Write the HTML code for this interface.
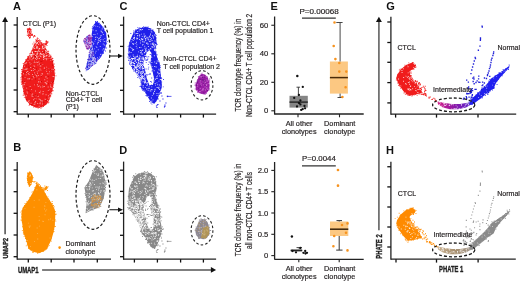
<!DOCTYPE html>
<html><head><meta charset="utf-8"><style>
html,body{margin:0;padding:0;background:#fff;width:520px;height:281px;overflow:hidden}
svg{display:block;will-change:transform}
text{font-family:"Liberation Sans",sans-serif}
</style></head><body>
<svg width="520" height="281" viewBox="0 0 520 281">
<rect width="520" height="281" fill="#fff"/>
<text x="13.0" y="9.8" font-size="11" font-weight="bold" text-anchor="start" fill="#111" >A</text>
<text x="22.8" y="25.6" font-size="7" font-weight="normal" text-anchor="start" fill="#231f20" stroke="#231f20" stroke-width="0.18" >CTCL (P1)</text>
<line x1="17.2" y1="17" x2="17.2" y2="114.75" stroke="#222" stroke-width="1.3" />
<line x1="17.2" y1="114.1" x2="111" y2="114.1" stroke="#222" stroke-width="1.3" />
<line x1="13.6" y1="25" x2="17.2" y2="25" stroke="#111" stroke-width="1.3" />
<line x1="13.6" y1="46.7" x2="17.2" y2="46.7" stroke="#111" stroke-width="1.3" />
<line x1="13.6" y1="68.3" x2="17.2" y2="68.3" stroke="#111" stroke-width="1.3" />
<line x1="13.6" y1="90" x2="17.2" y2="90" stroke="#111" stroke-width="1.3" />
<line x1="13.6" y1="111.7" x2="17.2" y2="111.7" stroke="#111" stroke-width="1.3" />
<line x1="28.3" y1="114.1" x2="28.3" y2="117.5" stroke="#111" stroke-width="1.3" />
<line x1="51.2" y1="114.1" x2="51.2" y2="117.5" stroke="#111" stroke-width="1.3" />
<line x1="74" y1="114.1" x2="74" y2="117.5" stroke="#111" stroke-width="1.3" />
<line x1="97.3" y1="114.1" x2="97.3" y2="117.5" stroke="#111" stroke-width="1.3" />
<polygon points="36.6,38.7 40.4,41.2 43.6,45.0 46.2,48.9 49.4,54.0 51.3,57.3 53.0,61.0 54.3,68.9 55.0,76.0 54.0,82.0 52.3,91.6 49.5,99.8 46.3,104.7 41.0,107.5 36.0,107.7 29.9,104.7 25.8,99.8 23.4,91.6 21.7,81.8 21.5,76.0 22.0,70.3 23.9,63.0 27.6,57.3 30.8,52.8 32.7,47.6 34.7,43.2" fill="#f01c1c" />
<path d="M31.9 48.7h0.9v0.9h-0.9zM39.0 63.5h0.9v0.9h-0.9zM23.0 73.3h0.9v0.9h-0.9zM22.3 68.2h0.9v0.9h-0.9zM35.3 95.3h0.9v0.9h-0.9zM42.1 103.6h0.9v0.9h-0.9zM40.4 65.6h0.9v0.9h-0.9zM49.8 58.2h0.9v0.9h-0.9zM31.4 94.6h0.9v0.9h-0.9zM27.1 78.4h0.9v0.9h-0.9zM42.5 63.9h0.9v0.9h-0.9zM39.4 42.6h0.9v0.9h-0.9zM43.8 67.8h0.9v0.9h-0.9zM31.6 78.7h0.9v0.9h-0.9zM36.2 58.9h0.9v0.9h-0.9zM47.7 86.5h0.9v0.9h-0.9zM29.2 77.9h0.9v0.9h-0.9zM38.6 98.6h0.9v0.9h-0.9zM45.5 58.1h0.9v0.9h-0.9zM35.1 90.5h0.9v0.9h-0.9zM26.1 72.0h0.9v0.9h-0.9zM22.4 84.4h0.9v0.9h-0.9zM46.7 77.8h0.9v0.9h-0.9zM50.4 59.9h0.9v0.9h-0.9zM44.3 79.3h0.9v0.9h-0.9zM40.5 69.7h0.9v0.9h-0.9zM36.9 84.1h0.9v0.9h-0.9zM23.1 86.7h0.9v0.9h-0.9zM48.6 57.9h0.9v0.9h-0.9zM34.0 84.4h0.9v0.9h-0.9zM21.8 70.1h0.9v0.9h-0.9zM23.0 91.3h0.9v0.9h-0.9zM34.1 98.4h0.9v0.9h-0.9zM23.7 69.2h0.9v0.9h-0.9zM39.5 99.2h0.9v0.9h-0.9zM48.5 97.9h0.9v0.9h-0.9zM30.4 66.9h0.9v0.9h-0.9zM33.1 99.3h0.9v0.9h-0.9zM28.9 71.7h0.9v0.9h-0.9zM40.8 56.4h0.9v0.9h-0.9zM33.4 77.3h0.9v0.9h-0.9zM38.3 80.9h0.9v0.9h-0.9zM51.2 92.1h0.9v0.9h-0.9zM50.3 93.3h0.9v0.9h-0.9zM34.2 65.8h0.9v0.9h-0.9zM24.5 82.0h0.9v0.9h-0.9zM24.4 63.3h0.9v0.9h-0.9zM41.6 48.5h0.9v0.9h-0.9zM29.5 62.2h0.9v0.9h-0.9zM33.2 46.7h0.9v0.9h-0.9zM36.7 71.6h0.9v0.9h-0.9zM32.5 56.5h0.9v0.9h-0.9zM38.7 48.4h0.9v0.9h-0.9zM38.7 105.8h0.9v0.9h-0.9zM50.0 86.3h0.9v0.9h-0.9zM29.8 63.6h0.9v0.9h-0.9zM26.6 91.5h0.9v0.9h-0.9zM38.9 92.0h0.9v0.9h-0.9zM32.1 53.6h0.9v0.9h-0.9zM49.6 93.9h0.9v0.9h-0.9zM48.5 89.3h0.9v0.9h-0.9zM28.6 74.0h0.9v0.9h-0.9zM29.7 86.0h0.9v0.9h-0.9zM53.1 69.1h0.9v0.9h-0.9zM42.0 100.4h0.9v0.9h-0.9zM49.2 71.3h0.9v0.9h-0.9zM42.9 93.4h0.9v0.9h-0.9zM23.9 83.8h0.9v0.9h-0.9zM46.2 71.2h0.9v0.9h-0.9zM27.0 92.7h0.9v0.9h-0.9zM32.2 93.5h0.9v0.9h-0.9zM34.5 103.6h0.9v0.9h-0.9zM45.3 50.0h0.9v0.9h-0.9zM25.9 95.3h0.9v0.9h-0.9zM32.8 76.1h0.9v0.9h-0.9zM38.7 102.7h0.9v0.9h-0.9zM35.6 98.4h0.9v0.9h-0.9zM29.5 58.5h0.9v0.9h-0.9zM29.1 78.7h0.9v0.9h-0.9zM29.7 67.2h0.9v0.9h-0.9zM32.9 69.9h0.9v0.9h-0.9zM40.6 100.6h0.9v0.9h-0.9zM35.1 101.6h0.9v0.9h-0.9zM37.9 74.9h0.9v0.9h-0.9zM35.8 50.9h0.9v0.9h-0.9zM26.8 70.9h0.9v0.9h-0.9zM45.3 76.6h0.9v0.9h-0.9zM32.0 74.0h0.9v0.9h-0.9zM39.7 92.4h0.9v0.9h-0.9zM24.6 76.9h0.9v0.9h-0.9zM29.4 57.4h0.9v0.9h-0.9zM46.9 73.3h0.9v0.9h-0.9zM39.9 90.7h0.9v0.9h-0.9zM51.6 68.8h0.9v0.9h-0.9zM41.6 73.1h0.9v0.9h-0.9zM38.2 86.0h0.9v0.9h-0.9zM36.2 75.0h0.9v0.9h-0.9zM37.1 103.2h0.9v0.9h-0.9zM44.5 98.7h0.9v0.9h-0.9zM39.8 103.3h0.9v0.9h-0.9zM25.1 68.8h0.9v0.9h-0.9zM23.5 84.4h0.9v0.9h-0.9zM47.3 100.1h0.9v0.9h-0.9zM26.2 87.7h0.9v0.9h-0.9zM43.2 48.1h0.9v0.9h-0.9zM34.4 71.9h0.9v0.9h-0.9zM26.5 68.0h0.9v0.9h-0.9zM38.3 61.6h0.9v0.9h-0.9zM27.6 60.2h0.9v0.9h-0.9zM39.6 68.6h0.9v0.9h-0.9zM42.0 73.6h0.9v0.9h-0.9zM35.2 101.1h0.9v0.9h-0.9zM48.5 56.1h0.9v0.9h-0.9zM40.2 86.6h0.9v0.9h-0.9zM44.1 67.6h0.9v0.9h-0.9zM42.3 93.6h0.9v0.9h-0.9zM36.3 61.7h0.9v0.9h-0.9zM39.6 102.2h0.9v0.9h-0.9zM38.7 54.7h0.9v0.9h-0.9zM31.5 59.3h0.9v0.9h-0.9zM46.5 58.3h0.9v0.9h-0.9zM37.8 50.5h0.9v0.9h-0.9zM45.6 76.3h0.9v0.9h-0.9zM27.4 71.0h0.9v0.9h-0.9zM48.5 68.1h0.9v0.9h-0.9zM37.6 95.8h0.9v0.9h-0.9zM34.2 73.2h0.9v0.9h-0.9zM32.5 95.7h0.9v0.9h-0.9zM44.7 82.1h0.9v0.9h-0.9zM34.6 62.2h0.9v0.9h-0.9zM23.4 89.4h0.9v0.9h-0.9zM50.2 84.5h0.9v0.9h-0.9zM30.5 55.0h0.9v0.9h-0.9zM30.9 70.0h0.9v0.9h-0.9zM26.3 69.0h0.9v0.9h-0.9zM53.6 76.0h0.9v0.9h-0.9zM31.4 62.9h0.9v0.9h-0.9zM37.0 72.9h0.9v0.9h-0.9zM27.8 73.1h0.9v0.9h-0.9zM24.1 65.8h0.9v0.9h-0.9zM31.2 54.3h0.9v0.9h-0.9zM40.7 74.8h0.9v0.9h-0.9zM46.2 83.6h0.9v0.9h-0.9zM45.0 98.9h0.9v0.9h-0.9zM34.1 60.8h0.9v0.9h-0.9zM45.3 82.6h0.9v0.9h-0.9zM50.9 81.5h0.9v0.9h-0.9zM45.6 94.3h0.9v0.9h-0.9zM25.7 74.4h0.9v0.9h-0.9zM37.9 95.9h0.9v0.9h-0.9zM48.0 95.3h0.9v0.9h-0.9zM40.6 99.9h0.9v0.9h-0.9zM43.9 86.1h0.9v0.9h-0.9zM25.5 63.1h0.9v0.9h-0.9zM24.6 95.9h0.9v0.9h-0.9zM39.8 81.6h0.9v0.9h-0.9zM42.0 85.2h0.9v0.9h-0.9zM47.8 89.9h0.9v0.9h-0.9zM37.9 75.2h0.9v0.9h-0.9zM45.7 55.7h0.9v0.9h-0.9zM45.5 52.4h0.9v0.9h-0.9zM37.6 64.6h0.9v0.9h-0.9zM37.1 85.4h0.9v0.9h-0.9zM46.7 80.8h0.9v0.9h-0.9zM45.9 59.3h0.9v0.9h-0.9zM43.6 86.0h0.9v0.9h-0.9zM43.7 58.3h0.9v0.9h-0.9zM38.4 70.3h0.9v0.9h-0.9zM36.7 46.4h0.9v0.9h-0.9zM21.6 69.9h0.9v0.9h-0.9zM36.1 56.8h0.9v0.9h-0.9zM28.1 78.4h0.9v0.9h-0.9zM25.8 74.4h0.9v0.9h-0.9zM48.5 73.4h0.9v0.9h-0.9zM50.8 86.8h0.9v0.9h-0.9zM28.8 100.2h0.9v0.9h-0.9zM37.3 40.0h0.9v0.9h-0.9zM36.2 59.1h0.9v0.9h-0.9zM25.8 62.0h0.9v0.9h-0.9zM31.6 96.2h0.9v0.9h-0.9zM52.1 87.4h0.9v0.9h-0.9zM51.3 58.2h0.9v0.9h-0.9zM33.5 65.4h0.9v0.9h-0.9zM33.1 67.8h0.9v0.9h-0.9zM24.5 95.8h0.9v0.9h-0.9zM30.6 102.8h0.9v0.9h-0.9zM29.4 56.6h0.9v0.9h-0.9zM38.2 51.3h0.9v0.9h-0.9zM33.6 104.2h0.9v0.9h-0.9zM50.7 94.3h0.9v0.9h-0.9zM42.2 101.3h0.9v0.9h-0.9zM52.6 76.1h0.9v0.9h-0.9zM45.6 69.4h0.9v0.9h-0.9zM46.3 82.7h0.9v0.9h-0.9zM36.9 62.0h0.9v0.9h-0.9zM31.0 89.2h0.9v0.9h-0.9zM43.0 59.0h0.9v0.9h-0.9zM39.7 65.5h0.9v0.9h-0.9zM28.0 100.8h0.9v0.9h-0.9zM37.7 53.4h0.9v0.9h-0.9zM36.1 47.9h0.9v0.9h-0.9zM29.1 56.1h0.9v0.9h-0.9zM40.1 99.5h0.9v0.9h-0.9zM46.2 66.7h0.9v0.9h-0.9zM34.9 74.4h0.9v0.9h-0.9zM33.7 61.6h0.9v0.9h-0.9zM37.9 81.7h0.9v0.9h-0.9zM30.1 55.4h0.9v0.9h-0.9zM34.4 69.0h0.9v0.9h-0.9zM51.1 70.9h0.9v0.9h-0.9zM34.2 102.2h0.9v0.9h-0.9zM48.7 97.3h0.9v0.9h-0.9zM38.5 85.3h0.9v0.9h-0.9zM42.7 91.0h0.9v0.9h-0.9zM36.4 76.3h0.9v0.9h-0.9zM28.8 101.7h0.9v0.9h-0.9zM42.7 59.2h0.9v0.9h-0.9zM42.4 86.5h0.9v0.9h-0.9zM38.6 78.5h0.9v0.9h-0.9zM34.1 53.7h0.9v0.9h-0.9zM31.2 70.0h0.9v0.9h-0.9zM53.2 82.7h0.9v0.9h-0.9z" fill="#ffffff" opacity="0.6"/>
<path d="M50.7 71.0h0.9v0.9h-0.9zM28.9 55.3h0.9v0.9h-0.9zM37.7 84.8h0.9v0.9h-0.9zM35.1 56.0h0.9v0.9h-0.9zM43.4 102.1h0.9v0.9h-0.9zM32.4 67.3h0.9v0.9h-0.9zM43.9 51.9h0.9v0.9h-0.9zM47.8 89.2h0.9v0.9h-0.9zM38.0 52.4h0.9v0.9h-0.9zM48.5 54.2h0.9v0.9h-0.9zM28.5 90.7h0.9v0.9h-0.9zM30.9 103.9h0.9v0.9h-0.9zM37.7 51.2h0.9v0.9h-0.9zM28.5 67.0h0.9v0.9h-0.9zM43.3 103.7h0.9v0.9h-0.9zM26.0 65.4h0.9v0.9h-0.9zM23.1 65.4h0.9v0.9h-0.9zM52.3 61.0h0.9v0.9h-0.9zM43.3 64.4h0.9v0.9h-0.9zM33.6 61.1h0.9v0.9h-0.9zM30.4 62.5h0.9v0.9h-0.9zM33.0 94.9h0.9v0.9h-0.9zM48.6 68.1h0.9v0.9h-0.9zM22.7 70.9h0.9v0.9h-0.9zM33.5 101.7h0.9v0.9h-0.9zM27.5 63.4h0.9v0.9h-0.9zM34.8 94.3h0.9v0.9h-0.9zM46.1 100.3h0.9v0.9h-0.9zM32.4 57.0h0.9v0.9h-0.9zM53.1 80.8h0.9v0.9h-0.9zM29.8 87.7h0.9v0.9h-0.9zM31.7 57.3h0.9v0.9h-0.9zM51.8 82.0h0.9v0.9h-0.9zM28.9 71.0h0.9v0.9h-0.9zM34.0 55.6h0.9v0.9h-0.9zM35.5 72.3h0.9v0.9h-0.9zM47.9 89.2h0.9v0.9h-0.9zM48.6 91.6h0.9v0.9h-0.9zM41.4 60.9h0.9v0.9h-0.9zM31.8 63.2h0.9v0.9h-0.9zM27.7 90.2h0.9v0.9h-0.9zM22.2 76.4h0.9v0.9h-0.9zM24.3 72.6h0.9v0.9h-0.9zM44.8 69.1h0.9v0.9h-0.9zM28.9 67.0h0.9v0.9h-0.9zM41.8 84.8h0.9v0.9h-0.9zM46.1 96.7h0.9v0.9h-0.9zM43.3 46.6h0.9v0.9h-0.9zM49.2 58.5h0.9v0.9h-0.9zM40.0 64.0h0.9v0.9h-0.9zM45.8 52.0h0.9v0.9h-0.9zM29.3 55.2h0.9v0.9h-0.9zM26.2 99.3h0.9v0.9h-0.9zM40.4 60.8h0.9v0.9h-0.9zM38.0 54.2h0.9v0.9h-0.9zM48.1 83.3h0.9v0.9h-0.9zM37.0 94.8h0.9v0.9h-0.9zM53.6 78.5h0.9v0.9h-0.9zM52.2 63.9h0.9v0.9h-0.9zM50.1 69.2h0.9v0.9h-0.9zM29.8 91.9h0.9v0.9h-0.9zM41.0 81.0h0.9v0.9h-0.9zM28.3 63.7h0.9v0.9h-0.9zM29.6 79.6h0.9v0.9h-0.9zM42.9 52.3h0.9v0.9h-0.9zM43.8 51.0h0.9v0.9h-0.9zM31.5 52.3h0.9v0.9h-0.9zM47.7 76.1h0.9v0.9h-0.9zM34.3 76.2h0.9v0.9h-0.9zM42.5 44.5h0.9v0.9h-0.9zM26.5 86.2h0.9v0.9h-0.9zM34.8 57.8h0.9v0.9h-0.9zM31.4 104.0h0.9v0.9h-0.9zM31.5 77.3h0.9v0.9h-0.9zM33.0 67.0h0.9v0.9h-0.9zM33.2 51.9h0.9v0.9h-0.9zM45.4 52.3h0.9v0.9h-0.9zM35.2 94.9h0.9v0.9h-0.9zM34.7 99.2h0.9v0.9h-0.9zM36.5 49.5h0.9v0.9h-0.9zM21.5 76.3h0.9v0.9h-0.9zM42.5 101.0h0.9v0.9h-0.9zM24.0 81.2h0.9v0.9h-0.9zM33.5 73.1h0.9v0.9h-0.9zM38.5 102.1h0.9v0.9h-0.9zM24.7 72.1h0.9v0.9h-0.9zM37.2 41.9h0.9v0.9h-0.9zM52.1 65.0h0.9v0.9h-0.9zM51.3 81.1h0.9v0.9h-0.9zM47.4 53.6h0.9v0.9h-0.9zM34.6 96.6h0.9v0.9h-0.9zM28.4 65.8h0.9v0.9h-0.9zM38.4 64.7h0.9v0.9h-0.9zM45.3 100.2h0.9v0.9h-0.9zM22.4 77.1h0.9v0.9h-0.9zM41.1 76.2h0.9v0.9h-0.9zM42.1 59.4h0.9v0.9h-0.9zM35.1 78.5h0.9v0.9h-0.9zM35.3 83.7h0.9v0.9h-0.9zM36.0 68.5h0.9v0.9h-0.9zM21.8 81.0h0.9v0.9h-0.9z" fill="#c00000" opacity="0.8"/>
<path d="M40.5 108.2h0.9v0.9h-0.9zM21.1 70.7h0.9v0.9h-0.9zM43.0 106.1h0.9v0.9h-0.9zM48.4 101.8h0.9v0.9h-0.9zM38.0 107.4h0.9v0.9h-0.9zM45.2 46.6h0.9v0.9h-0.9zM37.6 107.5h0.9v0.9h-0.9zM51.4 93.4h0.9v0.9h-0.9zM26.9 58.9h0.9v0.9h-0.9zM23.5 66.9h0.9v0.9h-0.9zM41.5 106.7h0.9v0.9h-0.9zM52.4 57.9h0.9v0.9h-0.9zM43.1 46.5h0.9v0.9h-0.9zM52.1 58.2h0.9v0.9h-0.9zM23.3 65.6h0.9v0.9h-0.9zM31.2 50.8h0.9v0.9h-0.9zM37.6 107.3h0.9v0.9h-0.9zM53.7 63.5h0.9v0.9h-0.9zM22.5 86.6h0.9v0.9h-0.9zM22.2 70.4h0.9v0.9h-0.9zM22.8 94.8h0.9v0.9h-0.9zM29.0 104.0h0.9v0.9h-0.9zM48.2 50.8h0.9v0.9h-0.9zM50.3 95.5h0.9v0.9h-0.9zM35.0 39.4h0.9v0.9h-0.9zM20.9 73.2h0.9v0.9h-0.9zM22.3 76.9h0.9v0.9h-0.9zM53.1 72.1h0.9v0.9h-0.9zM26.5 100.6h0.9v0.9h-0.9zM36.8 38.5h0.9v0.9h-0.9zM23.9 97.2h0.9v0.9h-0.9zM29.7 54.2h0.9v0.9h-0.9zM23.0 91.1h0.9v0.9h-0.9zM52.6 90.3h0.9v0.9h-0.9zM53.1 68.4h0.9v0.9h-0.9zM52.8 65.1h0.9v0.9h-0.9zM50.3 54.8h0.9v0.9h-0.9zM51.8 57.7h0.9v0.9h-0.9zM27.2 56.3h0.9v0.9h-0.9zM55.5 75.4h0.9v0.9h-0.9zM28.7 104.9h0.9v0.9h-0.9zM47.6 102.7h0.9v0.9h-0.9zM54.5 72.7h0.9v0.9h-0.9zM33.3 106.7h0.9v0.9h-0.9zM43.2 44.4h0.9v0.9h-0.9zM31.3 104.8h0.9v0.9h-0.9zM52.6 64.4h0.9v0.9h-0.9zM23.6 92.5h0.9v0.9h-0.9zM53.3 82.8h0.9v0.9h-0.9zM29.0 53.5h0.9v0.9h-0.9zM37.7 37.9h0.9v0.9h-0.9zM43.9 104.5h0.9v0.9h-0.9zM54.3 69.5h0.9v0.9h-0.9zM40.5 43.1h0.9v0.9h-0.9zM22.4 83.4h0.9v0.9h-0.9zM53.8 75.4h0.9v0.9h-0.9zM21.2 69.1h0.9v0.9h-0.9zM23.9 92.7h0.9v0.9h-0.9zM28.4 55.9h0.9v0.9h-0.9zM54.0 69.1h0.9v0.9h-0.9zM20.4 77.3h0.9v0.9h-0.9zM52.9 87.2h0.9v0.9h-0.9zM23.6 93.6h0.9v0.9h-0.9zM33.5 41.7h0.9v0.9h-0.9zM22.2 83.3h0.9v0.9h-0.9zM20.6 79.3h0.9v0.9h-0.9zM53.4 66.7h0.9v0.9h-0.9zM30.7 51.8h0.9v0.9h-0.9zM48.0 50.9h0.9v0.9h-0.9zM50.6 56.1h0.9v0.9h-0.9zM21.1 83.9h0.9v0.9h-0.9zM22.0 78.0h0.9v0.9h-0.9zM52.3 90.1h0.9v0.9h-0.9zM30.2 54.9h0.9v0.9h-0.9zM31.1 51.0h0.9v0.9h-0.9zM53.6 66.0h0.9v0.9h-0.9zM25.3 59.3h0.9v0.9h-0.9zM22.8 63.0h0.9v0.9h-0.9zM47.8 50.9h0.9v0.9h-0.9zM53.1 66.4h0.9v0.9h-0.9zM39.0 40.7h0.9v0.9h-0.9zM20.8 81.5h0.9v0.9h-0.9zM32.5 43.6h0.9v0.9h-0.9zM25.2 96.7h0.9v0.9h-0.9zM47.3 101.5h0.9v0.9h-0.9zM21.0 82.7h0.9v0.9h-0.9zM27.3 58.9h0.9v0.9h-0.9zM52.9 60.2h0.9v0.9h-0.9zM21.3 73.5h0.9v0.9h-0.9zM38.9 107.1h0.9v0.9h-0.9z" fill="#f01c1c" opacity="0.95"/>
<path d="M35.4 55.1h0.9v0.9h-0.9zM33.3 57.4h0.9v0.9h-0.9zM43.7 48.4h0.9v0.9h-0.9zM29.1 54.2h0.9v0.9h-0.9zM43.7 54.2h0.9v0.9h-0.9zM42.0 45.5h0.9v0.9h-0.9zM36.7 46.3h0.9v0.9h-0.9zM36.1 56.2h0.9v0.9h-0.9zM32.7 47.6h0.9v0.9h-0.9zM39.7 53.6h0.9v0.9h-0.9zM45.0 51.4h0.9v0.9h-0.9zM35.4 44.9h0.9v0.9h-0.9zM30.8 55.4h0.9v0.9h-0.9zM42.8 53.3h0.9v0.9h-0.9zM45.5 50.0h0.9v0.9h-0.9zM43.8 55.4h0.9v0.9h-0.9zM39.5 41.5h0.9v0.9h-0.9zM34.9 42.1h0.9v0.9h-0.9zM44.5 47.1h0.9v0.9h-0.9zM31.8 51.2h0.9v0.9h-0.9zM36.4 38.9h0.9v0.9h-0.9zM36.6 54.3h0.9v0.9h-0.9zM43.6 48.4h0.9v0.9h-0.9zM42.1 47.7h0.9v0.9h-0.9zM36.7 53.3h0.9v0.9h-0.9zM40.8 53.5h0.9v0.9h-0.9zM37.1 42.9h0.9v0.9h-0.9zM44.3 56.1h0.9v0.9h-0.9zM45.5 52.5h0.9v0.9h-0.9zM47.4 52.0h0.9v0.9h-0.9zM42.4 47.5h0.9v0.9h-0.9zM34.6 51.0h0.9v0.9h-0.9zM45.7 52.7h0.9v0.9h-0.9zM42.1 43.3h0.9v0.9h-0.9zM37.2 47.5h0.9v0.9h-0.9zM41.9 46.6h0.9v0.9h-0.9zM43.2 57.1h0.9v0.9h-0.9zM31.5 51.5h0.9v0.9h-0.9zM38.8 58.0h0.9v0.9h-0.9zM31.0 54.1h0.9v0.9h-0.9zM40.0 52.8h0.9v0.9h-0.9zM39.3 51.2h0.9v0.9h-0.9zM36.9 57.5h0.9v0.9h-0.9zM32.1 52.1h0.9v0.9h-0.9zM36.5 53.7h0.9v0.9h-0.9zM33.7 46.4h0.9v0.9h-0.9zM37.1 52.4h0.9v0.9h-0.9zM35.5 43.6h0.9v0.9h-0.9zM32.5 53.3h0.9v0.9h-0.9zM32.3 54.5h0.9v0.9h-0.9zM36.4 42.6h0.9v0.9h-0.9zM30.2 54.0h0.9v0.9h-0.9zM46.3 51.1h0.9v0.9h-0.9zM38.3 49.7h0.9v0.9h-0.9zM32.5 57.8h0.9v0.9h-0.9zM35.5 51.2h0.9v0.9h-0.9zM46.6 54.8h0.9v0.9h-0.9zM38.2 44.2h0.9v0.9h-0.9zM36.1 43.4h0.9v0.9h-0.9zM37.2 42.0h0.9v0.9h-0.9zM34.3 48.0h0.9v0.9h-0.9zM37.3 51.2h0.9v0.9h-0.9zM42.8 45.6h0.9v0.9h-0.9zM49.2 55.6h0.9v0.9h-0.9zM28.5 55.1h0.9v0.9h-0.9zM48.6 54.2h0.9v0.9h-0.9zM30.5 55.1h0.9v0.9h-0.9zM32.7 54.0h0.9v0.9h-0.9zM35.4 41.3h0.9v0.9h-0.9zM48.6 54.3h0.9v0.9h-0.9zM31.1 56.3h0.9v0.9h-0.9zM41.6 54.1h0.9v0.9h-0.9zM43.0 56.4h0.9v0.9h-0.9zM45.8 55.3h0.9v0.9h-0.9zM31.8 52.3h0.9v0.9h-0.9zM39.7 53.3h0.9v0.9h-0.9zM37.5 56.2h0.9v0.9h-0.9zM40.3 43.6h0.9v0.9h-0.9zM38.2 41.2h0.9v0.9h-0.9zM38.8 48.4h0.9v0.9h-0.9zM39.9 55.8h0.9v0.9h-0.9zM38.2 49.7h0.9v0.9h-0.9zM42.9 55.3h0.9v0.9h-0.9zM36.0 46.8h0.9v0.9h-0.9zM42.2 51.2h0.9v0.9h-0.9zM43.3 57.2h0.9v0.9h-0.9zM35.0 58.2h0.9v0.9h-0.9zM39.3 48.1h0.9v0.9h-0.9z" fill="#ffffff" opacity="0.85"/>
<polygon points="29.5,27.6 31.0,29.0 31.6,31.6 31.2,35.0 30.6,38.0 29.5,39.0 28.3,36.0 27.0,31.6 27.6,29.0" fill="#f01c1c" />
<path d="M29.9 34.3h0.9v0.9h-0.9zM28.2 32.6h0.9v0.9h-0.9zM29.0 35.9h0.9v0.9h-0.9zM27.5 32.1h0.9v0.9h-0.9zM28.5 33.5h0.9v0.9h-0.9zM30.4 30.5h0.9v0.9h-0.9zM30.4 31.8h0.9v0.9h-0.9zM28.9 30.2h0.9v0.9h-0.9zM29.6 36.2h0.9v0.9h-0.9zM28.1 30.8h0.9v0.9h-0.9z" fill="#ffffff" opacity="0.8"/>
<path d="M30.2 33.7h0.9v0.9h-0.9zM27.5 31.8h0.9v0.9h-0.9zM26.9 29.1h0.9v0.9h-0.9zM31.1 34.1h0.9v0.9h-0.9zM26.9 27.9h0.9v0.9h-0.9zM27.2 31.1h0.9v0.9h-0.9zM27.4 35.2h0.9v0.9h-0.9zM28.0 35.9h0.9v0.9h-0.9zM26.7 34.7h0.9v0.9h-0.9zM30.7 29.2h0.9v0.9h-0.9zM27.4 31.5h0.9v0.9h-0.9zM30.9 35.0h0.9v0.9h-0.9z" fill="#f01c1c" opacity="0.95"/>
<polygon points="46.3,40.8 47.6,42.3 46.5,45.0 44.4,45.5 44.5,43.5" fill="#f01c1c" />
<path d="M45.7 41.6h0.9v0.9h-0.9zM44.9 42.3h0.9v0.9h-0.9z" fill="#ffffff" opacity="0.8"/>
<path d="M45.8 43.9h0.9v0.9h-0.9zM46.0 41.2h0.9v0.9h-0.9zM46.8 41.3h0.9v0.9h-0.9zM44.4 44.8h0.9v0.9h-0.9zM45.5 40.9h0.9v0.9h-0.9zM46.0 40.9h0.9v0.9h-0.9zM46.5 45.0h0.9v0.9h-0.9zM47.0 42.5h0.9v0.9h-0.9zM45.8 40.2h0.9v0.9h-0.9zM46.5 41.2h0.9v0.9h-0.9zM47.7 41.6h0.9v0.9h-0.9zM46.7 42.5h0.9v0.9h-0.9z" fill="#f01c1c" opacity="0.95"/>
<path d="M43.3 43.3h0.9v0.9h-0.9zM41.7 44.6h0.9v0.9h-0.9zM41.6 44.3h0.9v0.9h-0.9zM42.1 43.6h0.9v0.9h-0.9zM33.5 35.6h0.9v0.9h-0.9zM43.4 43.0h0.9v0.9h-0.9zM33.7 35.5h0.9v0.9h-0.9zM32.1 33.8h0.9v0.9h-0.9zM43.6 45.9h0.9v0.9h-0.9zM42.8 44.8h0.9v0.9h-0.9zM41.3 42.3h0.9v0.9h-0.9zM31.8 35.0h0.9v0.9h-0.9zM34.1 35.0h0.9v0.9h-0.9zM42.3 44.6h0.9v0.9h-0.9zM36.9 37.5h0.9v0.9h-0.9zM40.3 40.3h0.9v0.9h-0.9zM33.1 36.6h0.9v0.9h-0.9zM34.4 35.8h0.9v0.9h-0.9zM32.1 34.3h0.9v0.9h-0.9zM39.0 39.5h0.9v0.9h-0.9zM34.6 35.8h0.9v0.9h-0.9zM42.0 44.3h0.9v0.9h-0.9zM41.7 44.3h0.9v0.9h-0.9zM37.7 40.0h0.9v0.9h-0.9z" fill="#f01c1c" opacity="1.0"/>
<polygon points="96.4,21.4 100.0,23.5 103.6,27.8 106.0,33.0 106.8,39.0 106.2,44.0 105.5,48.0 103.5,52.0 100.9,57.3 98.0,60.0 95.0,58.0 93.0,52.0 92.0,45.0 91.5,36.0 92.5,28.0 93.6,25.0" fill="#2222ee" />
<path d="M93.8 24.9h0.9v0.9h-0.9zM94.9 52.5h0.9v0.9h-0.9zM101.7 28.5h0.9v0.9h-0.9zM99.9 41.1h0.9v0.9h-0.9zM104.4 48.6h0.9v0.9h-0.9zM98.6 40.3h0.9v0.9h-0.9zM95.3 25.7h0.9v0.9h-0.9zM97.3 26.2h0.9v0.9h-0.9zM100.1 54.2h0.9v0.9h-0.9zM93.3 43.1h0.9v0.9h-0.9zM102.5 27.3h0.9v0.9h-0.9zM97.0 37.2h0.9v0.9h-0.9zM103.9 41.2h0.9v0.9h-0.9zM97.1 57.3h0.9v0.9h-0.9zM102.9 34.0h0.9v0.9h-0.9zM94.7 33.9h0.9v0.9h-0.9zM97.7 58.8h0.9v0.9h-0.9zM91.9 40.9h0.9v0.9h-0.9zM94.9 37.2h0.9v0.9h-0.9zM100.7 35.0h0.9v0.9h-0.9zM99.2 23.6h0.9v0.9h-0.9zM97.7 40.4h0.9v0.9h-0.9zM105.4 45.4h0.9v0.9h-0.9zM100.9 31.2h0.9v0.9h-0.9zM101.4 31.5h0.9v0.9h-0.9zM99.3 56.6h0.9v0.9h-0.9zM100.6 30.6h0.9v0.9h-0.9zM99.0 37.7h0.9v0.9h-0.9zM95.7 45.9h0.9v0.9h-0.9zM92.9 43.9h0.9v0.9h-0.9zM105.7 40.8h0.9v0.9h-0.9zM95.2 39.0h0.9v0.9h-0.9zM99.2 26.7h0.9v0.9h-0.9zM92.9 26.0h0.9v0.9h-0.9zM95.5 36.6h0.9v0.9h-0.9zM95.5 30.3h0.9v0.9h-0.9zM92.4 42.0h0.9v0.9h-0.9zM103.9 44.5h0.9v0.9h-0.9zM99.8 46.1h0.9v0.9h-0.9zM94.1 48.4h0.9v0.9h-0.9zM98.1 42.1h0.9v0.9h-0.9zM100.4 39.1h0.9v0.9h-0.9zM95.8 30.3h0.9v0.9h-0.9zM94.4 40.7h0.9v0.9h-0.9zM96.9 43.6h0.9v0.9h-0.9zM91.2 34.6h0.9v0.9h-0.9zM104.2 30.2h0.9v0.9h-0.9zM99.6 39.9h0.9v0.9h-0.9zM95.6 50.8h0.9v0.9h-0.9zM104.4 37.9h0.9v0.9h-0.9zM92.0 35.9h0.9v0.9h-0.9zM97.8 49.3h0.9v0.9h-0.9zM92.7 29.6h0.9v0.9h-0.9zM93.4 34.0h0.9v0.9h-0.9zM96.4 47.0h0.9v0.9h-0.9zM100.5 53.8h0.9v0.9h-0.9zM103.6 40.9h0.9v0.9h-0.9zM102.4 49.6h0.9v0.9h-0.9zM102.7 39.3h0.9v0.9h-0.9zM103.1 48.3h0.9v0.9h-0.9zM102.8 43.6h0.9v0.9h-0.9zM98.7 58.1h0.9v0.9h-0.9zM99.8 37.1h0.9v0.9h-0.9zM100.3 35.6h0.9v0.9h-0.9zM98.0 38.6h0.9v0.9h-0.9zM102.1 32.3h0.9v0.9h-0.9zM97.0 42.4h0.9v0.9h-0.9zM96.9 33.4h0.9v0.9h-0.9zM98.7 38.1h0.9v0.9h-0.9z" fill="#ffffff" opacity="0.7"/>
<path d="M105.5 33.4h0.9v0.9h-0.9zM93.9 56.1h0.9v0.9h-0.9zM91.8 27.8h0.9v0.9h-0.9zM91.7 33.7h0.9v0.9h-0.9zM102.3 53.2h0.9v0.9h-0.9zM98.9 22.7h0.9v0.9h-0.9zM92.4 26.0h0.9v0.9h-0.9zM95.1 21.0h0.9v0.9h-0.9zM91.5 47.4h0.9v0.9h-0.9zM92.7 55.8h0.9v0.9h-0.9zM91.7 47.7h0.9v0.9h-0.9zM103.6 49.7h0.9v0.9h-0.9zM95.3 55.3h0.9v0.9h-0.9zM98.8 58.0h0.9v0.9h-0.9zM95.3 21.8h0.9v0.9h-0.9zM91.3 36.2h0.9v0.9h-0.9zM95.1 21.8h0.9v0.9h-0.9zM103.8 26.6h0.9v0.9h-0.9zM92.3 35.2h0.9v0.9h-0.9zM102.7 53.2h0.9v0.9h-0.9zM97.6 59.1h0.9v0.9h-0.9zM105.0 32.3h0.9v0.9h-0.9zM105.9 47.5h0.9v0.9h-0.9zM98.2 23.4h0.9v0.9h-0.9zM105.7 43.5h0.9v0.9h-0.9zM106.2 42.7h0.9v0.9h-0.9zM92.3 49.2h0.9v0.9h-0.9zM94.9 58.7h0.9v0.9h-0.9zM97.4 58.9h0.9v0.9h-0.9zM103.1 52.3h0.9v0.9h-0.9zM91.5 40.8h0.9v0.9h-0.9zM104.2 31.8h0.9v0.9h-0.9zM93.2 53.0h0.9v0.9h-0.9zM97.0 21.0h0.9v0.9h-0.9zM91.3 44.7h0.9v0.9h-0.9zM107.2 40.9h0.9v0.9h-0.9zM93.5 56.2h0.9v0.9h-0.9zM105.0 50.5h0.9v0.9h-0.9zM94.5 55.5h0.9v0.9h-0.9zM92.9 52.7h0.9v0.9h-0.9z" fill="#2222ee" opacity="0.95"/>
<polygon points="92.0,44.0 95.0,58.0 98.0,60.0 96.0,63.7 91.2,66.9 88.0,70.0 85.8,71.8 85.5,68.0 87.2,62.1 88.8,54.0 90.5,48.0" fill="#b8b8f8" />
<path d="M88.9 67.9h0.9v0.9h-0.9zM91.1 65.6h0.9v0.9h-0.9zM92.1 46.7h0.9v0.9h-0.9zM91.7 54.3h0.9v0.9h-0.9zM86.6 66.5h0.9v0.9h-0.9zM89.4 50.4h0.9v0.9h-0.9zM93.4 53.0h0.9v0.9h-0.9zM87.0 63.2h0.9v0.9h-0.9zM89.5 63.6h0.9v0.9h-0.9zM91.4 49.9h0.9v0.9h-0.9zM90.7 47.2h0.9v0.9h-0.9zM96.3 59.9h0.9v0.9h-0.9zM89.6 50.4h0.9v0.9h-0.9zM92.7 49.5h0.9v0.9h-0.9zM91.5 58.6h0.9v0.9h-0.9zM88.4 65.0h0.9v0.9h-0.9zM89.9 61.8h0.9v0.9h-0.9zM92.1 52.2h0.9v0.9h-0.9zM87.3 67.2h0.9v0.9h-0.9zM89.1 62.0h0.9v0.9h-0.9zM89.6 57.5h0.9v0.9h-0.9zM86.6 63.5h0.9v0.9h-0.9zM88.6 54.8h0.9v0.9h-0.9zM93.3 53.3h0.9v0.9h-0.9zM90.2 61.9h0.9v0.9h-0.9zM86.5 68.9h0.9v0.9h-0.9zM94.2 63.4h0.9v0.9h-0.9zM88.8 54.1h0.9v0.9h-0.9zM95.5 59.4h0.9v0.9h-0.9zM90.5 62.6h0.9v0.9h-0.9zM95.7 60.4h0.9v0.9h-0.9zM86.4 65.6h0.9v0.9h-0.9zM87.7 69.0h0.9v0.9h-0.9zM93.7 54.5h0.9v0.9h-0.9zM92.9 56.1h0.9v0.9h-0.9zM90.4 57.8h0.9v0.9h-0.9zM88.3 58.7h0.9v0.9h-0.9zM91.8 50.5h0.9v0.9h-0.9zM90.2 49.1h0.9v0.9h-0.9zM93.9 62.2h0.9v0.9h-0.9zM91.5 55.9h0.9v0.9h-0.9zM88.8 68.1h0.9v0.9h-0.9zM89.2 66.2h0.9v0.9h-0.9zM91.9 64.7h0.9v0.9h-0.9zM87.2 62.1h0.9v0.9h-0.9zM92.5 56.4h0.9v0.9h-0.9zM87.5 63.1h0.9v0.9h-0.9zM90.7 46.7h0.9v0.9h-0.9zM89.1 56.6h0.9v0.9h-0.9zM90.5 48.8h0.9v0.9h-0.9zM87.4 61.3h0.9v0.9h-0.9zM87.2 65.4h0.9v0.9h-0.9zM89.7 58.9h0.9v0.9h-0.9zM89.7 66.7h0.9v0.9h-0.9zM92.1 61.0h0.9v0.9h-0.9zM95.3 63.2h0.9v0.9h-0.9zM91.2 57.4h0.9v0.9h-0.9zM90.5 48.9h0.9v0.9h-0.9zM88.6 61.9h0.9v0.9h-0.9zM91.5 55.3h0.9v0.9h-0.9zM89.3 55.7h0.9v0.9h-0.9zM88.7 55.9h0.9v0.9h-0.9zM92.1 53.2h0.9v0.9h-0.9zM89.1 56.4h0.9v0.9h-0.9zM93.5 60.5h0.9v0.9h-0.9zM88.8 59.4h0.9v0.9h-0.9zM93.1 51.9h0.9v0.9h-0.9zM93.5 56.0h0.9v0.9h-0.9zM89.7 59.7h0.9v0.9h-0.9zM90.3 58.3h0.9v0.9h-0.9zM92.1 54.6h0.9v0.9h-0.9zM96.2 58.8h0.9v0.9h-0.9zM86.5 67.5h0.9v0.9h-0.9zM91.7 50.5h0.9v0.9h-0.9zM91.2 59.0h0.9v0.9h-0.9zM87.9 59.5h0.9v0.9h-0.9zM91.9 63.4h0.9v0.9h-0.9zM86.3 66.6h0.9v0.9h-0.9zM89.9 48.3h0.9v0.9h-0.9zM93.9 55.4h0.9v0.9h-0.9zM96.2 60.8h0.9v0.9h-0.9zM96.0 59.2h0.9v0.9h-0.9zM87.2 64.3h0.9v0.9h-0.9zM89.3 64.8h0.9v0.9h-0.9zM86.5 69.3h0.9v0.9h-0.9zM95.5 59.7h0.9v0.9h-0.9zM86.4 65.8h0.9v0.9h-0.9zM87.4 59.0h0.9v0.9h-0.9zM88.7 62.7h0.9v0.9h-0.9zM96.0 58.5h0.9v0.9h-0.9zM87.3 66.3h0.9v0.9h-0.9zM93.5 54.5h0.9v0.9h-0.9zM91.0 48.0h0.9v0.9h-0.9zM96.0 60.5h0.9v0.9h-0.9zM87.8 68.4h0.9v0.9h-0.9zM90.9 59.6h0.9v0.9h-0.9zM89.9 53.4h0.9v0.9h-0.9z" fill="#2222dd" opacity="1.0"/>
<path d="M88.5 57.5h0.9v0.9h-0.9zM88.3 59.4h0.9v0.9h-0.9zM92.1 65.0h0.9v0.9h-0.9zM93.0 61.2h0.9v0.9h-0.9zM89.6 51.4h0.9v0.9h-0.9zM88.8 64.8h0.9v0.9h-0.9zM94.3 57.7h0.9v0.9h-0.9zM93.0 53.3h0.9v0.9h-0.9zM91.9 54.8h0.9v0.9h-0.9zM91.1 53.8h0.9v0.9h-0.9zM85.1 67.8h0.9v0.9h-0.9zM90.7 55.9h0.9v0.9h-0.9zM92.2 52.0h0.9v0.9h-0.9zM88.8 52.1h0.9v0.9h-0.9zM94.1 58.9h0.9v0.9h-0.9zM96.6 59.8h0.9v0.9h-0.9zM89.5 65.1h0.9v0.9h-0.9z" fill="#7a30c0" opacity="1.0"/>
<polygon points="83.2,39.6 86.0,37.0 90.0,34.5 92.0,35.5 91.8,43.0 90.0,48.0 88.0,50.0 86.0,48.0 84.3,44.0" fill="#c8a0e0" />
<path d="M86.5 47.5h0.9v0.9h-0.9zM90.7 38.3h0.9v0.9h-0.9zM84.2 38.2h0.9v0.9h-0.9zM88.9 37.4h0.9v0.9h-0.9zM86.3 37.2h0.9v0.9h-0.9zM88.1 47.4h0.9v0.9h-0.9zM88.5 37.1h0.9v0.9h-0.9zM88.0 35.3h0.9v0.9h-0.9zM84.4 42.4h0.9v0.9h-0.9zM90.5 44.0h0.9v0.9h-0.9zM90.9 37.3h0.9v0.9h-0.9zM85.6 45.7h0.9v0.9h-0.9zM88.5 40.3h0.9v0.9h-0.9zM88.7 39.3h0.9v0.9h-0.9zM83.3 40.5h0.9v0.9h-0.9zM85.7 41.7h0.9v0.9h-0.9zM88.0 38.0h0.9v0.9h-0.9zM90.9 42.8h0.9v0.9h-0.9zM88.2 45.3h0.9v0.9h-0.9zM89.5 35.4h0.9v0.9h-0.9zM89.9 40.6h0.9v0.9h-0.9zM87.5 43.2h0.9v0.9h-0.9zM87.6 44.2h0.9v0.9h-0.9zM88.0 39.2h0.9v0.9h-0.9zM89.3 38.0h0.9v0.9h-0.9zM89.0 45.9h0.9v0.9h-0.9zM89.6 38.8h0.9v0.9h-0.9zM86.7 38.4h0.9v0.9h-0.9zM87.4 48.6h0.9v0.9h-0.9zM86.9 44.2h0.9v0.9h-0.9zM89.6 39.7h0.9v0.9h-0.9zM91.5 37.6h0.9v0.9h-0.9zM89.4 35.4h0.9v0.9h-0.9zM87.6 36.9h0.9v0.9h-0.9zM91.0 39.7h0.9v0.9h-0.9zM89.6 37.8h0.9v0.9h-0.9zM88.3 39.4h0.9v0.9h-0.9zM89.8 41.2h0.9v0.9h-0.9zM86.3 47.4h0.9v0.9h-0.9zM86.4 48.3h0.9v0.9h-0.9zM84.7 38.0h0.9v0.9h-0.9zM85.1 40.8h0.9v0.9h-0.9zM89.4 44.0h0.9v0.9h-0.9zM84.7 42.9h0.9v0.9h-0.9zM90.4 38.2h0.9v0.9h-0.9zM89.4 46.8h0.9v0.9h-0.9zM85.2 39.2h0.9v0.9h-0.9zM87.0 47.9h0.9v0.9h-0.9zM88.0 41.1h0.9v0.9h-0.9zM87.8 47.7h0.9v0.9h-0.9zM85.9 46.1h0.9v0.9h-0.9zM90.3 36.9h0.9v0.9h-0.9zM88.8 35.4h0.9v0.9h-0.9zM89.1 47.7h0.9v0.9h-0.9zM88.8 34.6h0.9v0.9h-0.9z" fill="#8a1aa0" opacity="1.0"/>
<path d="M87.2 37.6h0.9v0.9h-0.9zM83.8 41.6h0.9v0.9h-0.9zM83.9 40.7h0.9v0.9h-0.9zM87.2 35.8h0.9v0.9h-0.9zM85.9 41.7h0.9v0.9h-0.9zM90.8 39.5h0.9v0.9h-0.9zM86.3 42.7h0.9v0.9h-0.9zM88.8 44.2h0.9v0.9h-0.9zM87.5 42.6h0.9v0.9h-0.9zM86.3 39.0h0.9v0.9h-0.9zM86.2 40.0h0.9v0.9h-0.9zM86.4 36.3h0.9v0.9h-0.9zM88.1 48.4h0.9v0.9h-0.9z" fill="#4040e0" opacity="1.0"/>
<ellipse cx="93" cy="50" rx="17" ry="34.3" fill="none" stroke="#1e1e1e" stroke-width="1.2" stroke-dasharray="2.9,2.1" transform="rotate(0 93 50)"/>
<line x1="109.4" y1="56" x2="119" y2="56" stroke="#333" stroke-width="1.2" />
<polygon points="118.0,53.7 118.0,58.3 123.0,56.0" fill="#111" />
<text x="65.7" y="95.6" font-size="7" font-weight="normal" text-anchor="start" fill="#231f20" stroke="#231f20" stroke-width="0.18" >Non-CTCL</text>
<text x="65.7" y="102.4" font-size="7" font-weight="normal" text-anchor="start" fill="#231f20" stroke="#231f20" stroke-width="0.18" >CD4+ T cell</text>
<text x="65.7" y="109.2" font-size="7" font-weight="normal" text-anchor="start" fill="#231f20" stroke="#231f20" stroke-width="0.18" >(P1)</text>
<text x="13.3" y="150.6" font-size="11" font-weight="bold" text-anchor="start" fill="#111" >B</text>
<line x1="17.2" y1="162" x2="17.2" y2="259.75" stroke="#222" stroke-width="1.3" />
<line x1="17.2" y1="259.1" x2="111" y2="259.1" stroke="#222" stroke-width="1.3" />
<line x1="13.6" y1="170" x2="17.2" y2="170" stroke="#111" stroke-width="1.3" />
<line x1="13.6" y1="191.7" x2="17.2" y2="191.7" stroke="#111" stroke-width="1.3" />
<line x1="13.6" y1="213.3" x2="17.2" y2="213.3" stroke="#111" stroke-width="1.3" />
<line x1="13.6" y1="235" x2="17.2" y2="235" stroke="#111" stroke-width="1.3" />
<line x1="13.6" y1="256.7" x2="17.2" y2="256.7" stroke="#111" stroke-width="1.3" />
<line x1="28.3" y1="259.1" x2="28.3" y2="262.5" stroke="#111" stroke-width="1.3" />
<line x1="51.2" y1="259.1" x2="51.2" y2="262.5" stroke="#111" stroke-width="1.3" />
<line x1="74" y1="259.1" x2="74" y2="262.5" stroke="#111" stroke-width="1.3" />
<line x1="97.3" y1="259.1" x2="97.3" y2="262.5" stroke="#111" stroke-width="1.3" />
<polygon points="36.7,183.6 40.0,187.0 43.0,189.3 48.0,197.9 52.4,204.3 54.5,209.0 55.4,213.3 55.0,221.0 54.7,226.5 53.3,233.0 51.4,239.8 47.0,248.7 43.0,251.8 38.0,253.0 33.0,251.8 28.5,248.7 26.0,239.8 23.5,233.0 22.6,226.5 21.5,219.0 21.5,213.3 22.5,208.0 25.3,204.3 28.9,199.3 33.1,192.0" fill="#fe9000" />
<path d="M29.7 225.5h0.9v0.9h-0.9zM33.8 199.9h0.9v0.9h-0.9zM49.6 237.6h0.9v0.9h-0.9zM44.6 205.7h0.9v0.9h-0.9zM43.0 221.2h0.9v0.9h-0.9zM31.7 250.6h0.9v0.9h-0.9zM50.0 218.6h0.9v0.9h-0.9zM29.0 226.8h0.9v0.9h-0.9zM46.2 209.4h0.9v0.9h-0.9zM45.2 210.5h0.9v0.9h-0.9zM38.9 225.7h0.9v0.9h-0.9zM44.0 205.5h0.9v0.9h-0.9zM42.4 220.8h0.9v0.9h-0.9zM28.6 225.7h0.9v0.9h-0.9zM30.0 246.2h0.9v0.9h-0.9zM37.1 233.2h0.9v0.9h-0.9zM38.7 216.2h0.9v0.9h-0.9zM52.5 219.8h0.9v0.9h-0.9zM38.8 219.8h0.9v0.9h-0.9zM48.6 199.7h0.9v0.9h-0.9zM26.9 240.2h0.9v0.9h-0.9zM36.7 227.6h0.9v0.9h-0.9zM34.0 240.9h0.9v0.9h-0.9zM24.5 207.9h0.9v0.9h-0.9zM48.3 219.3h0.9v0.9h-0.9zM36.4 189.3h0.9v0.9h-0.9zM44.6 214.3h0.9v0.9h-0.9zM37.3 238.6h0.9v0.9h-0.9zM44.1 208.6h0.9v0.9h-0.9zM38.7 199.6h0.9v0.9h-0.9zM33.6 206.8h0.9v0.9h-0.9zM27.9 222.7h0.9v0.9h-0.9zM45.4 202.2h0.9v0.9h-0.9z" fill="#ffd090" opacity="0.6"/>
<path d="M53.5 231.1h0.9v0.9h-0.9zM45.0 193.5h0.9v0.9h-0.9zM53.4 210.6h0.9v0.9h-0.9zM25.9 241.1h0.9v0.9h-0.9zM46.0 248.7h0.9v0.9h-0.9zM53.6 225.8h0.9v0.9h-0.9zM21.2 210.6h0.9v0.9h-0.9zM28.1 246.9h0.9v0.9h-0.9zM34.3 186.9h0.9v0.9h-0.9zM23.3 233.8h0.9v0.9h-0.9zM20.6 219.5h0.9v0.9h-0.9zM40.0 251.6h0.9v0.9h-0.9zM38.6 185.8h0.9v0.9h-0.9zM44.6 249.5h0.9v0.9h-0.9zM43.2 250.8h0.9v0.9h-0.9zM38.9 251.9h0.9v0.9h-0.9zM23.1 232.2h0.9v0.9h-0.9zM40.7 187.0h0.9v0.9h-0.9zM21.1 216.5h0.9v0.9h-0.9zM55.9 213.7h0.9v0.9h-0.9zM47.5 196.4h0.9v0.9h-0.9zM29.8 249.2h0.9v0.9h-0.9zM22.0 226.3h0.9v0.9h-0.9zM21.9 229.9h0.9v0.9h-0.9zM36.6 182.3h0.9v0.9h-0.9zM50.2 202.5h0.9v0.9h-0.9zM37.4 183.8h0.9v0.9h-0.9zM54.4 220.4h0.9v0.9h-0.9zM24.6 203.1h0.9v0.9h-0.9zM48.8 244.9h0.9v0.9h-0.9zM26.4 201.2h0.9v0.9h-0.9zM54.7 219.3h0.9v0.9h-0.9zM32.3 251.9h0.9v0.9h-0.9zM39.8 251.6h0.9v0.9h-0.9zM21.7 212.9h0.9v0.9h-0.9zM30.6 249.8h0.9v0.9h-0.9zM32.7 252.0h0.9v0.9h-0.9zM53.3 230.9h0.9v0.9h-0.9zM54.1 223.7h0.9v0.9h-0.9zM25.8 245.4h0.9v0.9h-0.9zM46.6 248.2h0.9v0.9h-0.9zM47.2 246.6h0.9v0.9h-0.9zM26.3 203.2h0.9v0.9h-0.9zM53.9 206.4h0.9v0.9h-0.9zM20.4 211.7h0.9v0.9h-0.9zM22.9 232.5h0.9v0.9h-0.9zM24.0 207.1h0.9v0.9h-0.9zM54.8 211.1h0.9v0.9h-0.9zM21.6 214.2h0.9v0.9h-0.9zM23.7 235.9h0.9v0.9h-0.9zM22.9 230.5h0.9v0.9h-0.9zM23.6 229.0h0.9v0.9h-0.9zM54.4 225.9h0.9v0.9h-0.9zM53.3 229.0h0.9v0.9h-0.9zM29.5 197.1h0.9v0.9h-0.9zM51.7 201.1h0.9v0.9h-0.9zM50.9 240.7h0.9v0.9h-0.9zM25.0 238.1h0.9v0.9h-0.9zM45.0 194.9h0.9v0.9h-0.9zM47.5 245.9h0.9v0.9h-0.9zM23.2 208.2h0.9v0.9h-0.9zM36.7 183.5h0.9v0.9h-0.9zM53.8 225.4h0.9v0.9h-0.9zM39.4 252.1h0.9v0.9h-0.9zM41.5 251.1h0.9v0.9h-0.9zM32.5 251.3h0.9v0.9h-0.9zM55.4 220.7h0.9v0.9h-0.9zM55.0 214.2h0.9v0.9h-0.9zM27.4 243.8h0.9v0.9h-0.9zM32.6 191.3h0.9v0.9h-0.9zM52.7 231.6h0.9v0.9h-0.9zM21.9 222.2h0.9v0.9h-0.9zM55.0 226.2h0.9v0.9h-0.9zM45.1 194.7h0.9v0.9h-0.9zM26.8 244.5h0.9v0.9h-0.9zM37.2 252.8h0.9v0.9h-0.9zM48.8 199.8h0.9v0.9h-0.9zM51.1 237.7h0.9v0.9h-0.9zM53.1 205.0h0.9v0.9h-0.9zM24.1 205.0h0.9v0.9h-0.9zM51.9 203.0h0.9v0.9h-0.9zM47.2 198.0h0.9v0.9h-0.9zM47.6 198.1h0.9v0.9h-0.9zM32.4 251.4h0.9v0.9h-0.9zM53.9 209.7h0.9v0.9h-0.9zM48.9 200.6h0.9v0.9h-0.9zM38.4 252.3h0.9v0.9h-0.9zM31.5 191.7h0.9v0.9h-0.9zM28.0 247.9h0.9v0.9h-0.9zM21.5 220.3h0.9v0.9h-0.9z" fill="#fe9000" opacity="0.95"/>
<polygon points="29.6,171.4 31.5,173.0 33.0,177.0 32.5,181.0 31.0,185.0 29.5,187.0 28.0,184.0 26.7,178.0 27.5,173.5" fill="#fe9000" />
<path d="M26.4 177.1h0.9v0.9h-0.9zM29.5 175.5h0.9v0.9h-0.9zM29.9 174.6h0.9v0.9h-0.9zM30.0 183.2h0.9v0.9h-0.9z" fill="#ffffff" opacity="0.8"/>
<path d="M27.1 180.1h0.9v0.9h-0.9zM27.8 183.7h0.9v0.9h-0.9zM27.1 182.2h0.9v0.9h-0.9zM31.9 181.0h0.9v0.9h-0.9zM28.4 173.0h0.9v0.9h-0.9zM30.7 183.9h0.9v0.9h-0.9zM32.3 177.5h0.9v0.9h-0.9zM31.9 175.4h0.9v0.9h-0.9zM32.6 177.1h0.9v0.9h-0.9zM29.4 171.5h0.9v0.9h-0.9zM28.8 185.8h0.9v0.9h-0.9zM27.0 172.5h0.9v0.9h-0.9z" fill="#fe9000" opacity="0.95"/>
<polygon points="46.3,185.8 47.6,187.3 46.5,190.0 44.4,190.5 44.5,188.5" fill="#fe9000" />
<path d="" fill="#ffffff" opacity="0.8"/>
<path d="M46.3 186.6h0.9v0.9h-0.9zM45.1 188.0h0.9v0.9h-0.9zM47.0 190.1h0.9v0.9h-0.9zM44.0 188.6h0.9v0.9h-0.9zM45.7 186.7h0.9v0.9h-0.9zM44.6 187.2h0.9v0.9h-0.9zM43.1 190.2h0.9v0.9h-0.9zM44.7 187.3h0.9v0.9h-0.9zM44.4 185.5h0.9v0.9h-0.9zM47.6 186.3h0.9v0.9h-0.9zM46.9 187.6h0.9v0.9h-0.9zM46.6 187.4h0.9v0.9h-0.9z" fill="#fe9000" opacity="0.95"/>
<path d="M40.0 187.3h0.9v0.9h-0.9zM41.4 187.0h0.9v0.9h-0.9zM43.3 188.8h0.9v0.9h-0.9zM41.9 188.4h0.9v0.9h-0.9zM38.9 184.1h0.9v0.9h-0.9zM33.4 181.7h0.9v0.9h-0.9zM39.9 185.3h0.9v0.9h-0.9zM42.6 187.6h0.9v0.9h-0.9zM43.4 189.6h0.9v0.9h-0.9zM38.1 183.6h0.9v0.9h-0.9zM41.5 186.9h0.9v0.9h-0.9zM40.3 187.1h0.9v0.9h-0.9zM43.6 190.6h0.9v0.9h-0.9zM36.2 183.1h0.9v0.9h-0.9zM34.5 181.3h0.9v0.9h-0.9zM40.8 186.9h0.9v0.9h-0.9zM43.3 187.7h0.9v0.9h-0.9zM35.5 183.2h0.9v0.9h-0.9zM38.0 184.9h0.9v0.9h-0.9zM39.7 185.6h0.9v0.9h-0.9zM41.3 189.0h0.9v0.9h-0.9zM42.7 189.7h0.9v0.9h-0.9zM40.2 186.0h0.9v0.9h-0.9zM34.6 180.9h0.9v0.9h-0.9zM32.5 181.0h0.9v0.9h-0.9zM36.3 181.8h0.9v0.9h-0.9zM37.8 183.8h0.9v0.9h-0.9zM33.6 181.6h0.9v0.9h-0.9zM43.4 190.0h0.9v0.9h-0.9zM40.4 187.4h0.9v0.9h-0.9z" fill="#fe9000" opacity="1.0"/>
<polygon points="96.3,165.3 100.0,168.0 103.7,172.8 105.9,183.5 105.0,191.0 103.7,198.4 101.5,203.0 99.5,206.9 95.0,209.0 90.0,211.0 85.6,213.3 86.7,200.5 84.5,187.7 88.8,181.3 93.0,170.7" fill="#8a8a8a" />
<path d="M99.5 195.1h0.9v0.9h-0.9zM89.7 181.9h0.9v0.9h-0.9zM87.6 195.2h0.9v0.9h-0.9zM91.7 208.0h0.9v0.9h-0.9zM101.3 186.7h0.9v0.9h-0.9zM87.3 202.2h0.9v0.9h-0.9zM94.2 204.3h0.9v0.9h-0.9zM96.1 189.2h0.9v0.9h-0.9zM105.0 185.8h0.9v0.9h-0.9zM99.7 183.3h0.9v0.9h-0.9zM88.6 192.9h0.9v0.9h-0.9zM103.1 190.5h0.9v0.9h-0.9zM94.4 195.5h0.9v0.9h-0.9zM103.4 183.2h0.9v0.9h-0.9zM86.3 193.2h0.9v0.9h-0.9zM93.8 193.0h0.9v0.9h-0.9zM97.7 198.8h0.9v0.9h-0.9zM94.1 184.1h0.9v0.9h-0.9zM98.4 199.1h0.9v0.9h-0.9zM89.2 196.0h0.9v0.9h-0.9zM98.9 187.5h0.9v0.9h-0.9zM87.1 208.5h0.9v0.9h-0.9zM96.9 167.9h0.9v0.9h-0.9zM88.9 183.7h0.9v0.9h-0.9zM97.6 200.4h0.9v0.9h-0.9zM89.2 209.5h0.9v0.9h-0.9zM88.7 197.1h0.9v0.9h-0.9zM103.7 177.5h0.9v0.9h-0.9zM100.3 169.8h0.9v0.9h-0.9zM88.1 203.6h0.9v0.9h-0.9zM87.5 189.4h0.9v0.9h-0.9zM86.3 202.6h0.9v0.9h-0.9zM95.9 204.3h0.9v0.9h-0.9zM94.8 194.6h0.9v0.9h-0.9zM96.8 203.2h0.9v0.9h-0.9zM95.7 178.8h0.9v0.9h-0.9zM93.9 170.7h0.9v0.9h-0.9zM98.0 174.8h0.9v0.9h-0.9zM93.2 170.1h0.9v0.9h-0.9zM91.9 179.4h0.9v0.9h-0.9zM100.4 171.9h0.9v0.9h-0.9zM98.9 193.6h0.9v0.9h-0.9zM95.2 186.7h0.9v0.9h-0.9zM92.8 194.2h0.9v0.9h-0.9zM99.7 203.1h0.9v0.9h-0.9zM98.6 205.6h0.9v0.9h-0.9zM93.3 207.0h0.9v0.9h-0.9zM87.9 210.1h0.9v0.9h-0.9zM93.5 198.8h0.9v0.9h-0.9zM89.5 179.3h0.9v0.9h-0.9zM91.5 180.4h0.9v0.9h-0.9zM86.1 186.1h0.9v0.9h-0.9zM100.2 178.0h0.9v0.9h-0.9zM89.4 184.6h0.9v0.9h-0.9zM91.1 201.8h0.9v0.9h-0.9zM101.1 190.4h0.9v0.9h-0.9zM86.3 204.5h0.9v0.9h-0.9zM90.8 194.9h0.9v0.9h-0.9zM91.9 190.6h0.9v0.9h-0.9zM95.4 196.0h0.9v0.9h-0.9zM92.8 208.7h0.9v0.9h-0.9zM90.2 208.4h0.9v0.9h-0.9zM87.8 185.9h0.9v0.9h-0.9zM98.7 198.0h0.9v0.9h-0.9zM100.0 201.0h0.9v0.9h-0.9zM96.7 196.3h0.9v0.9h-0.9zM96.8 198.2h0.9v0.9h-0.9zM86.5 188.5h0.9v0.9h-0.9zM89.9 201.8h0.9v0.9h-0.9zM90.5 184.5h0.9v0.9h-0.9zM98.8 186.2h0.9v0.9h-0.9zM99.6 169.4h0.9v0.9h-0.9zM104.0 181.3h0.9v0.9h-0.9zM101.8 175.7h0.9v0.9h-0.9zM98.4 178.2h0.9v0.9h-0.9zM98.2 193.0h0.9v0.9h-0.9zM98.2 173.5h0.9v0.9h-0.9zM105.1 183.2h0.9v0.9h-0.9zM98.0 192.2h0.9v0.9h-0.9zM86.8 211.1h0.9v0.9h-0.9zM91.8 199.5h0.9v0.9h-0.9zM87.0 202.7h0.9v0.9h-0.9zM89.4 182.4h0.9v0.9h-0.9zM95.2 170.2h0.9v0.9h-0.9zM89.4 203.1h0.9v0.9h-0.9zM90.2 183.1h0.9v0.9h-0.9zM100.4 175.6h0.9v0.9h-0.9zM92.3 182.4h0.9v0.9h-0.9zM97.8 187.5h0.9v0.9h-0.9zM98.3 205.0h0.9v0.9h-0.9zM93.4 170.4h0.9v0.9h-0.9zM93.9 199.0h0.9v0.9h-0.9zM94.3 173.2h0.9v0.9h-0.9zM89.0 186.0h0.9v0.9h-0.9zM91.8 187.4h0.9v0.9h-0.9zM104.1 191.5h0.9v0.9h-0.9zM100.0 191.9h0.9v0.9h-0.9zM104.2 190.0h0.9v0.9h-0.9zM102.6 175.0h0.9v0.9h-0.9zM103.8 187.0h0.9v0.9h-0.9zM99.7 168.4h0.9v0.9h-0.9zM93.7 180.1h0.9v0.9h-0.9zM88.4 196.7h0.9v0.9h-0.9zM98.0 189.6h0.9v0.9h-0.9zM84.6 187.4h0.9v0.9h-0.9zM99.9 190.6h0.9v0.9h-0.9zM89.1 188.8h0.9v0.9h-0.9zM97.0 196.1h0.9v0.9h-0.9zM87.2 203.4h0.9v0.9h-0.9zM102.4 182.5h0.9v0.9h-0.9zM103.4 173.6h0.9v0.9h-0.9zM88.9 193.6h0.9v0.9h-0.9zM93.4 171.6h0.9v0.9h-0.9zM88.1 200.8h0.9v0.9h-0.9zM92.7 197.4h0.9v0.9h-0.9zM89.0 187.7h0.9v0.9h-0.9zM97.3 175.2h0.9v0.9h-0.9zM101.9 174.5h0.9v0.9h-0.9zM90.9 184.4h0.9v0.9h-0.9zM91.4 196.9h0.9v0.9h-0.9zM87.5 204.6h0.9v0.9h-0.9zM89.6 186.6h0.9v0.9h-0.9zM96.1 199.0h0.9v0.9h-0.9zM86.6 210.9h0.9v0.9h-0.9zM95.2 192.8h0.9v0.9h-0.9zM96.6 186.6h0.9v0.9h-0.9zM92.8 207.5h0.9v0.9h-0.9zM98.2 206.1h0.9v0.9h-0.9zM104.2 184.4h0.9v0.9h-0.9zM90.2 178.7h0.9v0.9h-0.9zM93.0 190.3h0.9v0.9h-0.9zM98.0 189.5h0.9v0.9h-0.9zM98.1 193.0h0.9v0.9h-0.9zM85.7 207.9h0.9v0.9h-0.9zM96.3 173.6h0.9v0.9h-0.9z" fill="#ffffff" opacity="0.8"/>
<path d="M85.6 196.8h0.9v0.9h-0.9zM100.4 202.0h0.9v0.9h-0.9zM101.8 169.6h0.9v0.9h-0.9zM92.1 208.4h0.9v0.9h-0.9zM95.8 165.6h0.9v0.9h-0.9zM85.1 194.2h0.9v0.9h-0.9zM93.5 168.4h0.9v0.9h-0.9zM97.3 207.4h0.9v0.9h-0.9zM100.3 206.1h0.9v0.9h-0.9zM104.8 187.1h0.9v0.9h-0.9zM86.2 199.3h0.9v0.9h-0.9zM105.1 187.0h0.9v0.9h-0.9zM99.5 167.7h0.9v0.9h-0.9zM98.6 207.4h0.9v0.9h-0.9zM92.0 170.1h0.9v0.9h-0.9zM85.0 195.2h0.9v0.9h-0.9zM92.5 209.8h0.9v0.9h-0.9zM103.7 180.8h0.9v0.9h-0.9zM84.6 187.3h0.9v0.9h-0.9zM85.6 201.3h0.9v0.9h-0.9zM105.4 183.1h0.9v0.9h-0.9zM104.9 189.5h0.9v0.9h-0.9zM89.2 179.6h0.9v0.9h-0.9zM106.1 183.9h0.9v0.9h-0.9zM84.9 192.9h0.9v0.9h-0.9zM96.7 166.0h0.9v0.9h-0.9zM96.3 165.6h0.9v0.9h-0.9zM85.4 194.3h0.9v0.9h-0.9zM105.2 173.9h0.9v0.9h-0.9zM104.1 179.0h0.9v0.9h-0.9zM102.8 197.7h0.9v0.9h-0.9zM104.8 190.7h0.9v0.9h-0.9zM105.5 180.3h0.9v0.9h-0.9zM85.4 196.9h0.9v0.9h-0.9zM84.5 192.9h0.9v0.9h-0.9zM106.1 182.4h0.9v0.9h-0.9zM100.8 169.3h0.9v0.9h-0.9zM100.2 203.6h0.9v0.9h-0.9zM85.6 184.9h0.9v0.9h-0.9zM85.9 209.1h0.9v0.9h-0.9z" fill="#8a8a8a" opacity="0.95"/>
<path d="M93.2 195.4h0.9v0.9h-0.9zM98.2 202.0h0.9v0.9h-0.9zM92.1 196.7h0.9v0.9h-0.9zM97.2 195.6h0.9v0.9h-0.9zM97.8 197.4h0.9v0.9h-0.9zM93.5 200.0h0.9v0.9h-0.9zM96.7 204.2h0.9v0.9h-0.9zM90.9 204.2h0.9v0.9h-0.9zM93.1 198.1h0.9v0.9h-0.9zM97.9 203.7h0.9v0.9h-0.9zM97.6 206.7h0.9v0.9h-0.9zM92.9 198.4h0.9v0.9h-0.9zM98.2 197.7h0.9v0.9h-0.9zM92.4 197.2h0.9v0.9h-0.9zM99.4 205.6h0.9v0.9h-0.9zM99.7 198.4h0.9v0.9h-0.9zM94.2 204.1h0.9v0.9h-0.9zM91.2 202.6h0.9v0.9h-0.9zM96.5 196.2h0.9v0.9h-0.9zM95.9 196.8h0.9v0.9h-0.9zM91.9 201.1h0.9v0.9h-0.9zM96.5 199.1h0.9v0.9h-0.9zM98.8 201.5h0.9v0.9h-0.9zM99.5 195.5h0.9v0.9h-0.9zM91.4 199.5h0.9v0.9h-0.9zM96.1 197.6h0.9v0.9h-0.9zM98.2 197.2h0.9v0.9h-0.9zM94.2 200.7h0.9v0.9h-0.9zM98.7 204.8h0.9v0.9h-0.9zM94.8 200.3h0.9v0.9h-0.9zM97.7 195.5h0.9v0.9h-0.9zM95.8 203.0h0.9v0.9h-0.9zM93.8 194.6h0.9v0.9h-0.9zM92.0 200.6h0.9v0.9h-0.9zM97.7 198.2h0.9v0.9h-0.9zM91.3 204.6h0.9v0.9h-0.9zM99.4 200.2h0.9v0.9h-0.9zM91.5 199.6h0.9v0.9h-0.9zM91.1 198.1h0.9v0.9h-0.9zM99.4 195.9h0.9v0.9h-0.9zM92.4 201.5h0.9v0.9h-0.9zM100.1 196.4h0.9v0.9h-0.9zM92.5 204.8h0.9v0.9h-0.9zM95.4 198.8h0.9v0.9h-0.9zM92.0 197.4h0.9v0.9h-0.9zM93.5 204.4h0.9v0.9h-0.9zM96.0 207.4h0.9v0.9h-0.9zM97.5 198.1h0.9v0.9h-0.9zM95.9 204.1h0.9v0.9h-0.9zM99.0 195.9h0.9v0.9h-0.9zM91.8 205.4h0.9v0.9h-0.9zM94.4 197.5h0.9v0.9h-0.9zM93.5 200.6h0.9v0.9h-0.9zM100.4 198.5h0.9v0.9h-0.9zM92.5 204.5h0.9v0.9h-0.9zM94.5 196.7h0.9v0.9h-0.9zM95.4 205.6h0.9v0.9h-0.9zM100.5 202.1h0.9v0.9h-0.9zM90.7 204.7h0.9v0.9h-0.9zM97.5 206.6h0.9v0.9h-0.9zM101.5 198.6h0.9v0.9h-0.9zM93.6 199.2h0.9v0.9h-0.9zM94.9 199.0h0.9v0.9h-0.9zM94.9 195.6h0.9v0.9h-0.9zM93.2 206.8h0.9v0.9h-0.9zM95.3 203.0h0.9v0.9h-0.9zM93.4 206.9h0.9v0.9h-0.9zM98.9 204.6h0.9v0.9h-0.9zM99.9 197.6h0.9v0.9h-0.9zM98.1 199.4h0.9v0.9h-0.9zM100.2 195.9h0.9v0.9h-0.9z" fill="#e09030" opacity="1.0"/>
<path d="M96.7 198.8h0.9v0.9h-0.9zM100.0 198.9h0.9v0.9h-0.9zM100.7 196.0h0.9v0.9h-0.9zM98.3 203.2h0.9v0.9h-0.9zM96.8 200.4h0.9v0.9h-0.9zM94.5 205.0h0.9v0.9h-0.9zM93.0 198.8h0.9v0.9h-0.9zM93.4 195.5h0.9v0.9h-0.9zM94.3 194.4h0.9v0.9h-0.9zM99.7 197.2h0.9v0.9h-0.9zM99.1 196.8h0.9v0.9h-0.9zM95.9 199.7h0.9v0.9h-0.9zM94.1 202.9h0.9v0.9h-0.9zM100.8 200.6h0.9v0.9h-0.9zM94.1 206.3h0.9v0.9h-0.9zM97.1 195.5h0.9v0.9h-0.9zM97.3 205.7h0.9v0.9h-0.9zM96.5 200.8h0.9v0.9h-0.9zM95.3 206.4h0.9v0.9h-0.9zM98.2 197.0h0.9v0.9h-0.9zM94.7 199.1h0.9v0.9h-0.9zM91.0 202.3h0.9v0.9h-0.9zM95.5 204.1h0.9v0.9h-0.9zM95.5 195.3h0.9v0.9h-0.9zM96.6 205.5h0.9v0.9h-0.9zM99.6 199.0h0.9v0.9h-0.9zM93.1 204.5h0.9v0.9h-0.9zM99.8 197.1h0.9v0.9h-0.9zM95.5 199.4h0.9v0.9h-0.9zM92.9 198.3h0.9v0.9h-0.9zM94.3 204.3h0.9v0.9h-0.9z" fill="#c0a070" opacity="1.0"/>
<ellipse cx="93" cy="195" rx="17" ry="34.3" fill="none" stroke="#1e1e1e" stroke-width="1.2" stroke-dasharray="2.9,2.1" transform="rotate(0 93 195)"/>
<line x1="109.4" y1="209.7" x2="119" y2="209.7" stroke="#333" stroke-width="1.2" />
<polygon points="118.0,207.4 118.0,212.0 123.0,209.7" fill="#111" />
<path d="M58.30 247.60a1.3 1.3 0 1 0 2.6 0a1.3 1.3 0 1 0 -2.6 0z" fill="#fe9000" opacity="1.0"/>
<text x="65.5" y="245.6" font-size="7" font-weight="normal" text-anchor="start" fill="#231f20" stroke="#231f20" stroke-width="0.18" >Dominant</text>
<text x="65.5" y="253.5" font-size="7" font-weight="normal" text-anchor="start" fill="#231f20" stroke="#231f20" stroke-width="0.18" >clonotype</text>
<line x1="5.1" y1="20.8" x2="5.1" y2="234.2" stroke="#555" stroke-width="1.6" />
<polygon points="2.1,21.9 8.1,21.9 5.1,16.8" fill="#111" />
<text x="0" y="0" font-size="7.6" font-weight="bold" text-anchor="start" fill="#222" stroke="#222" stroke-width="0.35" transform="translate(7.9,258.5) rotate(-90)" textLength="20.6" lengthAdjust="spacingAndGlyphs">UMAP2</text>
<text x="17.9" y="272.9" font-size="8.6" font-weight="bold" text-anchor="start" fill="#222" stroke="#222" stroke-width="0.35" textLength="20.7" lengthAdjust="spacingAndGlyphs">UMAP1</text>
<line x1="42.1" y1="269.9" x2="212.1" y2="269.9" stroke="#555" stroke-width="1.5" />
<polygon points="210.9,267.1 210.9,272.7 216.1,269.9" fill="#111" />
<text x="119.5" y="9.8" font-size="11" font-weight="bold" text-anchor="start" fill="#111" >C</text>
<line x1="123.6" y1="16.6" x2="123.6" y2="114.80000000000001" stroke="#222" stroke-width="1.3" />
<line x1="123.6" y1="114.15" x2="216.1" y2="114.15" stroke="#222" stroke-width="1.3" />
<line x1="120.0" y1="25.2" x2="123.6" y2="25.2" stroke="#111" stroke-width="1.3" />
<line x1="120.0" y1="46.4" x2="123.6" y2="46.4" stroke="#111" stroke-width="1.3" />
<line x1="120.0" y1="68.3" x2="123.6" y2="68.3" stroke="#111" stroke-width="1.3" />
<line x1="120.0" y1="90.3" x2="123.6" y2="90.3" stroke="#111" stroke-width="1.3" />
<line x1="120.0" y1="111.7" x2="123.6" y2="111.7" stroke="#111" stroke-width="1.3" />
<line x1="134.4" y1="114.15" x2="134.4" y2="117.55000000000001" stroke="#111" stroke-width="1.3" />
<line x1="157.4" y1="114.15" x2="157.4" y2="117.55000000000001" stroke="#111" stroke-width="1.3" />
<line x1="180.6" y1="114.15" x2="180.6" y2="117.55000000000001" stroke="#111" stroke-width="1.3" />
<line x1="203.4" y1="114.15" x2="203.4" y2="117.55000000000001" stroke="#111" stroke-width="1.3" />
<polygon points="145.4,27.0 151.1,28.4 154.7,32.0 156.1,37.7 156.6,43.4 155.4,50.6 156.9,56.3 158.3,61.3 159.7,64.3 160.4,71.4 161.0,78.6 161.8,84.0 162.0,86.4 161.0,90.0 159.5,92.8 157.6,99.2 154.4,103.7 151.0,102.0 149.2,99.2 145.4,92.8 140.3,86.4 141.0,84.0 139.7,78.6 134.7,71.4 129.7,64.3 128.6,59.0 128.3,50.6 129.0,43.4 131.9,36.3 134.0,32.0 138.3,28.4" fill="#2020ea" />
<path d="M134.1 68.5h0.9v0.9h-0.9zM144.7 77.8h0.9v0.9h-0.9zM154.6 40.6h0.9v0.9h-0.9zM158.5 68.8h0.9v0.9h-0.9zM153.4 93.2h0.9v0.9h-0.9zM146.7 37.6h0.9v0.9h-0.9zM149.1 88.2h0.9v0.9h-0.9zM142.1 72.7h0.9v0.9h-0.9zM136.6 47.7h0.9v0.9h-0.9zM142.0 65.9h0.9v0.9h-0.9zM143.6 33.6h0.9v0.9h-0.9zM128.0 52.6h0.9v0.9h-0.9zM152.0 83.9h0.9v0.9h-0.9zM135.8 46.2h0.9v0.9h-0.9zM145.3 40.0h0.9v0.9h-0.9zM148.2 95.9h0.9v0.9h-0.9zM134.7 71.5h0.9v0.9h-0.9zM152.1 84.0h0.9v0.9h-0.9zM151.8 81.1h0.9v0.9h-0.9zM154.7 78.5h0.9v0.9h-0.9zM132.6 61.8h0.9v0.9h-0.9zM136.1 41.8h0.9v0.9h-0.9zM133.3 58.0h0.9v0.9h-0.9zM148.7 49.8h0.9v0.9h-0.9zM133.3 43.3h0.9v0.9h-0.9zM130.7 41.4h0.9v0.9h-0.9zM138.5 65.2h0.9v0.9h-0.9zM134.0 63.3h0.9v0.9h-0.9zM143.7 41.7h0.9v0.9h-0.9zM147.8 37.6h0.9v0.9h-0.9zM133.6 32.2h0.9v0.9h-0.9zM151.5 100.7h0.9v0.9h-0.9zM141.4 53.7h0.9v0.9h-0.9zM142.2 53.5h0.9v0.9h-0.9zM151.1 56.6h0.9v0.9h-0.9zM156.5 82.4h0.9v0.9h-0.9zM139.8 74.9h0.9v0.9h-0.9zM142.4 49.4h0.9v0.9h-0.9zM146.5 77.4h0.9v0.9h-0.9zM152.6 99.4h0.9v0.9h-0.9zM132.7 54.6h0.9v0.9h-0.9zM156.5 87.2h0.9v0.9h-0.9zM147.7 78.5h0.9v0.9h-0.9zM146.4 57.4h0.9v0.9h-0.9zM134.0 35.4h0.9v0.9h-0.9zM158.1 87.9h0.9v0.9h-0.9zM128.8 51.3h0.9v0.9h-0.9zM144.0 64.6h0.9v0.9h-0.9zM139.6 67.4h0.9v0.9h-0.9zM159.2 75.6h0.9v0.9h-0.9zM143.9 52.1h0.9v0.9h-0.9zM140.9 73.3h0.9v0.9h-0.9zM154.3 46.5h0.9v0.9h-0.9zM140.3 56.3h0.9v0.9h-0.9zM146.0 47.7h0.9v0.9h-0.9zM132.8 44.0h0.9v0.9h-0.9zM129.8 46.8h0.9v0.9h-0.9zM152.6 81.8h0.9v0.9h-0.9zM142.5 41.3h0.9v0.9h-0.9zM153.1 92.4h0.9v0.9h-0.9zM140.9 33.7h0.9v0.9h-0.9zM157.3 84.3h0.9v0.9h-0.9zM151.7 74.9h0.9v0.9h-0.9zM131.6 39.0h0.9v0.9h-0.9zM150.5 100.9h0.9v0.9h-0.9zM142.5 56.5h0.9v0.9h-0.9zM136.4 44.4h0.9v0.9h-0.9zM151.6 40.0h0.9v0.9h-0.9zM133.9 38.2h0.9v0.9h-0.9zM150.8 29.1h0.9v0.9h-0.9zM142.7 87.2h0.9v0.9h-0.9zM147.3 61.2h0.9v0.9h-0.9zM157.6 72.6h0.9v0.9h-0.9zM139.2 56.9h0.9v0.9h-0.9zM158.7 69.6h0.9v0.9h-0.9zM132.7 40.0h0.9v0.9h-0.9zM140.8 79.5h0.9v0.9h-0.9zM154.3 66.0h0.9v0.9h-0.9zM141.8 77.9h0.9v0.9h-0.9zM147.1 82.4h0.9v0.9h-0.9zM148.6 50.8h0.9v0.9h-0.9zM140.5 47.2h0.9v0.9h-0.9zM158.3 87.3h0.9v0.9h-0.9zM154.4 89.5h0.9v0.9h-0.9zM136.7 73.4h0.9v0.9h-0.9zM144.3 47.7h0.9v0.9h-0.9zM159.2 84.6h0.9v0.9h-0.9zM147.6 59.3h0.9v0.9h-0.9zM154.0 34.4h0.9v0.9h-0.9zM137.2 35.3h0.9v0.9h-0.9zM157.2 60.4h0.9v0.9h-0.9zM152.3 46.2h0.9v0.9h-0.9zM152.5 76.3h0.9v0.9h-0.9zM131.1 64.4h0.9v0.9h-0.9zM152.2 43.0h0.9v0.9h-0.9zM149.9 47.9h0.9v0.9h-0.9zM142.2 70.4h0.9v0.9h-0.9zM155.1 84.7h0.9v0.9h-0.9zM143.8 35.6h0.9v0.9h-0.9zM153.1 37.7h0.9v0.9h-0.9zM150.8 30.7h0.9v0.9h-0.9zM152.8 36.6h0.9v0.9h-0.9zM149.3 55.4h0.9v0.9h-0.9zM143.5 62.5h0.9v0.9h-0.9zM152.1 82.5h0.9v0.9h-0.9zM134.1 37.0h0.9v0.9h-0.9zM134.1 64.9h0.9v0.9h-0.9zM139.2 39.1h0.9v0.9h-0.9zM154.3 45.7h0.9v0.9h-0.9zM158.4 73.6h0.9v0.9h-0.9zM160.6 85.7h0.9v0.9h-0.9zM149.1 67.4h0.9v0.9h-0.9zM156.7 60.6h0.9v0.9h-0.9zM155.0 78.9h0.9v0.9h-0.9zM152.9 44.3h0.9v0.9h-0.9zM143.5 89.7h0.9v0.9h-0.9zM146.5 57.6h0.9v0.9h-0.9zM133.5 37.1h0.9v0.9h-0.9zM143.7 64.4h0.9v0.9h-0.9zM136.9 54.7h0.9v0.9h-0.9zM146.5 85.0h0.9v0.9h-0.9zM147.7 39.0h0.9v0.9h-0.9zM146.3 50.6h0.9v0.9h-0.9zM132.0 48.4h0.9v0.9h-0.9zM149.1 69.7h0.9v0.9h-0.9zM159.8 79.1h0.9v0.9h-0.9zM149.2 68.2h0.9v0.9h-0.9zM156.9 77.9h0.9v0.9h-0.9zM140.0 72.9h0.9v0.9h-0.9zM146.5 42.3h0.9v0.9h-0.9zM145.0 35.6h0.9v0.9h-0.9zM156.1 77.9h0.9v0.9h-0.9zM150.9 97.6h0.9v0.9h-0.9zM129.5 59.3h0.9v0.9h-0.9zM147.0 27.2h0.9v0.9h-0.9zM147.7 89.8h0.9v0.9h-0.9zM145.2 51.4h0.9v0.9h-0.9zM151.4 31.7h0.9v0.9h-0.9zM137.0 37.9h0.9v0.9h-0.9zM140.1 77.3h0.9v0.9h-0.9zM149.9 38.9h0.9v0.9h-0.9zM152.3 68.8h0.9v0.9h-0.9zM136.4 37.4h0.9v0.9h-0.9zM133.2 38.0h0.9v0.9h-0.9zM147.7 88.0h0.9v0.9h-0.9zM133.2 65.1h0.9v0.9h-0.9zM147.2 69.5h0.9v0.9h-0.9zM141.8 68.2h0.9v0.9h-0.9zM142.1 44.7h0.9v0.9h-0.9zM153.4 45.1h0.9v0.9h-0.9zM155.6 45.1h0.9v0.9h-0.9zM131.0 63.2h0.9v0.9h-0.9zM140.9 52.3h0.9v0.9h-0.9zM153.6 43.6h0.9v0.9h-0.9zM150.4 90.6h0.9v0.9h-0.9zM143.1 65.1h0.9v0.9h-0.9zM159.0 72.9h0.9v0.9h-0.9zM133.9 31.9h0.9v0.9h-0.9zM130.6 52.0h0.9v0.9h-0.9zM142.1 50.2h0.9v0.9h-0.9zM136.1 38.4h0.9v0.9h-0.9zM138.1 51.4h0.9v0.9h-0.9zM158.5 80.7h0.9v0.9h-0.9zM142.3 39.3h0.9v0.9h-0.9zM156.4 76.3h0.9v0.9h-0.9zM139.2 34.4h0.9v0.9h-0.9zM152.9 81.5h0.9v0.9h-0.9zM145.1 39.4h0.9v0.9h-0.9zM150.4 59.8h0.9v0.9h-0.9zM150.1 33.6h0.9v0.9h-0.9zM135.4 57.1h0.9v0.9h-0.9zM134.5 33.3h0.9v0.9h-0.9zM139.1 47.0h0.9v0.9h-0.9zM150.5 43.6h0.9v0.9h-0.9zM141.4 79.4h0.9v0.9h-0.9zM142.4 38.5h0.9v0.9h-0.9zM131.2 65.1h0.9v0.9h-0.9zM144.3 41.4h0.9v0.9h-0.9zM150.4 64.6h0.9v0.9h-0.9zM155.1 48.9h0.9v0.9h-0.9zM159.3 89.0h0.9v0.9h-0.9zM143.8 37.4h0.9v0.9h-0.9zM144.1 36.3h0.9v0.9h-0.9zM151.0 80.0h0.9v0.9h-0.9zM154.8 35.2h0.9v0.9h-0.9zM138.7 30.7h0.9v0.9h-0.9zM147.5 82.0h0.9v0.9h-0.9zM140.2 81.2h0.9v0.9h-0.9zM157.0 75.4h0.9v0.9h-0.9zM152.0 35.4h0.9v0.9h-0.9zM140.7 78.1h0.9v0.9h-0.9zM158.5 86.8h0.9v0.9h-0.9zM157.0 71.7h0.9v0.9h-0.9zM159.8 70.0h0.9v0.9h-0.9zM134.5 66.3h0.9v0.9h-0.9zM144.1 52.4h0.9v0.9h-0.9zM140.4 65.7h0.9v0.9h-0.9zM147.7 43.6h0.9v0.9h-0.9zM137.2 65.1h0.9v0.9h-0.9zM144.8 58.7h0.9v0.9h-0.9zM150.2 40.8h0.9v0.9h-0.9zM145.8 47.7h0.9v0.9h-0.9zM153.8 80.5h0.9v0.9h-0.9zM154.2 66.2h0.9v0.9h-0.9zM145.1 55.3h0.9v0.9h-0.9zM137.6 57.4h0.9v0.9h-0.9zM151.7 89.3h0.9v0.9h-0.9zM144.1 82.6h0.9v0.9h-0.9zM135.0 61.2h0.9v0.9h-0.9zM139.9 50.1h0.9v0.9h-0.9zM152.6 42.5h0.9v0.9h-0.9zM149.9 78.4h0.9v0.9h-0.9zM149.3 79.7h0.9v0.9h-0.9zM137.0 31.2h0.9v0.9h-0.9zM140.0 29.0h0.9v0.9h-0.9zM150.4 100.7h0.9v0.9h-0.9zM155.0 44.1h0.9v0.9h-0.9zM139.2 34.9h0.9v0.9h-0.9zM154.7 83.1h0.9v0.9h-0.9zM144.3 54.9h0.9v0.9h-0.9zM136.9 63.9h0.9v0.9h-0.9zM151.8 95.2h0.9v0.9h-0.9zM156.5 93.1h0.9v0.9h-0.9zM142.7 58.9h0.9v0.9h-0.9zM134.0 38.7h0.9v0.9h-0.9zM156.6 94.9h0.9v0.9h-0.9zM142.2 41.3h0.9v0.9h-0.9zM153.9 55.3h0.9v0.9h-0.9zM142.7 57.0h0.9v0.9h-0.9zM147.9 46.1h0.9v0.9h-0.9zM128.5 56.5h0.9v0.9h-0.9zM140.4 84.9h0.9v0.9h-0.9zM148.9 41.0h0.9v0.9h-0.9zM148.4 49.1h0.9v0.9h-0.9zM147.6 70.6h0.9v0.9h-0.9zM138.7 29.3h0.9v0.9h-0.9zM138.8 76.0h0.9v0.9h-0.9zM148.1 65.7h0.9v0.9h-0.9zM132.0 42.9h0.9v0.9h-0.9zM138.3 58.5h0.9v0.9h-0.9zM136.1 71.6h0.9v0.9h-0.9zM140.6 29.5h0.9v0.9h-0.9zM154.7 88.7h0.9v0.9h-0.9zM129.7 55.7h0.9v0.9h-0.9zM154.1 91.1h0.9v0.9h-0.9zM146.3 56.3h0.9v0.9h-0.9zM154.8 34.6h0.9v0.9h-0.9zM130.9 62.0h0.9v0.9h-0.9zM140.3 59.7h0.9v0.9h-0.9zM145.0 48.7h0.9v0.9h-0.9zM151.5 66.1h0.9v0.9h-0.9zM145.1 64.4h0.9v0.9h-0.9zM139.9 52.3h0.9v0.9h-0.9zM148.6 69.8h0.9v0.9h-0.9zM137.4 33.0h0.9v0.9h-0.9zM145.8 51.7h0.9v0.9h-0.9zM139.3 58.6h0.9v0.9h-0.9zM141.4 39.0h0.9v0.9h-0.9zM150.2 77.5h0.9v0.9h-0.9zM142.9 57.7h0.9v0.9h-0.9zM140.5 82.8h0.9v0.9h-0.9zM128.8 43.4h0.9v0.9h-0.9zM160.2 78.9h0.9v0.9h-0.9zM150.6 64.7h0.9v0.9h-0.9zM143.8 41.7h0.9v0.9h-0.9zM151.2 46.4h0.9v0.9h-0.9zM149.6 37.0h0.9v0.9h-0.9zM148.5 39.7h0.9v0.9h-0.9zM145.0 50.6h0.9v0.9h-0.9zM146.4 36.8h0.9v0.9h-0.9zM144.1 73.8h0.9v0.9h-0.9zM132.4 50.2h0.9v0.9h-0.9zM150.7 68.4h0.9v0.9h-0.9zM148.6 86.4h0.9v0.9h-0.9zM147.1 43.6h0.9v0.9h-0.9zM146.9 84.3h0.9v0.9h-0.9zM140.1 60.9h0.9v0.9h-0.9zM149.9 34.7h0.9v0.9h-0.9zM148.5 29.1h0.9v0.9h-0.9zM152.4 47.1h0.9v0.9h-0.9zM155.7 66.5h0.9v0.9h-0.9zM151.1 67.4h0.9v0.9h-0.9zM128.7 52.4h0.9v0.9h-0.9zM148.9 35.8h0.9v0.9h-0.9zM133.2 49.0h0.9v0.9h-0.9zM158.4 93.3h0.9v0.9h-0.9zM154.7 48.1h0.9v0.9h-0.9zM159.1 88.7h0.9v0.9h-0.9zM152.5 44.0h0.9v0.9h-0.9zM146.5 73.5h0.9v0.9h-0.9zM151.4 62.1h0.9v0.9h-0.9zM154.3 61.5h0.9v0.9h-0.9zM151.3 56.9h0.9v0.9h-0.9zM135.4 43.2h0.9v0.9h-0.9zM145.0 65.0h0.9v0.9h-0.9zM153.0 93.7h0.9v0.9h-0.9zM139.9 42.6h0.9v0.9h-0.9zM150.0 57.7h0.9v0.9h-0.9zM145.5 38.4h0.9v0.9h-0.9zM144.9 86.9h0.9v0.9h-0.9zM131.0 47.7h0.9v0.9h-0.9zM149.3 63.6h0.9v0.9h-0.9zM140.6 70.9h0.9v0.9h-0.9zM135.2 60.1h0.9v0.9h-0.9zM146.5 72.7h0.9v0.9h-0.9zM148.9 36.2h0.9v0.9h-0.9zM154.0 49.0h0.9v0.9h-0.9zM156.9 86.9h0.9v0.9h-0.9zM150.7 89.1h0.9v0.9h-0.9zM142.6 78.2h0.9v0.9h-0.9zM131.2 58.1h0.9v0.9h-0.9zM145.0 38.0h0.9v0.9h-0.9zM140.9 38.0h0.9v0.9h-0.9zM134.3 63.0h0.9v0.9h-0.9zM146.0 60.3h0.9v0.9h-0.9zM144.8 90.7h0.9v0.9h-0.9zM153.7 70.3h0.9v0.9h-0.9zM146.0 43.2h0.9v0.9h-0.9zM154.2 50.1h0.9v0.9h-0.9zM152.3 44.1h0.9v0.9h-0.9zM147.2 76.3h0.9v0.9h-0.9zM140.4 63.4h0.9v0.9h-0.9zM151.1 38.3h0.9v0.9h-0.9zM146.4 82.8h0.9v0.9h-0.9zM136.2 33.0h0.9v0.9h-0.9zM136.4 33.2h0.9v0.9h-0.9zM144.3 45.8h0.9v0.9h-0.9zM138.0 61.9h0.9v0.9h-0.9zM152.2 35.3h0.9v0.9h-0.9zM138.9 34.8h0.9v0.9h-0.9zM151.3 86.4h0.9v0.9h-0.9zM141.1 50.5h0.9v0.9h-0.9zM145.1 60.4h0.9v0.9h-0.9zM142.6 85.5h0.9v0.9h-0.9zM155.8 63.1h0.9v0.9h-0.9zM133.9 57.7h0.9v0.9h-0.9zM150.1 69.5h0.9v0.9h-0.9zM143.4 70.6h0.9v0.9h-0.9zM136.1 69.3h0.9v0.9h-0.9zM149.0 75.0h0.9v0.9h-0.9zM156.3 62.6h0.9v0.9h-0.9zM132.3 49.6h0.9v0.9h-0.9zM151.9 82.4h0.9v0.9h-0.9zM150.0 77.0h0.9v0.9h-0.9zM128.6 60.4h0.9v0.9h-0.9zM138.8 72.4h0.9v0.9h-0.9zM139.2 36.4h0.9v0.9h-0.9zM150.4 48.6h0.9v0.9h-0.9zM154.5 50.0h0.9v0.9h-0.9zM146.2 88.5h0.9v0.9h-0.9zM140.3 40.3h0.9v0.9h-0.9zM141.2 65.0h0.9v0.9h-0.9zM141.8 35.9h0.9v0.9h-0.9zM145.5 49.6h0.9v0.9h-0.9zM142.5 44.0h0.9v0.9h-0.9zM149.6 90.4h0.9v0.9h-0.9zM141.1 84.5h0.9v0.9h-0.9zM137.2 35.0h0.9v0.9h-0.9zM129.3 61.0h0.9v0.9h-0.9zM142.7 85.1h0.9v0.9h-0.9zM137.2 38.3h0.9v0.9h-0.9zM145.3 59.2h0.9v0.9h-0.9zM135.9 69.6h0.9v0.9h-0.9zM141.9 29.1h0.9v0.9h-0.9z" fill="#ffffff" opacity="0.85"/>
<path d="M157.7 98.5h0.9v0.9h-0.9zM141.5 87.8h0.9v0.9h-0.9zM133.6 32.7h0.9v0.9h-0.9zM132.7 67.9h0.9v0.9h-0.9zM156.0 43.2h0.9v0.9h-0.9zM155.4 47.8h0.9v0.9h-0.9zM155.8 37.5h0.9v0.9h-0.9zM156.1 44.4h0.9v0.9h-0.9zM159.4 66.3h0.9v0.9h-0.9zM152.5 29.5h0.9v0.9h-0.9zM134.9 30.2h0.9v0.9h-0.9zM129.0 42.5h0.9v0.9h-0.9zM133.4 70.5h0.9v0.9h-0.9zM159.4 69.6h0.9v0.9h-0.9zM157.3 98.4h0.9v0.9h-0.9zM160.0 74.4h0.9v0.9h-0.9zM155.6 35.1h0.9v0.9h-0.9zM158.6 61.7h0.9v0.9h-0.9zM149.7 99.7h0.9v0.9h-0.9zM159.2 92.9h0.9v0.9h-0.9zM143.3 25.9h0.9v0.9h-0.9zM135.5 31.1h0.9v0.9h-0.9zM141.1 86.4h0.9v0.9h-0.9zM139.4 77.1h0.9v0.9h-0.9zM155.3 34.5h0.9v0.9h-0.9zM159.1 66.0h0.9v0.9h-0.9zM155.2 101.1h0.9v0.9h-0.9zM138.4 76.5h0.9v0.9h-0.9zM138.8 77.4h0.9v0.9h-0.9zM156.8 54.4h0.9v0.9h-0.9zM157.4 96.2h0.9v0.9h-0.9zM129.1 63.6h0.9v0.9h-0.9zM143.0 90.4h0.9v0.9h-0.9zM137.6 28.9h0.9v0.9h-0.9zM142.3 27.1h0.9v0.9h-0.9zM158.8 61.9h0.9v0.9h-0.9zM135.6 29.2h0.9v0.9h-0.9zM159.8 67.0h0.9v0.9h-0.9zM159.5 76.8h0.9v0.9h-0.9zM128.8 45.1h0.9v0.9h-0.9zM155.7 51.7h0.9v0.9h-0.9zM156.9 58.5h0.9v0.9h-0.9zM155.2 47.7h0.9v0.9h-0.9zM127.7 46.2h0.9v0.9h-0.9zM160.1 74.8h0.9v0.9h-0.9zM146.4 27.3h0.9v0.9h-0.9zM147.6 26.6h0.9v0.9h-0.9zM145.5 26.4h0.9v0.9h-0.9zM159.7 65.2h0.9v0.9h-0.9zM132.0 68.3h0.9v0.9h-0.9zM158.8 65.8h0.9v0.9h-0.9zM162.8 86.4h0.9v0.9h-0.9zM156.2 42.7h0.9v0.9h-0.9zM132.9 67.5h0.9v0.9h-0.9zM145.7 92.9h0.9v0.9h-0.9zM146.4 95.5h0.9v0.9h-0.9zM155.9 53.7h0.9v0.9h-0.9zM127.5 56.7h0.9v0.9h-0.9zM133.4 31.8h0.9v0.9h-0.9zM161.2 78.0h0.9v0.9h-0.9zM155.2 39.8h0.9v0.9h-0.9zM133.3 30.4h0.9v0.9h-0.9zM134.9 29.8h0.9v0.9h-0.9zM155.4 100.7h0.9v0.9h-0.9zM155.0 39.3h0.9v0.9h-0.9zM158.7 63.0h0.9v0.9h-0.9zM156.6 44.0h0.9v0.9h-0.9zM163.0 79.0h0.9v0.9h-0.9zM157.3 98.0h0.9v0.9h-0.9zM155.7 51.4h0.9v0.9h-0.9zM154.8 34.2h0.9v0.9h-0.9zM151.5 103.7h0.9v0.9h-0.9zM159.4 92.5h0.9v0.9h-0.9zM141.6 88.7h0.9v0.9h-0.9zM150.5 102.5h0.9v0.9h-0.9zM149.2 101.0h0.9v0.9h-0.9zM144.5 27.3h0.9v0.9h-0.9zM147.3 27.2h0.9v0.9h-0.9zM158.8 94.1h0.9v0.9h-0.9zM139.4 26.9h0.9v0.9h-0.9zM142.9 88.9h0.9v0.9h-0.9zM159.3 66.6h0.9v0.9h-0.9zM145.6 95.0h0.9v0.9h-0.9zM160.2 92.6h0.9v0.9h-0.9zM127.7 53.4h0.9v0.9h-0.9zM141.5 84.8h0.9v0.9h-0.9zM130.1 61.5h0.9v0.9h-0.9zM137.0 76.9h0.9v0.9h-0.9zM128.4 48.6h0.9v0.9h-0.9zM142.2 89.8h0.9v0.9h-0.9zM128.1 60.2h0.9v0.9h-0.9zM146.9 93.9h0.9v0.9h-0.9zM130.4 33.1h0.9v0.9h-0.9zM149.2 28.0h0.9v0.9h-0.9zM131.9 66.0h0.9v0.9h-0.9zM152.9 102.4h0.9v0.9h-0.9zM133.3 69.4h0.9v0.9h-0.9zM160.7 77.1h0.9v0.9h-0.9zM129.0 55.6h0.9v0.9h-0.9zM128.0 54.3h0.9v0.9h-0.9zM157.6 59.9h0.9v0.9h-0.9zM139.6 86.0h0.9v0.9h-0.9zM137.4 26.9h0.9v0.9h-0.9zM158.6 64.1h0.9v0.9h-0.9zM161.2 81.5h0.9v0.9h-0.9zM144.9 90.3h0.9v0.9h-0.9zM148.1 28.2h0.9v0.9h-0.9zM135.3 31.8h0.9v0.9h-0.9zM158.4 90.3h0.9v0.9h-0.9zM154.2 32.5h0.9v0.9h-0.9z" fill="#2020ea" opacity="0.95"/>
<path d="M130.5 63.7h0.9v0.9h-0.9zM140.9 71.6h0.9v0.9h-0.9zM137.4 59.1h0.9v0.9h-0.9zM143.1 78.4h0.9v0.9h-0.9zM143.0 61.6h0.9v0.9h-0.9zM143.2 57.8h0.9v0.9h-0.9zM142.2 77.1h0.9v0.9h-0.9zM139.7 78.8h0.9v0.9h-0.9zM143.4 81.3h0.9v0.9h-0.9zM140.6 79.2h0.9v0.9h-0.9zM138.5 62.9h0.9v0.9h-0.9zM140.9 74.2h0.9v0.9h-0.9zM142.2 63.8h0.9v0.9h-0.9zM129.9 63.1h0.9v0.9h-0.9zM142.2 68.4h0.9v0.9h-0.9zM143.1 59.6h0.9v0.9h-0.9zM129.6 62.1h0.9v0.9h-0.9zM140.3 79.9h0.9v0.9h-0.9zM135.6 67.9h0.9v0.9h-0.9zM141.2 77.4h0.9v0.9h-0.9zM137.8 75.0h0.9v0.9h-0.9zM133.4 63.1h0.9v0.9h-0.9zM141.7 61.2h0.9v0.9h-0.9zM134.0 63.1h0.9v0.9h-0.9zM143.9 73.2h0.9v0.9h-0.9zM136.9 65.9h0.9v0.9h-0.9zM145.0 81.8h0.9v0.9h-0.9zM136.3 71.2h0.9v0.9h-0.9zM132.8 58.0h0.9v0.9h-0.9zM141.7 81.4h0.9v0.9h-0.9zM140.2 63.8h0.9v0.9h-0.9zM137.5 63.3h0.9v0.9h-0.9zM136.3 68.4h0.9v0.9h-0.9zM144.8 80.9h0.9v0.9h-0.9zM145.0 73.3h0.9v0.9h-0.9zM143.7 78.4h0.9v0.9h-0.9zM136.7 66.8h0.9v0.9h-0.9zM141.5 57.6h0.9v0.9h-0.9zM135.0 66.9h0.9v0.9h-0.9zM134.8 58.1h0.9v0.9h-0.9zM138.8 67.8h0.9v0.9h-0.9zM134.5 67.0h0.9v0.9h-0.9zM138.9 70.5h0.9v0.9h-0.9zM135.9 62.2h0.9v0.9h-0.9zM133.9 69.1h0.9v0.9h-0.9zM138.4 60.9h0.9v0.9h-0.9zM129.0 59.6h0.9v0.9h-0.9zM142.4 67.6h0.9v0.9h-0.9zM137.9 70.2h0.9v0.9h-0.9zM128.8 56.9h0.9v0.9h-0.9zM140.3 74.7h0.9v0.9h-0.9zM140.1 61.4h0.9v0.9h-0.9zM139.6 63.0h0.9v0.9h-0.9zM136.3 61.7h0.9v0.9h-0.9zM131.5 60.2h0.9v0.9h-0.9zM143.1 68.0h0.9v0.9h-0.9zM141.2 65.0h0.9v0.9h-0.9zM142.9 72.0h0.9v0.9h-0.9zM140.1 66.2h0.9v0.9h-0.9zM138.4 60.5h0.9v0.9h-0.9zM137.8 73.3h0.9v0.9h-0.9zM129.9 64.6h0.9v0.9h-0.9zM144.0 77.4h0.9v0.9h-0.9zM141.3 63.6h0.9v0.9h-0.9zM138.1 66.1h0.9v0.9h-0.9zM142.2 64.0h0.9v0.9h-0.9zM138.2 76.6h0.9v0.9h-0.9zM137.1 56.1h0.9v0.9h-0.9zM142.2 61.3h0.9v0.9h-0.9zM142.1 73.2h0.9v0.9h-0.9zM140.4 60.9h0.9v0.9h-0.9zM137.9 72.1h0.9v0.9h-0.9zM141.5 60.7h0.9v0.9h-0.9zM133.8 64.8h0.9v0.9h-0.9zM141.5 71.5h0.9v0.9h-0.9zM130.8 57.8h0.9v0.9h-0.9zM141.8 74.9h0.9v0.9h-0.9zM138.4 62.3h0.9v0.9h-0.9zM145.5 82.3h0.9v0.9h-0.9zM134.0 60.7h0.9v0.9h-0.9zM132.0 58.4h0.9v0.9h-0.9zM134.8 58.5h0.9v0.9h-0.9zM131.4 62.2h0.9v0.9h-0.9zM138.7 67.8h0.9v0.9h-0.9zM133.7 70.0h0.9v0.9h-0.9zM142.3 75.7h0.9v0.9h-0.9zM142.6 71.1h0.9v0.9h-0.9zM136.8 64.4h0.9v0.9h-0.9zM139.2 57.9h0.9v0.9h-0.9zM145.1 80.3h0.9v0.9h-0.9zM137.2 74.0h0.9v0.9h-0.9zM130.2 59.3h0.9v0.9h-0.9zM137.8 60.0h0.9v0.9h-0.9zM142.7 57.8h0.9v0.9h-0.9zM130.4 61.2h0.9v0.9h-0.9zM142.1 68.5h0.9v0.9h-0.9zM142.3 76.4h0.9v0.9h-0.9zM139.1 57.9h0.9v0.9h-0.9zM142.5 75.7h0.9v0.9h-0.9zM140.5 67.2h0.9v0.9h-0.9zM141.0 75.8h0.9v0.9h-0.9zM139.2 55.5h0.9v0.9h-0.9zM133.1 55.9h0.9v0.9h-0.9zM128.8 58.9h0.9v0.9h-0.9zM131.9 59.2h0.9v0.9h-0.9zM144.6 74.0h0.9v0.9h-0.9zM138.8 58.8h0.9v0.9h-0.9zM143.5 75.9h0.9v0.9h-0.9zM137.1 69.1h0.9v0.9h-0.9zM142.8 58.8h0.9v0.9h-0.9zM132.9 61.9h0.9v0.9h-0.9zM136.5 73.5h0.9v0.9h-0.9zM137.5 69.7h0.9v0.9h-0.9zM133.8 58.6h0.9v0.9h-0.9zM135.7 56.0h0.9v0.9h-0.9zM144.2 74.9h0.9v0.9h-0.9zM141.5 76.7h0.9v0.9h-0.9zM139.0 77.2h0.9v0.9h-0.9zM131.1 64.9h0.9v0.9h-0.9zM143.2 78.0h0.9v0.9h-0.9zM131.9 58.1h0.9v0.9h-0.9zM141.4 76.3h0.9v0.9h-0.9zM140.0 77.3h0.9v0.9h-0.9zM137.5 71.1h0.9v0.9h-0.9zM145.0 73.5h0.9v0.9h-0.9zM140.1 71.8h0.9v0.9h-0.9zM138.6 58.7h0.9v0.9h-0.9zM135.9 67.1h0.9v0.9h-0.9zM136.0 71.0h0.9v0.9h-0.9zM134.7 66.2h0.9v0.9h-0.9zM135.9 65.6h0.9v0.9h-0.9zM135.3 67.8h0.9v0.9h-0.9zM138.9 65.5h0.9v0.9h-0.9zM144.1 81.8h0.9v0.9h-0.9zM133.3 68.3h0.9v0.9h-0.9zM134.0 56.7h0.9v0.9h-0.9zM144.5 78.9h0.9v0.9h-0.9zM132.5 62.3h0.9v0.9h-0.9zM140.9 77.8h0.9v0.9h-0.9zM136.7 66.1h0.9v0.9h-0.9zM143.9 79.5h0.9v0.9h-0.9zM136.5 59.2h0.9v0.9h-0.9zM140.3 68.5h0.9v0.9h-0.9zM144.5 81.6h0.9v0.9h-0.9zM139.4 57.9h0.9v0.9h-0.9zM138.9 67.0h0.9v0.9h-0.9zM141.5 58.5h0.9v0.9h-0.9zM132.3 64.8h0.9v0.9h-0.9zM138.6 64.3h0.9v0.9h-0.9zM139.2 58.2h0.9v0.9h-0.9zM135.6 72.8h0.9v0.9h-0.9zM139.8 64.8h0.9v0.9h-0.9zM128.7 58.6h0.9v0.9h-0.9zM138.4 59.9h0.9v0.9h-0.9zM130.9 62.5h0.9v0.9h-0.9zM131.1 60.5h0.9v0.9h-0.9zM130.5 61.1h0.9v0.9h-0.9zM134.2 66.3h0.9v0.9h-0.9zM142.0 66.6h0.9v0.9h-0.9z" fill="#ffffff" opacity="0.9"/>
<polygon points="147.0,52.0 149.5,50.5 151.5,53.0 151.0,57.0 150.4,64.3 152.6,71.4 154.0,78.6 153.2,84.0 149.5,85.5 146.9,78.6 145.4,71.4 143.3,64.3 145.0,57.0" fill="#ffffff" />
<path d="M147.9 63.9h0.9v0.9h-0.9zM151.1 81.7h0.9v0.9h-0.9zM148.5 73.9h0.9v0.9h-0.9zM146.9 59.6h0.9v0.9h-0.9zM146.7 74.5h0.9v0.9h-0.9zM147.8 68.5h0.9v0.9h-0.9zM145.1 56.2h0.9v0.9h-0.9zM146.4 73.9h0.9v0.9h-0.9zM148.7 61.5h0.9v0.9h-0.9zM145.5 60.2h0.9v0.9h-0.9zM145.8 62.2h0.9v0.9h-0.9zM151.3 77.6h0.9v0.9h-0.9zM150.3 81.0h0.9v0.9h-0.9zM149.8 54.0h0.9v0.9h-0.9zM145.6 68.5h0.9v0.9h-0.9zM151.6 70.6h0.9v0.9h-0.9zM147.4 58.5h0.9v0.9h-0.9zM149.8 62.5h0.9v0.9h-0.9zM149.7 73.9h0.9v0.9h-0.9zM145.9 59.6h0.9v0.9h-0.9zM146.6 56.6h0.9v0.9h-0.9zM145.5 55.8h0.9v0.9h-0.9zM149.6 73.0h0.9v0.9h-0.9zM148.3 56.3h0.9v0.9h-0.9zM144.7 58.5h0.9v0.9h-0.9zM148.3 66.7h0.9v0.9h-0.9z" fill="#2020ea" opacity="1.0"/>
<path d="M156.4 107.0h1.1v1.1h-1.1zM155.9 105.5h1.1v1.1h-1.1zM156.8 104.5h1.1v1.1h-1.1zM164.3 105.8h1.1v1.1h-1.1zM164.4 104.5h1.1v1.1h-1.1zM163.9 106.5h1.1v1.1h-1.1zM161.4 95.5h1.1v1.1h-1.1zM162.4 98.5h1.1v1.1h-1.1zM159.4 100.5h1.1v1.1h-1.1zM165.4 102.5h1.1v1.1h-1.1zM157.4 104.0h1.1v1.1h-1.1zM160.9 92.5h1.1v1.1h-1.1z" fill="#2020ea" opacity="1.0"/>
<line x1="167.2" y1="96.4" x2="171.5" y2="96.4" stroke="#2020ea" stroke-width="0.7" />
<path d="M166.8 95.7h1.4v1.4h-1.4z" fill="#2020ea" opacity="1.0"/>
<polygon points="201.9,73.9 205.0,74.5 207.5,77.0 208.5,80.0 209.7,85.0 209.0,90.0 206.0,93.5 203.0,94.2 199.0,93.0 196.0,90.0 195.4,85.0 197.0,81.0 199.0,76.0" fill="#9a1ea6" />
<path d="M202.9 88.2h0.9v0.9h-0.9zM207.7 83.0h0.9v0.9h-0.9zM197.0 85.7h0.9v0.9h-0.9zM206.1 76.1h0.9v0.9h-0.9zM199.2 90.7h0.9v0.9h-0.9zM204.8 75.7h0.9v0.9h-0.9zM204.8 89.6h0.9v0.9h-0.9zM200.8 76.6h0.9v0.9h-0.9zM204.4 79.9h0.9v0.9h-0.9zM200.7 76.0h0.9v0.9h-0.9zM200.5 84.6h0.9v0.9h-0.9zM202.8 81.6h0.9v0.9h-0.9zM199.7 92.4h0.9v0.9h-0.9zM205.9 84.3h0.9v0.9h-0.9zM206.2 85.1h0.9v0.9h-0.9zM199.6 81.7h0.9v0.9h-0.9zM202.6 75.5h0.9v0.9h-0.9zM205.0 89.6h0.9v0.9h-0.9zM206.3 91.3h0.9v0.9h-0.9zM199.5 76.4h0.9v0.9h-0.9zM205.8 87.5h0.9v0.9h-0.9zM200.3 80.4h0.9v0.9h-0.9zM197.1 90.3h0.9v0.9h-0.9zM201.5 89.9h0.9v0.9h-0.9zM199.8 80.0h0.9v0.9h-0.9zM202.3 88.6h0.9v0.9h-0.9zM207.6 80.6h0.9v0.9h-0.9zM204.9 81.6h0.9v0.9h-0.9zM207.3 88.9h0.9v0.9h-0.9zM202.9 80.8h0.9v0.9h-0.9zM198.9 91.4h0.9v0.9h-0.9zM206.4 79.6h0.9v0.9h-0.9zM206.5 84.2h0.9v0.9h-0.9zM202.9 84.4h0.9v0.9h-0.9zM200.8 84.8h0.9v0.9h-0.9zM204.6 86.5h0.9v0.9h-0.9zM206.5 87.5h0.9v0.9h-0.9zM206.1 76.5h0.9v0.9h-0.9zM202.5 89.1h0.9v0.9h-0.9zM197.2 84.2h0.9v0.9h-0.9zM207.8 88.6h0.9v0.9h-0.9zM200.6 83.2h0.9v0.9h-0.9zM206.1 87.3h0.9v0.9h-0.9zM199.3 88.3h0.9v0.9h-0.9zM201.9 89.7h0.9v0.9h-0.9zM200.2 91.3h0.9v0.9h-0.9zM204.7 82.6h0.9v0.9h-0.9zM203.0 89.8h0.9v0.9h-0.9zM202.5 92.9h0.9v0.9h-0.9zM205.2 83.4h0.9v0.9h-0.9zM199.8 87.9h0.9v0.9h-0.9zM206.7 81.0h0.9v0.9h-0.9z" fill="#e090e0" opacity="0.8"/>
<path d="M196.0 85.0h0.9v0.9h-0.9zM199.6 78.8h0.9v0.9h-0.9zM201.4 75.0h0.9v0.9h-0.9zM202.9 82.5h0.9v0.9h-0.9zM199.4 85.7h0.9v0.9h-0.9zM208.6 88.2h0.9v0.9h-0.9zM196.7 80.5h0.9v0.9h-0.9zM196.8 82.0h0.9v0.9h-0.9zM202.5 79.6h0.9v0.9h-0.9zM204.6 84.8h0.9v0.9h-0.9zM203.5 79.5h0.9v0.9h-0.9zM205.5 87.4h0.9v0.9h-0.9zM205.2 83.0h0.9v0.9h-0.9zM201.6 79.3h0.9v0.9h-0.9zM203.8 77.2h0.9v0.9h-0.9zM207.2 90.0h0.9v0.9h-0.9zM201.9 77.0h0.9v0.9h-0.9zM198.8 88.4h0.9v0.9h-0.9zM199.9 85.6h0.9v0.9h-0.9zM199.8 91.9h0.9v0.9h-0.9zM199.7 79.6h0.9v0.9h-0.9zM203.4 90.2h0.9v0.9h-0.9zM195.9 84.5h0.9v0.9h-0.9zM202.6 92.9h0.9v0.9h-0.9zM203.0 80.8h0.9v0.9h-0.9zM203.2 92.4h0.9v0.9h-0.9zM198.6 90.1h0.9v0.9h-0.9zM200.2 85.3h0.9v0.9h-0.9zM198.3 87.8h0.9v0.9h-0.9zM204.3 75.4h0.9v0.9h-0.9zM204.9 80.5h0.9v0.9h-0.9z" fill="#60107a" opacity="0.8"/>
<path d="M209.3 78.6h0.9v0.9h-0.9zM194.8 82.6h0.9v0.9h-0.9zM200.8 74.1h0.9v0.9h-0.9zM207.6 84.3h0.9v0.9h-0.9zM194.6 84.9h0.9v0.9h-0.9zM206.0 90.8h0.9v0.9h-0.9zM208.4 80.4h0.9v0.9h-0.9zM200.8 93.2h0.9v0.9h-0.9zM197.9 76.3h0.9v0.9h-0.9zM206.5 91.0h0.9v0.9h-0.9zM202.4 74.0h0.9v0.9h-0.9zM207.2 78.1h0.9v0.9h-0.9zM197.4 79.0h0.9v0.9h-0.9zM201.7 72.7h0.9v0.9h-0.9zM209.2 89.4h0.9v0.9h-0.9zM207.3 81.6h0.9v0.9h-0.9zM209.2 81.5h0.9v0.9h-0.9zM206.6 76.6h0.9v0.9h-0.9zM200.6 74.4h0.9v0.9h-0.9zM204.7 93.8h0.9v0.9h-0.9zM194.8 88.5h0.9v0.9h-0.9zM208.8 80.2h0.9v0.9h-0.9zM205.8 92.9h0.9v0.9h-0.9zM194.7 84.6h0.9v0.9h-0.9zM206.4 76.2h0.9v0.9h-0.9zM203.6 93.5h0.9v0.9h-0.9zM197.3 91.8h0.9v0.9h-0.9zM203.8 92.8h0.9v0.9h-0.9zM200.7 73.4h0.9v0.9h-0.9zM207.9 81.0h0.9v0.9h-0.9z" fill="#9a1ea6" opacity="0.95"/>
<ellipse cx="202" cy="85.3" rx="10.9" ry="14.6" fill="none" stroke="#1e1e1e" stroke-width="1.05" stroke-dasharray="2.6,2.1" transform="rotate(0 202 85.3)"/>
<text x="156.7" y="25.5" font-size="7" font-weight="normal" text-anchor="start" fill="#231f20" stroke="#231f20" stroke-width="0.18" >Non-CTCL CD4+</text>
<text x="156.7" y="32.9" font-size="7" font-weight="normal" text-anchor="start" fill="#231f20" stroke="#231f20" stroke-width="0.18" >T cell population 1</text>
<text x="163.3" y="61" font-size="7" font-weight="normal" text-anchor="start" fill="#231f20" stroke="#231f20" stroke-width="0.18" >Non-CTCL CD4+</text>
<text x="163.3" y="68.5" font-size="7" font-weight="normal" text-anchor="start" fill="#231f20" stroke="#231f20" stroke-width="0.18" >T cell population 2</text>
<text x="119.2" y="154.2" font-size="11" font-weight="bold" text-anchor="start" fill="#111" >D</text>
<line x1="123.6" y1="161.6" x2="123.6" y2="259.79999999999995" stroke="#222" stroke-width="1.3" />
<line x1="123.6" y1="259.15" x2="216.1" y2="259.15" stroke="#222" stroke-width="1.3" />
<line x1="120.0" y1="170.2" x2="123.6" y2="170.2" stroke="#111" stroke-width="1.3" />
<line x1="120.0" y1="191.4" x2="123.6" y2="191.4" stroke="#111" stroke-width="1.3" />
<line x1="120.0" y1="213.3" x2="123.6" y2="213.3" stroke="#111" stroke-width="1.3" />
<line x1="120.0" y1="235.3" x2="123.6" y2="235.3" stroke="#111" stroke-width="1.3" />
<line x1="120.0" y1="256.7" x2="123.6" y2="256.7" stroke="#111" stroke-width="1.3" />
<line x1="134.4" y1="259.15" x2="134.4" y2="262.54999999999995" stroke="#111" stroke-width="1.3" />
<line x1="157.4" y1="259.15" x2="157.4" y2="262.54999999999995" stroke="#111" stroke-width="1.3" />
<line x1="180.6" y1="259.15" x2="180.6" y2="262.54999999999995" stroke="#111" stroke-width="1.3" />
<line x1="203.4" y1="259.15" x2="203.4" y2="262.54999999999995" stroke="#111" stroke-width="1.3" />
<polygon points="145.4,172.0 151.1,173.4 154.7,177.0 156.1,182.7 156.6,188.4 155.4,195.6 156.9,201.3 158.3,206.3 159.7,209.3 160.4,216.4 161.0,223.6 161.8,229.0 162.0,231.4 161.0,235.0 159.5,237.8 157.6,244.2 154.4,248.7 151.0,247.0 149.2,244.2 145.4,237.8 140.3,231.4 141.0,229.0 139.7,223.6 134.7,216.4 129.7,209.3 128.6,204.0 128.3,195.6 129.0,188.4 131.9,181.3 134.0,177.0 138.3,173.4" fill="#888888" />
<path d="M149.8 238.0h0.9v0.9h-0.9zM134.7 198.1h0.9v0.9h-0.9zM138.2 208.1h0.9v0.9h-0.9zM153.0 219.9h0.9v0.9h-0.9zM159.2 222.9h0.9v0.9h-0.9zM129.1 204.7h0.9v0.9h-0.9zM149.2 187.1h0.9v0.9h-0.9zM156.7 203.3h0.9v0.9h-0.9zM148.7 213.1h0.9v0.9h-0.9zM144.7 174.4h0.9v0.9h-0.9zM137.9 218.3h0.9v0.9h-0.9zM154.1 201.5h0.9v0.9h-0.9zM145.5 203.9h0.9v0.9h-0.9zM152.6 225.3h0.9v0.9h-0.9zM155.9 223.2h0.9v0.9h-0.9zM149.1 195.5h0.9v0.9h-0.9zM145.8 173.1h0.9v0.9h-0.9zM139.3 198.3h0.9v0.9h-0.9zM158.3 234.0h0.9v0.9h-0.9zM155.1 232.1h0.9v0.9h-0.9zM154.5 180.8h0.9v0.9h-0.9zM156.2 235.2h0.9v0.9h-0.9zM145.2 189.5h0.9v0.9h-0.9zM153.8 233.0h0.9v0.9h-0.9zM154.0 242.7h0.9v0.9h-0.9zM153.1 188.9h0.9v0.9h-0.9zM138.8 197.7h0.9v0.9h-0.9zM142.5 181.4h0.9v0.9h-0.9zM151.5 211.4h0.9v0.9h-0.9zM153.7 197.4h0.9v0.9h-0.9zM141.8 228.6h0.9v0.9h-0.9zM151.5 239.6h0.9v0.9h-0.9zM152.7 215.5h0.9v0.9h-0.9zM141.6 215.0h0.9v0.9h-0.9zM138.3 181.0h0.9v0.9h-0.9zM152.5 218.8h0.9v0.9h-0.9zM155.7 219.0h0.9v0.9h-0.9zM135.5 214.9h0.9v0.9h-0.9zM141.2 192.2h0.9v0.9h-0.9zM149.2 243.1h0.9v0.9h-0.9zM133.6 191.8h0.9v0.9h-0.9zM145.0 176.1h0.9v0.9h-0.9zM138.0 213.0h0.9v0.9h-0.9zM147.3 220.4h0.9v0.9h-0.9zM147.6 231.8h0.9v0.9h-0.9zM160.9 232.3h0.9v0.9h-0.9zM132.1 180.1h0.9v0.9h-0.9zM144.5 172.0h0.9v0.9h-0.9zM136.6 200.9h0.9v0.9h-0.9zM136.6 190.2h0.9v0.9h-0.9zM138.8 203.3h0.9v0.9h-0.9zM140.0 196.4h0.9v0.9h-0.9zM152.7 209.4h0.9v0.9h-0.9zM158.2 206.6h0.9v0.9h-0.9zM144.7 214.6h0.9v0.9h-0.9zM131.8 196.0h0.9v0.9h-0.9zM148.7 223.2h0.9v0.9h-0.9zM149.0 219.1h0.9v0.9h-0.9zM140.6 176.8h0.9v0.9h-0.9zM157.0 241.0h0.9v0.9h-0.9zM133.6 198.1h0.9v0.9h-0.9zM155.5 235.4h0.9v0.9h-0.9zM136.6 215.6h0.9v0.9h-0.9zM150.5 189.5h0.9v0.9h-0.9zM140.7 179.2h0.9v0.9h-0.9zM154.7 185.7h0.9v0.9h-0.9zM132.4 192.9h0.9v0.9h-0.9zM149.4 220.4h0.9v0.9h-0.9zM145.5 237.0h0.9v0.9h-0.9zM153.2 187.6h0.9v0.9h-0.9zM145.9 184.5h0.9v0.9h-0.9zM136.0 182.8h0.9v0.9h-0.9zM130.4 198.4h0.9v0.9h-0.9zM157.7 221.9h0.9v0.9h-0.9zM130.8 188.4h0.9v0.9h-0.9zM147.8 212.2h0.9v0.9h-0.9zM146.9 217.7h0.9v0.9h-0.9zM135.9 216.7h0.9v0.9h-0.9zM145.7 197.6h0.9v0.9h-0.9zM142.1 213.0h0.9v0.9h-0.9zM153.8 212.9h0.9v0.9h-0.9zM152.0 220.5h0.9v0.9h-0.9zM153.5 188.2h0.9v0.9h-0.9zM147.0 205.3h0.9v0.9h-0.9zM144.3 204.3h0.9v0.9h-0.9zM151.7 227.1h0.9v0.9h-0.9zM154.8 191.8h0.9v0.9h-0.9zM150.4 209.6h0.9v0.9h-0.9zM139.9 173.5h0.9v0.9h-0.9zM143.7 212.4h0.9v0.9h-0.9zM138.2 179.6h0.9v0.9h-0.9zM144.2 177.0h0.9v0.9h-0.9zM133.6 205.6h0.9v0.9h-0.9zM139.6 209.9h0.9v0.9h-0.9zM145.7 201.3h0.9v0.9h-0.9zM137.3 198.5h0.9v0.9h-0.9zM144.5 232.6h0.9v0.9h-0.9zM134.8 199.8h0.9v0.9h-0.9zM141.3 201.1h0.9v0.9h-0.9zM149.5 217.2h0.9v0.9h-0.9zM145.9 216.2h0.9v0.9h-0.9zM140.4 220.9h0.9v0.9h-0.9zM140.3 192.7h0.9v0.9h-0.9zM137.0 208.9h0.9v0.9h-0.9zM130.4 203.3h0.9v0.9h-0.9zM154.2 226.2h0.9v0.9h-0.9zM154.6 180.5h0.9v0.9h-0.9zM155.3 207.7h0.9v0.9h-0.9zM157.9 208.2h0.9v0.9h-0.9zM136.5 183.1h0.9v0.9h-0.9zM144.6 175.4h0.9v0.9h-0.9zM147.2 237.8h0.9v0.9h-0.9zM132.9 208.4h0.9v0.9h-0.9zM143.6 179.8h0.9v0.9h-0.9zM152.2 210.6h0.9v0.9h-0.9zM148.4 237.6h0.9v0.9h-0.9zM160.0 217.2h0.9v0.9h-0.9zM133.4 190.0h0.9v0.9h-0.9zM132.5 210.8h0.9v0.9h-0.9zM147.5 206.8h0.9v0.9h-0.9zM143.7 182.4h0.9v0.9h-0.9zM152.0 212.8h0.9v0.9h-0.9zM140.9 206.1h0.9v0.9h-0.9zM157.8 206.1h0.9v0.9h-0.9zM131.4 206.5h0.9v0.9h-0.9zM145.3 231.8h0.9v0.9h-0.9zM134.1 193.0h0.9v0.9h-0.9zM148.4 178.8h0.9v0.9h-0.9zM153.1 204.0h0.9v0.9h-0.9zM130.4 201.4h0.9v0.9h-0.9zM145.2 212.9h0.9v0.9h-0.9zM142.9 196.7h0.9v0.9h-0.9zM155.8 224.6h0.9v0.9h-0.9zM129.6 191.8h0.9v0.9h-0.9zM153.5 207.8h0.9v0.9h-0.9zM131.8 188.1h0.9v0.9h-0.9zM148.9 237.3h0.9v0.9h-0.9zM158.1 214.7h0.9v0.9h-0.9zM148.3 218.6h0.9v0.9h-0.9zM153.8 211.2h0.9v0.9h-0.9zM131.7 188.6h0.9v0.9h-0.9zM149.9 177.6h0.9v0.9h-0.9zM131.5 190.8h0.9v0.9h-0.9zM154.7 213.5h0.9v0.9h-0.9zM147.4 189.9h0.9v0.9h-0.9zM146.9 237.2h0.9v0.9h-0.9zM140.3 204.9h0.9v0.9h-0.9zM149.4 185.4h0.9v0.9h-0.9zM147.5 196.2h0.9v0.9h-0.9zM143.8 226.2h0.9v0.9h-0.9zM138.4 217.5h0.9v0.9h-0.9zM155.5 207.4h0.9v0.9h-0.9zM149.1 193.7h0.9v0.9h-0.9zM136.5 210.7h0.9v0.9h-0.9zM145.8 188.7h0.9v0.9h-0.9zM153.6 209.9h0.9v0.9h-0.9zM139.8 191.0h0.9v0.9h-0.9zM156.1 240.7h0.9v0.9h-0.9zM150.7 197.4h0.9v0.9h-0.9zM142.7 223.9h0.9v0.9h-0.9zM133.2 199.5h0.9v0.9h-0.9zM154.4 223.8h0.9v0.9h-0.9zM147.6 179.5h0.9v0.9h-0.9zM135.2 191.2h0.9v0.9h-0.9zM143.7 211.2h0.9v0.9h-0.9zM137.3 207.2h0.9v0.9h-0.9zM145.0 208.0h0.9v0.9h-0.9zM159.1 230.0h0.9v0.9h-0.9zM151.5 217.3h0.9v0.9h-0.9zM149.8 209.9h0.9v0.9h-0.9zM129.1 206.2h0.9v0.9h-0.9zM156.0 217.7h0.9v0.9h-0.9zM158.3 213.3h0.9v0.9h-0.9zM149.6 233.5h0.9v0.9h-0.9zM130.8 207.1h0.9v0.9h-0.9zM155.2 197.7h0.9v0.9h-0.9zM160.0 218.9h0.9v0.9h-0.9zM147.3 185.5h0.9v0.9h-0.9zM139.0 183.0h0.9v0.9h-0.9zM143.5 175.1h0.9v0.9h-0.9zM150.0 221.1h0.9v0.9h-0.9zM158.3 230.5h0.9v0.9h-0.9zM144.4 177.8h0.9v0.9h-0.9zM151.6 184.8h0.9v0.9h-0.9zM158.3 209.3h0.9v0.9h-0.9zM138.9 222.3h0.9v0.9h-0.9zM151.8 206.8h0.9v0.9h-0.9zM137.1 203.8h0.9v0.9h-0.9zM151.9 189.1h0.9v0.9h-0.9zM133.2 208.7h0.9v0.9h-0.9zM150.0 176.7h0.9v0.9h-0.9zM138.2 178.1h0.9v0.9h-0.9zM151.6 219.2h0.9v0.9h-0.9zM144.1 222.5h0.9v0.9h-0.9zM145.4 185.6h0.9v0.9h-0.9zM151.3 181.4h0.9v0.9h-0.9zM147.0 210.8h0.9v0.9h-0.9zM151.8 209.3h0.9v0.9h-0.9zM140.8 213.9h0.9v0.9h-0.9zM128.6 198.5h0.9v0.9h-0.9zM158.4 221.7h0.9v0.9h-0.9zM149.8 217.9h0.9v0.9h-0.9zM152.8 192.1h0.9v0.9h-0.9zM156.0 213.2h0.9v0.9h-0.9zM153.4 236.0h0.9v0.9h-0.9zM136.4 203.0h0.9v0.9h-0.9zM140.0 177.5h0.9v0.9h-0.9zM157.4 224.1h0.9v0.9h-0.9zM144.4 213.4h0.9v0.9h-0.9zM139.9 224.2h0.9v0.9h-0.9zM145.9 209.7h0.9v0.9h-0.9zM136.6 188.7h0.9v0.9h-0.9zM150.4 197.7h0.9v0.9h-0.9zM145.2 179.6h0.9v0.9h-0.9zM140.0 177.3h0.9v0.9h-0.9zM153.5 199.5h0.9v0.9h-0.9zM159.9 221.1h0.9v0.9h-0.9zM141.0 204.2h0.9v0.9h-0.9zM148.4 212.0h0.9v0.9h-0.9zM157.1 240.2h0.9v0.9h-0.9zM154.1 221.2h0.9v0.9h-0.9zM149.9 177.2h0.9v0.9h-0.9zM140.1 207.8h0.9v0.9h-0.9zM149.3 176.3h0.9v0.9h-0.9zM146.8 228.2h0.9v0.9h-0.9zM154.5 244.2h0.9v0.9h-0.9zM152.0 213.5h0.9v0.9h-0.9zM155.6 233.4h0.9v0.9h-0.9zM149.0 222.9h0.9v0.9h-0.9zM133.9 197.5h0.9v0.9h-0.9zM154.2 193.8h0.9v0.9h-0.9zM129.9 196.7h0.9v0.9h-0.9zM139.9 201.3h0.9v0.9h-0.9zM156.7 212.4h0.9v0.9h-0.9zM149.1 205.3h0.9v0.9h-0.9zM137.2 211.8h0.9v0.9h-0.9zM144.0 182.4h0.9v0.9h-0.9zM132.8 210.4h0.9v0.9h-0.9zM154.8 204.7h0.9v0.9h-0.9zM132.8 191.5h0.9v0.9h-0.9zM142.1 229.5h0.9v0.9h-0.9zM142.5 203.6h0.9v0.9h-0.9zM141.4 211.5h0.9v0.9h-0.9zM134.3 181.7h0.9v0.9h-0.9zM146.3 198.5h0.9v0.9h-0.9zM152.2 174.6h0.9v0.9h-0.9zM150.7 199.5h0.9v0.9h-0.9zM142.4 195.9h0.9v0.9h-0.9zM145.8 193.1h0.9v0.9h-0.9zM150.4 203.1h0.9v0.9h-0.9zM151.7 193.9h0.9v0.9h-0.9zM143.2 214.3h0.9v0.9h-0.9zM152.1 221.6h0.9v0.9h-0.9zM142.3 178.1h0.9v0.9h-0.9zM131.6 182.8h0.9v0.9h-0.9zM134.0 185.6h0.9v0.9h-0.9zM150.2 197.7h0.9v0.9h-0.9zM136.1 185.6h0.9v0.9h-0.9zM147.3 190.8h0.9v0.9h-0.9zM155.2 223.4h0.9v0.9h-0.9zM142.3 218.2h0.9v0.9h-0.9zM150.0 205.4h0.9v0.9h-0.9zM130.9 199.5h0.9v0.9h-0.9zM149.4 178.3h0.9v0.9h-0.9zM153.9 237.8h0.9v0.9h-0.9zM140.4 200.1h0.9v0.9h-0.9zM145.1 190.9h0.9v0.9h-0.9zM134.9 181.4h0.9v0.9h-0.9zM151.0 210.6h0.9v0.9h-0.9zM157.3 218.8h0.9v0.9h-0.9zM148.7 205.0h0.9v0.9h-0.9zM142.2 182.7h0.9v0.9h-0.9zM146.3 192.6h0.9v0.9h-0.9zM147.2 238.8h0.9v0.9h-0.9zM137.8 215.8h0.9v0.9h-0.9zM146.6 196.5h0.9v0.9h-0.9zM130.5 208.9h0.9v0.9h-0.9zM145.5 234.3h0.9v0.9h-0.9zM134.7 185.8h0.9v0.9h-0.9zM151.7 209.7h0.9v0.9h-0.9zM131.6 207.8h0.9v0.9h-0.9zM146.6 203.8h0.9v0.9h-0.9zM144.9 174.9h0.9v0.9h-0.9zM157.6 216.0h0.9v0.9h-0.9zM139.5 193.4h0.9v0.9h-0.9zM156.2 200.6h0.9v0.9h-0.9zM148.2 213.9h0.9v0.9h-0.9zM152.6 184.0h0.9v0.9h-0.9zM146.9 172.9h0.9v0.9h-0.9zM149.9 218.5h0.9v0.9h-0.9zM145.4 172.6h0.9v0.9h-0.9zM156.0 208.1h0.9v0.9h-0.9zM135.2 202.7h0.9v0.9h-0.9zM148.7 226.1h0.9v0.9h-0.9zM150.9 202.0h0.9v0.9h-0.9zM158.0 234.8h0.9v0.9h-0.9zM153.6 217.6h0.9v0.9h-0.9zM150.7 236.0h0.9v0.9h-0.9zM154.9 206.4h0.9v0.9h-0.9zM141.2 232.6h0.9v0.9h-0.9zM149.9 212.9h0.9v0.9h-0.9zM135.4 181.8h0.9v0.9h-0.9zM153.3 223.5h0.9v0.9h-0.9zM141.7 217.3h0.9v0.9h-0.9zM145.0 212.9h0.9v0.9h-0.9zM143.4 203.1h0.9v0.9h-0.9zM151.1 180.1h0.9v0.9h-0.9zM151.2 242.8h0.9v0.9h-0.9zM153.5 213.2h0.9v0.9h-0.9zM139.8 179.0h0.9v0.9h-0.9zM157.5 238.0h0.9v0.9h-0.9zM155.1 208.4h0.9v0.9h-0.9zM139.2 211.0h0.9v0.9h-0.9zM152.3 206.0h0.9v0.9h-0.9zM141.1 203.7h0.9v0.9h-0.9zM135.4 208.6h0.9v0.9h-0.9zM151.6 199.3h0.9v0.9h-0.9zM150.2 209.4h0.9v0.9h-0.9zM137.6 213.4h0.9v0.9h-0.9zM130.0 187.3h0.9v0.9h-0.9zM145.3 174.8h0.9v0.9h-0.9zM137.0 210.8h0.9v0.9h-0.9zM133.7 195.0h0.9v0.9h-0.9zM135.7 217.4h0.9v0.9h-0.9zM131.7 211.4h0.9v0.9h-0.9zM149.7 178.4h0.9v0.9h-0.9zM146.3 195.3h0.9v0.9h-0.9zM152.9 218.8h0.9v0.9h-0.9zM158.5 218.1h0.9v0.9h-0.9zM134.0 185.8h0.9v0.9h-0.9zM151.6 233.7h0.9v0.9h-0.9zM130.0 203.5h0.9v0.9h-0.9zM137.4 207.4h0.9v0.9h-0.9zM157.3 214.5h0.9v0.9h-0.9zM152.9 230.2h0.9v0.9h-0.9zM137.2 219.0h0.9v0.9h-0.9zM140.5 207.9h0.9v0.9h-0.9zM145.7 222.7h0.9v0.9h-0.9zM133.3 195.6h0.9v0.9h-0.9zM153.5 183.9h0.9v0.9h-0.9zM132.0 199.0h0.9v0.9h-0.9zM130.7 207.7h0.9v0.9h-0.9zM146.9 212.0h0.9v0.9h-0.9zM133.6 196.2h0.9v0.9h-0.9zM135.3 186.6h0.9v0.9h-0.9zM148.5 196.4h0.9v0.9h-0.9zM153.7 215.5h0.9v0.9h-0.9zM156.4 210.5h0.9v0.9h-0.9zM149.2 189.8h0.9v0.9h-0.9zM151.3 202.7h0.9v0.9h-0.9zM152.2 216.4h0.9v0.9h-0.9zM132.6 194.6h0.9v0.9h-0.9zM149.1 213.4h0.9v0.9h-0.9zM151.9 196.8h0.9v0.9h-0.9zM143.9 208.1h0.9v0.9h-0.9zM153.1 177.1h0.9v0.9h-0.9zM145.0 191.5h0.9v0.9h-0.9zM147.7 191.4h0.9v0.9h-0.9zM134.8 189.3h0.9v0.9h-0.9zM157.5 228.0h0.9v0.9h-0.9zM136.9 214.0h0.9v0.9h-0.9zM149.1 180.2h0.9v0.9h-0.9zM145.3 209.5h0.9v0.9h-0.9zM150.5 193.7h0.9v0.9h-0.9zM158.5 219.3h0.9v0.9h-0.9zM151.8 237.5h0.9v0.9h-0.9zM154.9 224.2h0.9v0.9h-0.9zM152.6 223.0h0.9v0.9h-0.9zM141.3 209.8h0.9v0.9h-0.9zM145.0 188.1h0.9v0.9h-0.9zM156.4 225.0h0.9v0.9h-0.9zM151.1 210.7h0.9v0.9h-0.9zM147.2 222.7h0.9v0.9h-0.9zM143.6 177.5h0.9v0.9h-0.9zM154.7 238.1h0.9v0.9h-0.9zM140.4 206.1h0.9v0.9h-0.9zM150.8 180.0h0.9v0.9h-0.9zM150.7 186.3h0.9v0.9h-0.9zM151.8 195.9h0.9v0.9h-0.9zM145.6 177.4h0.9v0.9h-0.9zM155.9 231.9h0.9v0.9h-0.9zM147.4 224.5h0.9v0.9h-0.9zM139.3 181.3h0.9v0.9h-0.9zM146.8 181.9h0.9v0.9h-0.9zM136.0 208.0h0.9v0.9h-0.9zM143.0 181.8h0.9v0.9h-0.9zM153.1 232.5h0.9v0.9h-0.9zM138.5 213.1h0.9v0.9h-0.9zM138.3 203.9h0.9v0.9h-0.9zM138.5 221.6h0.9v0.9h-0.9zM157.6 224.4h0.9v0.9h-0.9zM152.2 210.4h0.9v0.9h-0.9zM148.0 231.8h0.9v0.9h-0.9zM154.0 223.2h0.9v0.9h-0.9zM130.0 208.2h0.9v0.9h-0.9zM136.9 218.2h0.9v0.9h-0.9zM141.2 206.5h0.9v0.9h-0.9zM146.0 216.7h0.9v0.9h-0.9zM137.1 185.7h0.9v0.9h-0.9zM130.1 190.7h0.9v0.9h-0.9zM144.8 172.7h0.9v0.9h-0.9zM136.4 207.8h0.9v0.9h-0.9zM150.8 183.4h0.9v0.9h-0.9zM132.0 196.9h0.9v0.9h-0.9zM155.0 236.3h0.9v0.9h-0.9zM149.8 194.5h0.9v0.9h-0.9zM150.5 189.3h0.9v0.9h-0.9zM143.9 187.8h0.9v0.9h-0.9zM157.2 219.9h0.9v0.9h-0.9zM151.1 219.2h0.9v0.9h-0.9zM154.1 211.0h0.9v0.9h-0.9zM147.8 209.3h0.9v0.9h-0.9zM153.3 212.4h0.9v0.9h-0.9zM137.2 211.1h0.9v0.9h-0.9zM152.1 187.6h0.9v0.9h-0.9zM145.0 216.3h0.9v0.9h-0.9zM147.4 206.8h0.9v0.9h-0.9zM145.0 224.3h0.9v0.9h-0.9zM157.5 211.1h0.9v0.9h-0.9zM154.3 223.7h0.9v0.9h-0.9zM131.9 191.4h0.9v0.9h-0.9zM138.4 198.7h0.9v0.9h-0.9zM144.4 194.1h0.9v0.9h-0.9zM140.4 225.2h0.9v0.9h-0.9zM154.9 196.1h0.9v0.9h-0.9zM141.9 198.4h0.9v0.9h-0.9zM143.5 227.4h0.9v0.9h-0.9zM153.7 185.0h0.9v0.9h-0.9zM134.6 197.6h0.9v0.9h-0.9zM133.8 208.1h0.9v0.9h-0.9zM141.7 190.5h0.9v0.9h-0.9zM151.0 196.7h0.9v0.9h-0.9zM153.3 238.9h0.9v0.9h-0.9zM137.8 191.8h0.9v0.9h-0.9zM151.3 182.8h0.9v0.9h-0.9zM160.4 221.7h0.9v0.9h-0.9zM146.3 175.5h0.9v0.9h-0.9zM137.4 204.0h0.9v0.9h-0.9zM147.8 177.5h0.9v0.9h-0.9zM160.6 228.9h0.9v0.9h-0.9zM155.2 229.0h0.9v0.9h-0.9zM133.9 190.1h0.9v0.9h-0.9zM130.6 186.0h0.9v0.9h-0.9zM154.5 193.5h0.9v0.9h-0.9zM132.6 200.8h0.9v0.9h-0.9zM154.4 213.3h0.9v0.9h-0.9zM154.8 197.4h0.9v0.9h-0.9zM152.2 210.4h0.9v0.9h-0.9zM153.6 186.8h0.9v0.9h-0.9zM137.3 187.8h0.9v0.9h-0.9zM156.5 225.5h0.9v0.9h-0.9zM129.2 207.3h0.9v0.9h-0.9zM152.1 224.0h0.9v0.9h-0.9zM149.4 224.8h0.9v0.9h-0.9zM145.3 221.5h0.9v0.9h-0.9z" fill="#ffffff" opacity="0.85"/>
<path d="M132.8 176.3h0.9v0.9h-0.9zM128.1 204.3h0.9v0.9h-0.9zM145.2 239.0h0.9v0.9h-0.9zM160.3 235.9h0.9v0.9h-0.9zM129.7 207.6h0.9v0.9h-0.9zM128.9 191.1h0.9v0.9h-0.9zM129.3 207.9h0.9v0.9h-0.9zM156.0 195.3h0.9v0.9h-0.9zM138.3 222.4h0.9v0.9h-0.9zM142.1 236.1h0.9v0.9h-0.9zM137.5 219.7h0.9v0.9h-0.9zM130.4 208.8h0.9v0.9h-0.9zM141.8 233.6h0.9v0.9h-0.9zM155.2 180.8h0.9v0.9h-0.9zM137.1 220.9h0.9v0.9h-0.9zM127.3 203.2h0.9v0.9h-0.9zM155.5 181.4h0.9v0.9h-0.9zM139.9 226.7h0.9v0.9h-0.9zM157.8 238.1h0.9v0.9h-0.9zM153.7 179.3h0.9v0.9h-0.9zM157.3 185.4h0.9v0.9h-0.9zM161.1 226.6h0.9v0.9h-0.9zM156.5 205.1h0.9v0.9h-0.9zM133.1 175.0h0.9v0.9h-0.9zM158.0 240.7h0.9v0.9h-0.9zM158.8 239.4h0.9v0.9h-0.9zM128.4 197.5h0.9v0.9h-0.9zM147.5 241.9h0.9v0.9h-0.9zM155.6 184.7h0.9v0.9h-0.9zM154.9 182.1h0.9v0.9h-0.9zM145.3 171.7h0.9v0.9h-0.9zM153.2 178.4h0.9v0.9h-0.9zM128.8 203.2h0.9v0.9h-0.9zM162.5 228.8h0.9v0.9h-0.9zM140.0 231.2h0.9v0.9h-0.9zM147.0 242.5h0.9v0.9h-0.9zM153.7 182.7h0.9v0.9h-0.9zM158.6 236.0h0.9v0.9h-0.9zM127.8 195.8h0.9v0.9h-0.9zM132.8 214.3h0.9v0.9h-0.9zM147.9 172.6h0.9v0.9h-0.9zM161.2 227.8h0.9v0.9h-0.9zM131.1 186.1h0.9v0.9h-0.9zM135.3 173.3h0.9v0.9h-0.9zM133.9 175.6h0.9v0.9h-0.9zM151.1 172.2h0.9v0.9h-0.9zM128.3 203.1h0.9v0.9h-0.9zM147.1 241.8h0.9v0.9h-0.9zM153.9 196.7h0.9v0.9h-0.9zM160.1 208.6h0.9v0.9h-0.9zM135.8 219.4h0.9v0.9h-0.9zM154.9 247.4h0.9v0.9h-0.9zM160.5 216.3h0.9v0.9h-0.9zM162.1 229.1h0.9v0.9h-0.9zM132.0 180.9h0.9v0.9h-0.9zM156.8 245.3h0.9v0.9h-0.9zM160.4 220.5h0.9v0.9h-0.9zM139.3 225.4h0.9v0.9h-0.9zM148.4 239.2h0.9v0.9h-0.9zM163.1 228.4h0.9v0.9h-0.9zM147.3 241.8h0.9v0.9h-0.9zM126.9 200.7h0.9v0.9h-0.9zM132.2 176.9h0.9v0.9h-0.9zM146.1 239.0h0.9v0.9h-0.9zM155.1 178.6h0.9v0.9h-0.9zM161.5 233.5h0.9v0.9h-0.9zM153.8 176.1h0.9v0.9h-0.9zM156.3 203.0h0.9v0.9h-0.9zM147.1 171.2h0.9v0.9h-0.9zM151.9 247.3h0.9v0.9h-0.9zM160.6 227.8h0.9v0.9h-0.9zM143.2 172.9h0.9v0.9h-0.9zM128.1 196.0h0.9v0.9h-0.9zM150.4 245.7h0.9v0.9h-0.9zM158.5 205.5h0.9v0.9h-0.9zM157.8 244.6h0.9v0.9h-0.9zM158.8 237.1h0.9v0.9h-0.9zM128.5 207.0h0.9v0.9h-0.9zM130.2 185.2h0.9v0.9h-0.9zM154.0 248.1h0.9v0.9h-0.9zM159.8 212.0h0.9v0.9h-0.9zM134.1 176.6h0.9v0.9h-0.9zM160.5 220.1h0.9v0.9h-0.9zM137.8 217.8h0.9v0.9h-0.9zM128.7 197.8h0.9v0.9h-0.9zM157.8 204.7h0.9v0.9h-0.9zM129.7 209.8h0.9v0.9h-0.9zM161.4 216.7h0.9v0.9h-0.9zM127.1 207.2h0.9v0.9h-0.9zM141.2 172.8h0.9v0.9h-0.9zM155.5 198.9h0.9v0.9h-0.9zM148.5 242.3h0.9v0.9h-0.9zM159.6 219.8h0.9v0.9h-0.9zM152.5 175.2h0.9v0.9h-0.9zM127.9 208.6h0.9v0.9h-0.9zM137.7 219.4h0.9v0.9h-0.9zM141.7 231.5h0.9v0.9h-0.9zM162.1 226.4h0.9v0.9h-0.9zM155.8 176.3h0.9v0.9h-0.9zM138.6 220.5h0.9v0.9h-0.9zM128.7 208.0h0.9v0.9h-0.9zM155.0 178.9h0.9v0.9h-0.9zM155.6 187.7h0.9v0.9h-0.9zM160.2 211.2h0.9v0.9h-0.9zM129.4 207.2h0.9v0.9h-0.9zM155.8 245.0h0.9v0.9h-0.9zM128.6 202.1h0.9v0.9h-0.9zM132.5 213.6h0.9v0.9h-0.9zM135.3 216.7h0.9v0.9h-0.9zM143.9 171.1h0.9v0.9h-0.9z" fill="#888888" opacity="0.95"/>
<path d="M142.0 224.1h0.9v0.9h-0.9zM136.0 207.9h0.9v0.9h-0.9zM135.0 215.1h0.9v0.9h-0.9zM137.8 208.4h0.9v0.9h-0.9zM141.3 219.9h0.9v0.9h-0.9zM137.7 206.5h0.9v0.9h-0.9zM144.3 202.0h0.9v0.9h-0.9zM140.1 214.5h0.9v0.9h-0.9zM140.6 226.1h0.9v0.9h-0.9zM142.6 227.6h0.9v0.9h-0.9zM141.9 211.2h0.9v0.9h-0.9zM138.5 220.5h0.9v0.9h-0.9zM141.6 210.9h0.9v0.9h-0.9zM140.6 225.8h0.9v0.9h-0.9zM134.8 215.0h0.9v0.9h-0.9zM133.0 208.2h0.9v0.9h-0.9zM135.6 200.8h0.9v0.9h-0.9zM135.1 216.3h0.9v0.9h-0.9zM138.9 213.1h0.9v0.9h-0.9zM140.7 214.8h0.9v0.9h-0.9zM141.9 217.8h0.9v0.9h-0.9zM140.0 200.2h0.9v0.9h-0.9zM143.2 212.8h0.9v0.9h-0.9zM136.4 214.2h0.9v0.9h-0.9zM134.9 206.6h0.9v0.9h-0.9zM140.8 217.9h0.9v0.9h-0.9zM132.2 204.9h0.9v0.9h-0.9zM136.2 208.1h0.9v0.9h-0.9zM140.5 225.3h0.9v0.9h-0.9zM130.1 208.9h0.9v0.9h-0.9zM144.3 225.3h0.9v0.9h-0.9zM130.6 204.8h0.9v0.9h-0.9zM144.6 219.9h0.9v0.9h-0.9zM142.1 202.0h0.9v0.9h-0.9zM139.4 200.7h0.9v0.9h-0.9zM141.6 222.7h0.9v0.9h-0.9zM141.5 228.5h0.9v0.9h-0.9zM139.5 210.5h0.9v0.9h-0.9zM135.9 212.7h0.9v0.9h-0.9zM145.9 221.6h0.9v0.9h-0.9zM141.0 223.6h0.9v0.9h-0.9zM145.0 227.2h0.9v0.9h-0.9zM137.8 211.1h0.9v0.9h-0.9zM140.4 219.2h0.9v0.9h-0.9zM137.0 202.7h0.9v0.9h-0.9zM143.3 221.7h0.9v0.9h-0.9zM136.8 216.1h0.9v0.9h-0.9zM142.8 214.1h0.9v0.9h-0.9zM136.8 213.9h0.9v0.9h-0.9zM141.6 221.0h0.9v0.9h-0.9zM145.3 222.2h0.9v0.9h-0.9zM135.1 210.1h0.9v0.9h-0.9zM136.0 217.3h0.9v0.9h-0.9zM144.4 216.4h0.9v0.9h-0.9zM141.3 221.5h0.9v0.9h-0.9zM135.8 203.4h0.9v0.9h-0.9zM143.8 225.1h0.9v0.9h-0.9zM141.3 206.3h0.9v0.9h-0.9zM137.2 214.7h0.9v0.9h-0.9zM134.7 214.0h0.9v0.9h-0.9zM142.2 210.9h0.9v0.9h-0.9zM139.0 216.1h0.9v0.9h-0.9zM141.7 208.6h0.9v0.9h-0.9zM140.5 210.6h0.9v0.9h-0.9zM142.4 214.1h0.9v0.9h-0.9zM144.5 215.0h0.9v0.9h-0.9zM139.9 223.7h0.9v0.9h-0.9zM141.4 223.8h0.9v0.9h-0.9zM134.7 212.0h0.9v0.9h-0.9zM134.8 209.8h0.9v0.9h-0.9zM142.6 216.0h0.9v0.9h-0.9zM139.9 208.6h0.9v0.9h-0.9zM142.1 225.0h0.9v0.9h-0.9zM135.1 214.3h0.9v0.9h-0.9zM132.1 207.2h0.9v0.9h-0.9zM143.7 218.4h0.9v0.9h-0.9zM136.3 218.3h0.9v0.9h-0.9zM134.6 216.4h0.9v0.9h-0.9zM134.0 207.5h0.9v0.9h-0.9zM141.7 210.3h0.9v0.9h-0.9zM141.7 221.4h0.9v0.9h-0.9zM135.0 201.0h0.9v0.9h-0.9zM143.6 215.8h0.9v0.9h-0.9zM138.7 219.6h0.9v0.9h-0.9zM139.4 211.7h0.9v0.9h-0.9zM144.7 225.6h0.9v0.9h-0.9zM139.0 200.3h0.9v0.9h-0.9zM139.5 211.8h0.9v0.9h-0.9zM133.8 207.2h0.9v0.9h-0.9zM128.7 203.1h0.9v0.9h-0.9zM133.4 210.7h0.9v0.9h-0.9zM139.8 210.1h0.9v0.9h-0.9zM140.4 204.3h0.9v0.9h-0.9zM141.4 203.9h0.9v0.9h-0.9zM140.8 204.6h0.9v0.9h-0.9zM135.6 201.6h0.9v0.9h-0.9zM144.2 226.0h0.9v0.9h-0.9zM141.9 218.2h0.9v0.9h-0.9zM138.8 214.6h0.9v0.9h-0.9zM140.1 214.2h0.9v0.9h-0.9zM133.6 211.6h0.9v0.9h-0.9zM140.5 227.5h0.9v0.9h-0.9zM134.4 212.4h0.9v0.9h-0.9zM135.4 206.0h0.9v0.9h-0.9zM142.3 203.3h0.9v0.9h-0.9zM137.0 205.4h0.9v0.9h-0.9zM139.9 219.4h0.9v0.9h-0.9zM132.1 206.6h0.9v0.9h-0.9zM133.6 209.4h0.9v0.9h-0.9zM144.5 225.0h0.9v0.9h-0.9zM142.6 211.3h0.9v0.9h-0.9zM136.5 205.8h0.9v0.9h-0.9zM133.6 213.9h0.9v0.9h-0.9zM141.3 221.3h0.9v0.9h-0.9zM132.9 207.2h0.9v0.9h-0.9zM139.0 201.5h0.9v0.9h-0.9zM145.3 220.6h0.9v0.9h-0.9zM137.1 210.3h0.9v0.9h-0.9zM142.3 203.4h0.9v0.9h-0.9zM137.9 216.8h0.9v0.9h-0.9zM141.0 223.4h0.9v0.9h-0.9zM138.1 216.7h0.9v0.9h-0.9zM136.3 204.6h0.9v0.9h-0.9zM143.8 215.9h0.9v0.9h-0.9zM141.7 221.1h0.9v0.9h-0.9zM132.1 200.9h0.9v0.9h-0.9zM130.6 205.0h0.9v0.9h-0.9zM138.0 213.0h0.9v0.9h-0.9zM136.6 200.4h0.9v0.9h-0.9zM137.8 207.3h0.9v0.9h-0.9zM129.7 201.7h0.9v0.9h-0.9zM142.0 213.8h0.9v0.9h-0.9zM141.3 225.9h0.9v0.9h-0.9zM144.6 224.2h0.9v0.9h-0.9zM136.1 214.6h0.9v0.9h-0.9zM132.7 200.9h0.9v0.9h-0.9zM131.8 204.1h0.9v0.9h-0.9zM140.8 212.4h0.9v0.9h-0.9zM133.0 201.4h0.9v0.9h-0.9zM142.6 217.0h0.9v0.9h-0.9zM140.8 220.8h0.9v0.9h-0.9zM140.1 200.7h0.9v0.9h-0.9zM140.7 221.8h0.9v0.9h-0.9zM131.6 202.8h0.9v0.9h-0.9zM141.6 212.3h0.9v0.9h-0.9zM140.7 218.5h0.9v0.9h-0.9zM142.8 223.2h0.9v0.9h-0.9zM139.6 223.5h0.9v0.9h-0.9zM140.3 202.7h0.9v0.9h-0.9zM133.2 213.9h0.9v0.9h-0.9zM141.4 216.3h0.9v0.9h-0.9zM145.5 225.2h0.9v0.9h-0.9zM141.8 215.6h0.9v0.9h-0.9zM128.9 206.3h0.9v0.9h-0.9zM140.0 203.4h0.9v0.9h-0.9zM139.9 209.9h0.9v0.9h-0.9zM143.5 221.4h0.9v0.9h-0.9zM136.3 215.3h0.9v0.9h-0.9zM139.2 202.3h0.9v0.9h-0.9zM140.7 204.8h0.9v0.9h-0.9zM144.8 228.5h0.9v0.9h-0.9zM142.8 213.5h0.9v0.9h-0.9zM143.2 226.8h0.9v0.9h-0.9zM140.9 202.4h0.9v0.9h-0.9zM134.8 204.8h0.9v0.9h-0.9zM136.4 204.1h0.9v0.9h-0.9zM136.8 202.9h0.9v0.9h-0.9zM141.4 206.1h0.9v0.9h-0.9zM139.7 218.4h0.9v0.9h-0.9zM138.2 217.6h0.9v0.9h-0.9z" fill="#ffffff" opacity="0.9"/>
<path d="M156.0 221.3h0.9v0.9h-0.9zM135.8 209.9h0.9v0.9h-0.9zM143.8 217.1h0.9v0.9h-0.9zM143.0 208.2h0.9v0.9h-0.9zM153.4 204.4h0.9v0.9h-0.9zM138.3 199.6h0.9v0.9h-0.9zM138.4 217.4h0.9v0.9h-0.9zM153.1 216.8h0.9v0.9h-0.9zM146.8 198.3h0.9v0.9h-0.9zM146.4 220.4h0.9v0.9h-0.9zM131.6 210.0h0.9v0.9h-0.9zM140.1 226.1h0.9v0.9h-0.9zM154.1 224.3h0.9v0.9h-0.9zM133.7 215.0h0.9v0.9h-0.9zM139.4 221.2h0.9v0.9h-0.9zM151.0 215.0h0.9v0.9h-0.9zM145.5 230.2h0.9v0.9h-0.9zM138.3 226.8h0.9v0.9h-0.9zM151.8 213.2h0.9v0.9h-0.9zM151.4 219.1h0.9v0.9h-0.9zM152.9 234.5h0.9v0.9h-0.9zM155.0 207.2h0.9v0.9h-0.9zM158.3 209.1h0.9v0.9h-0.9zM160.1 219.8h0.9v0.9h-0.9zM160.6 231.9h0.9v0.9h-0.9zM154.1 211.4h0.9v0.9h-0.9zM143.1 220.0h0.9v0.9h-0.9zM154.9 213.2h0.9v0.9h-0.9zM145.3 202.4h0.9v0.9h-0.9zM133.4 208.2h0.9v0.9h-0.9zM148.6 212.4h0.9v0.9h-0.9zM154.7 218.4h0.9v0.9h-0.9zM150.8 200.0h0.9v0.9h-0.9zM140.4 223.5h0.9v0.9h-0.9zM157.2 229.7h0.9v0.9h-0.9zM153.5 207.7h0.9v0.9h-0.9zM138.7 217.5h0.9v0.9h-0.9zM157.8 223.4h0.9v0.9h-0.9zM147.7 212.8h0.9v0.9h-0.9zM140.5 212.8h0.9v0.9h-0.9zM151.9 214.3h0.9v0.9h-0.9zM151.8 231.6h0.9v0.9h-0.9zM155.2 212.7h0.9v0.9h-0.9zM142.1 220.5h0.9v0.9h-0.9zM153.1 206.8h0.9v0.9h-0.9zM141.3 213.2h0.9v0.9h-0.9zM151.6 207.9h0.9v0.9h-0.9zM139.6 216.7h0.9v0.9h-0.9zM135.6 213.7h0.9v0.9h-0.9zM153.0 216.7h0.9v0.9h-0.9zM146.9 205.8h0.9v0.9h-0.9zM140.7 218.9h0.9v0.9h-0.9zM139.9 203.9h0.9v0.9h-0.9zM146.4 218.4h0.9v0.9h-0.9zM141.5 221.6h0.9v0.9h-0.9zM157.6 209.3h0.9v0.9h-0.9zM129.6 204.5h0.9v0.9h-0.9zM157.4 220.5h0.9v0.9h-0.9zM153.2 212.1h0.9v0.9h-0.9zM138.6 224.2h0.9v0.9h-0.9zM146.9 233.1h0.9v0.9h-0.9zM133.0 210.3h0.9v0.9h-0.9zM151.1 232.8h0.9v0.9h-0.9zM143.4 228.1h0.9v0.9h-0.9zM138.7 224.3h0.9v0.9h-0.9zM137.7 204.0h0.9v0.9h-0.9zM151.8 233.1h0.9v0.9h-0.9zM155.0 206.8h0.9v0.9h-0.9zM152.0 216.1h0.9v0.9h-0.9zM143.2 231.8h0.9v0.9h-0.9zM155.0 217.9h0.9v0.9h-0.9zM141.2 217.9h0.9v0.9h-0.9zM136.8 211.8h0.9v0.9h-0.9zM143.4 208.1h0.9v0.9h-0.9zM148.8 199.8h0.9v0.9h-0.9zM135.1 207.8h0.9v0.9h-0.9zM139.9 216.2h0.9v0.9h-0.9zM147.1 221.5h0.9v0.9h-0.9zM136.3 210.8h0.9v0.9h-0.9zM142.7 232.0h0.9v0.9h-0.9zM154.0 215.7h0.9v0.9h-0.9zM155.3 213.9h0.9v0.9h-0.9zM140.8 222.1h0.9v0.9h-0.9zM150.9 201.1h0.9v0.9h-0.9zM141.7 230.8h0.9v0.9h-0.9zM136.5 217.8h0.9v0.9h-0.9zM139.3 218.7h0.9v0.9h-0.9zM140.8 210.3h0.9v0.9h-0.9zM159.0 224.3h0.9v0.9h-0.9zM143.4 211.2h0.9v0.9h-0.9zM157.0 211.2h0.9v0.9h-0.9zM150.7 203.6h0.9v0.9h-0.9zM146.0 207.3h0.9v0.9h-0.9zM158.6 211.2h0.9v0.9h-0.9zM159.9 219.2h0.9v0.9h-0.9zM139.1 218.6h0.9v0.9h-0.9zM159.2 224.3h0.9v0.9h-0.9zM155.6 219.2h0.9v0.9h-0.9zM148.6 202.1h0.9v0.9h-0.9zM155.8 222.2h0.9v0.9h-0.9zM149.6 208.7h0.9v0.9h-0.9zM153.5 217.6h0.9v0.9h-0.9zM153.8 223.7h0.9v0.9h-0.9zM156.1 224.4h0.9v0.9h-0.9zM158.3 223.4h0.9v0.9h-0.9zM142.3 216.6h0.9v0.9h-0.9zM155.8 220.3h0.9v0.9h-0.9zM143.4 228.7h0.9v0.9h-0.9zM139.6 220.8h0.9v0.9h-0.9zM158.1 213.0h0.9v0.9h-0.9zM156.0 215.3h0.9v0.9h-0.9zM138.5 215.5h0.9v0.9h-0.9zM147.0 205.4h0.9v0.9h-0.9zM149.5 222.1h0.9v0.9h-0.9zM137.6 200.7h0.9v0.9h-0.9zM137.4 205.1h0.9v0.9h-0.9zM155.2 228.4h0.9v0.9h-0.9zM156.5 221.8h0.9v0.9h-0.9zM148.1 213.6h0.9v0.9h-0.9zM155.5 217.9h0.9v0.9h-0.9zM139.5 216.4h0.9v0.9h-0.9zM143.6 204.0h0.9v0.9h-0.9zM150.4 229.9h0.9v0.9h-0.9zM141.3 227.2h0.9v0.9h-0.9zM150.8 217.9h0.9v0.9h-0.9zM151.5 203.2h0.9v0.9h-0.9zM148.0 217.5h0.9v0.9h-0.9zM152.1 201.0h0.9v0.9h-0.9zM160.7 226.5h0.9v0.9h-0.9zM152.0 211.7h0.9v0.9h-0.9zM151.4 224.5h0.9v0.9h-0.9zM142.4 215.2h0.9v0.9h-0.9zM151.9 202.6h0.9v0.9h-0.9zM158.0 209.8h0.9v0.9h-0.9zM135.7 214.1h0.9v0.9h-0.9zM152.6 224.0h0.9v0.9h-0.9zM147.4 199.8h0.9v0.9h-0.9zM151.9 218.4h0.9v0.9h-0.9zM159.3 229.3h0.9v0.9h-0.9zM149.8 229.6h0.9v0.9h-0.9zM144.8 208.2h0.9v0.9h-0.9zM150.2 221.8h0.9v0.9h-0.9zM145.0 214.8h0.9v0.9h-0.9zM158.8 211.6h0.9v0.9h-0.9zM153.4 232.4h0.9v0.9h-0.9zM144.2 212.0h0.9v0.9h-0.9zM154.3 206.6h0.9v0.9h-0.9zM136.9 212.9h0.9v0.9h-0.9zM143.5 206.4h0.9v0.9h-0.9zM155.5 234.2h0.9v0.9h-0.9zM152.7 218.4h0.9v0.9h-0.9zM150.8 207.0h0.9v0.9h-0.9zM140.9 226.6h0.9v0.9h-0.9zM138.3 204.0h0.9v0.9h-0.9zM145.9 232.4h0.9v0.9h-0.9zM149.5 201.0h0.9v0.9h-0.9zM142.2 205.7h0.9v0.9h-0.9zM155.2 213.3h0.9v0.9h-0.9zM142.6 231.7h0.9v0.9h-0.9zM137.6 214.5h0.9v0.9h-0.9zM145.9 222.5h0.9v0.9h-0.9zM138.9 221.7h0.9v0.9h-0.9zM141.9 229.8h0.9v0.9h-0.9zM146.5 225.6h0.9v0.9h-0.9zM147.0 224.4h0.9v0.9h-0.9zM140.8 202.5h0.9v0.9h-0.9zM139.9 209.6h0.9v0.9h-0.9zM145.4 215.8h0.9v0.9h-0.9zM151.5 199.2h0.9v0.9h-0.9zM156.8 212.9h0.9v0.9h-0.9zM139.2 213.9h0.9v0.9h-0.9zM153.7 215.0h0.9v0.9h-0.9zM153.0 217.1h0.9v0.9h-0.9zM152.8 216.3h0.9v0.9h-0.9zM147.3 213.4h0.9v0.9h-0.9zM146.9 218.9h0.9v0.9h-0.9zM153.9 206.7h0.9v0.9h-0.9zM151.8 207.8h0.9v0.9h-0.9zM147.8 227.6h0.9v0.9h-0.9zM145.4 206.3h0.9v0.9h-0.9zM138.0 218.7h0.9v0.9h-0.9zM152.7 203.7h0.9v0.9h-0.9zM129.9 205.8h0.9v0.9h-0.9zM149.1 212.7h0.9v0.9h-0.9zM153.5 225.6h0.9v0.9h-0.9zM140.1 220.1h0.9v0.9h-0.9zM149.6 206.0h0.9v0.9h-0.9zM150.2 202.1h0.9v0.9h-0.9zM158.9 223.3h0.9v0.9h-0.9zM148.4 211.7h0.9v0.9h-0.9zM151.1 227.0h0.9v0.9h-0.9zM150.7 205.3h0.9v0.9h-0.9zM134.0 206.3h0.9v0.9h-0.9zM144.2 202.3h0.9v0.9h-0.9zM141.4 225.0h0.9v0.9h-0.9zM136.3 215.7h0.9v0.9h-0.9zM156.9 211.2h0.9v0.9h-0.9zM140.1 218.2h0.9v0.9h-0.9zM132.3 213.0h0.9v0.9h-0.9zM157.3 229.5h0.9v0.9h-0.9zM155.4 233.1h0.9v0.9h-0.9zM146.1 211.3h0.9v0.9h-0.9zM151.8 205.3h0.9v0.9h-0.9zM148.2 213.2h0.9v0.9h-0.9zM153.4 214.0h0.9v0.9h-0.9zM143.0 204.8h0.9v0.9h-0.9zM140.2 219.1h0.9v0.9h-0.9zM140.1 207.2h0.9v0.9h-0.9zM142.3 202.7h0.9v0.9h-0.9zM135.3 202.8h0.9v0.9h-0.9zM146.6 227.7h0.9v0.9h-0.9zM151.4 229.8h0.9v0.9h-0.9zM141.9 214.0h0.9v0.9h-0.9zM130.7 207.0h0.9v0.9h-0.9zM157.2 208.0h0.9v0.9h-0.9zM158.2 229.9h0.9v0.9h-0.9zM141.9 229.9h0.9v0.9h-0.9zM138.1 206.3h0.9v0.9h-0.9zM146.3 205.0h0.9v0.9h-0.9zM157.2 213.4h0.9v0.9h-0.9zM137.6 200.8h0.9v0.9h-0.9zM151.7 218.9h0.9v0.9h-0.9zM136.8 206.4h0.9v0.9h-0.9zM152.2 233.2h0.9v0.9h-0.9zM139.5 220.0h0.9v0.9h-0.9zM135.1 215.2h0.9v0.9h-0.9zM147.3 208.8h0.9v0.9h-0.9zM148.1 218.2h0.9v0.9h-0.9zM129.0 201.3h0.9v0.9h-0.9zM141.6 202.5h0.9v0.9h-0.9zM146.1 220.3h0.9v0.9h-0.9zM148.8 232.0h0.9v0.9h-0.9zM148.2 227.4h0.9v0.9h-0.9zM159.2 220.2h0.9v0.9h-0.9zM155.7 218.6h0.9v0.9h-0.9zM142.3 203.0h0.9v0.9h-0.9zM143.9 225.1h0.9v0.9h-0.9zM154.6 232.3h0.9v0.9h-0.9zM145.2 234.3h0.9v0.9h-0.9zM142.0 218.2h0.9v0.9h-0.9zM153.8 205.9h0.9v0.9h-0.9zM146.8 202.0h0.9v0.9h-0.9zM145.3 227.4h0.9v0.9h-0.9zM129.5 202.5h0.9v0.9h-0.9zM147.8 223.6h0.9v0.9h-0.9zM148.0 233.5h0.9v0.9h-0.9zM145.8 210.6h0.9v0.9h-0.9z" fill="#ffffff" opacity="0.9"/>
<polygon points="147.0,197.0 149.5,195.5 151.5,198.0 151.0,202.0 150.4,209.3 152.6,216.4 154.0,223.6 153.2,229.0 149.5,230.5 146.9,223.6 145.4,216.4 143.3,209.3 145.0,202.0" fill="#ffffff" />
<path d="M147.1 208.9h0.9v0.9h-0.9zM150.3 214.9h0.9v0.9h-0.9zM145.6 205.6h0.9v0.9h-0.9zM146.5 214.3h0.9v0.9h-0.9zM145.2 210.0h0.9v0.9h-0.9zM149.3 229.1h0.9v0.9h-0.9zM150.6 227.0h0.9v0.9h-0.9zM151.1 227.2h0.9v0.9h-0.9zM145.1 208.8h0.9v0.9h-0.9zM151.1 215.1h0.9v0.9h-0.9zM147.6 200.9h0.9v0.9h-0.9zM151.4 215.0h0.9v0.9h-0.9zM147.6 207.9h0.9v0.9h-0.9zM152.6 223.7h0.9v0.9h-0.9zM150.1 205.1h0.9v0.9h-0.9zM145.7 201.8h0.9v0.9h-0.9zM149.0 206.1h0.9v0.9h-0.9zM149.5 213.9h0.9v0.9h-0.9zM153.3 223.5h0.9v0.9h-0.9zM146.8 214.1h0.9v0.9h-0.9zM147.3 222.6h0.9v0.9h-0.9zM144.6 203.0h0.9v0.9h-0.9zM147.7 214.1h0.9v0.9h-0.9zM148.4 216.0h0.9v0.9h-0.9zM149.3 228.4h0.9v0.9h-0.9zM146.5 217.8h0.9v0.9h-0.9z" fill="#888888" opacity="1.0"/>
<path d="M156.4 252.0h1.1v1.1h-1.1zM155.9 250.4h1.1v1.1h-1.1zM156.8 249.4h1.1v1.1h-1.1zM164.3 250.8h1.1v1.1h-1.1zM164.4 249.4h1.1v1.1h-1.1zM163.9 251.4h1.1v1.1h-1.1zM161.4 240.4h1.1v1.1h-1.1zM162.4 243.4h1.1v1.1h-1.1zM159.4 245.4h1.1v1.1h-1.1zM165.4 247.4h1.1v1.1h-1.1zM157.4 248.9h1.1v1.1h-1.1zM160.9 237.4h1.1v1.1h-1.1z" fill="#888888" opacity="1.0"/>
<line x1="167.2" y1="241.4" x2="171.5" y2="241.4" stroke="#888888" stroke-width="0.7" />
<path d="M166.8 240.7h1.4v1.4h-1.4z" fill="#888888" opacity="1.0"/>
<polygon points="201.9,218.9 205.0,219.5 207.5,222.0 208.5,225.0 209.7,230.0 209.0,235.0 206.0,238.5 203.0,239.2 199.0,238.0 196.0,235.0 195.4,230.0 197.0,226.0 199.0,221.0" fill="#8c8892" />
<path d="M205.4 232.3h0.9v0.9h-0.9zM204.6 226.3h0.9v0.9h-0.9zM205.2 225.6h0.9v0.9h-0.9zM202.9 221.9h0.9v0.9h-0.9zM199.0 224.5h0.9v0.9h-0.9zM200.3 226.9h0.9v0.9h-0.9zM208.9 229.1h0.9v0.9h-0.9zM202.8 226.6h0.9v0.9h-0.9zM202.8 235.0h0.9v0.9h-0.9zM202.4 228.9h0.9v0.9h-0.9zM200.0 222.2h0.9v0.9h-0.9zM200.9 230.1h0.9v0.9h-0.9zM196.6 233.8h0.9v0.9h-0.9zM201.4 231.1h0.9v0.9h-0.9zM201.1 234.6h0.9v0.9h-0.9zM204.7 220.9h0.9v0.9h-0.9zM202.8 223.8h0.9v0.9h-0.9zM205.6 226.0h0.9v0.9h-0.9zM198.5 237.3h0.9v0.9h-0.9zM201.1 232.3h0.9v0.9h-0.9zM199.5 220.2h0.9v0.9h-0.9zM198.8 231.0h0.9v0.9h-0.9zM198.8 236.5h0.9v0.9h-0.9zM203.3 226.6h0.9v0.9h-0.9zM198.1 231.0h0.9v0.9h-0.9zM195.8 228.7h0.9v0.9h-0.9zM199.1 226.8h0.9v0.9h-0.9zM203.7 233.4h0.9v0.9h-0.9zM204.7 227.3h0.9v0.9h-0.9zM199.8 231.2h0.9v0.9h-0.9zM201.5 237.3h0.9v0.9h-0.9zM202.5 230.3h0.9v0.9h-0.9zM204.5 228.2h0.9v0.9h-0.9zM202.0 231.9h0.9v0.9h-0.9zM199.3 228.5h0.9v0.9h-0.9zM202.9 224.6h0.9v0.9h-0.9zM197.5 226.9h0.9v0.9h-0.9zM201.0 227.2h0.9v0.9h-0.9zM198.6 228.2h0.9v0.9h-0.9zM203.2 220.5h0.9v0.9h-0.9zM204.4 232.9h0.9v0.9h-0.9zM197.7 223.5h0.9v0.9h-0.9zM204.6 226.8h0.9v0.9h-0.9zM203.4 230.7h0.9v0.9h-0.9zM202.2 237.2h0.9v0.9h-0.9zM205.0 227.5h0.9v0.9h-0.9zM198.7 221.1h0.9v0.9h-0.9zM204.2 234.0h0.9v0.9h-0.9zM200.6 220.2h0.9v0.9h-0.9zM198.9 232.8h0.9v0.9h-0.9zM206.0 226.6h0.9v0.9h-0.9zM207.6 226.4h0.9v0.9h-0.9z" fill="#c8c0c8" opacity="0.8"/>
<path d="M207.7 232.8h0.9v0.9h-0.9zM200.6 228.2h0.9v0.9h-0.9zM202.5 223.8h0.9v0.9h-0.9zM195.4 230.0h0.9v0.9h-0.9zM208.3 233.0h0.9v0.9h-0.9zM204.5 219.6h0.9v0.9h-0.9zM199.4 230.3h0.9v0.9h-0.9zM200.9 222.9h0.9v0.9h-0.9zM204.5 224.5h0.9v0.9h-0.9zM201.7 236.2h0.9v0.9h-0.9zM197.0 231.2h0.9v0.9h-0.9zM198.3 236.8h0.9v0.9h-0.9zM200.4 228.8h0.9v0.9h-0.9zM199.5 225.6h0.9v0.9h-0.9zM201.9 231.9h0.9v0.9h-0.9zM207.9 227.2h0.9v0.9h-0.9zM208.1 234.6h0.9v0.9h-0.9zM199.0 225.7h0.9v0.9h-0.9zM204.8 221.8h0.9v0.9h-0.9zM198.6 222.4h0.9v0.9h-0.9zM202.2 233.6h0.9v0.9h-0.9zM204.8 227.4h0.9v0.9h-0.9zM202.4 221.0h0.9v0.9h-0.9zM198.4 225.4h0.9v0.9h-0.9zM200.1 231.8h0.9v0.9h-0.9zM198.4 223.3h0.9v0.9h-0.9zM207.5 234.3h0.9v0.9h-0.9zM208.3 234.3h0.9v0.9h-0.9zM197.7 228.4h0.9v0.9h-0.9zM206.9 234.8h0.9v0.9h-0.9zM198.2 228.2h0.9v0.9h-0.9z" fill="#b89858" opacity="0.8"/>
<path d="M198.9 237.5h0.9v0.9h-0.9zM194.7 229.8h0.9v0.9h-0.9zM198.8 237.7h0.9v0.9h-0.9zM205.5 219.1h0.9v0.9h-0.9zM206.3 236.2h0.9v0.9h-0.9zM195.9 231.6h0.9v0.9h-0.9zM204.2 218.6h0.9v0.9h-0.9zM195.4 228.2h0.9v0.9h-0.9zM199.4 238.0h0.9v0.9h-0.9zM208.4 233.3h0.9v0.9h-0.9zM195.7 226.5h0.9v0.9h-0.9zM195.5 231.4h0.9v0.9h-0.9zM197.9 236.0h0.9v0.9h-0.9zM200.6 218.3h0.9v0.9h-0.9zM197.9 237.2h0.9v0.9h-0.9zM209.4 230.2h0.9v0.9h-0.9zM199.6 218.9h0.9v0.9h-0.9zM207.4 234.8h0.9v0.9h-0.9zM198.9 219.7h0.9v0.9h-0.9zM210.2 230.0h0.9v0.9h-0.9zM206.3 237.1h0.9v0.9h-0.9zM203.7 238.3h0.9v0.9h-0.9zM195.1 229.4h0.9v0.9h-0.9zM198.2 238.1h0.9v0.9h-0.9zM199.3 237.4h0.9v0.9h-0.9zM209.4 233.4h0.9v0.9h-0.9zM208.5 232.8h0.9v0.9h-0.9zM208.6 224.5h0.9v0.9h-0.9zM196.0 227.9h0.9v0.9h-0.9zM209.0 226.8h0.9v0.9h-0.9z" fill="#8c8892" opacity="0.95"/>
<polygon points="203.0,228.0 208.0,226.0 209.5,232.0 206.0,238.5 201.0,238.0" fill="#b09458" />
<path d="M203.9 230.4h0.9v0.9h-0.9zM206.4 229.5h0.9v0.9h-0.9zM204.4 237.9h0.9v0.9h-0.9zM203.8 230.6h0.9v0.9h-0.9zM204.4 230.5h0.9v0.9h-0.9zM204.6 233.6h0.9v0.9h-0.9zM202.0 233.1h0.9v0.9h-0.9zM203.5 233.9h0.9v0.9h-0.9zM207.2 230.6h0.9v0.9h-0.9zM202.4 233.3h0.9v0.9h-0.9zM207.4 227.3h0.9v0.9h-0.9zM203.7 232.3h0.9v0.9h-0.9zM206.3 229.7h0.9v0.9h-0.9zM203.7 234.6h0.9v0.9h-0.9z" fill="#d8c090" opacity="0.8"/>
<path d="M206.1 236.2h0.9v0.9h-0.9zM205.8 226.2h0.9v0.9h-0.9zM206.9 225.8h0.9v0.9h-0.9zM205.3 237.2h0.9v0.9h-0.9zM208.0 234.0h0.9v0.9h-0.9zM202.1 227.1h0.9v0.9h-0.9zM208.0 233.1h0.9v0.9h-0.9zM208.5 227.4h0.9v0.9h-0.9z" fill="#b09458" opacity="0.95"/>
<ellipse cx="202" cy="230.3" rx="10.9" ry="14.6" fill="none" stroke="#1e1e1e" stroke-width="1.05" stroke-dasharray="2.6,2.1" transform="rotate(0 202 230.3)"/>
<text x="270.5" y="9.8" font-size="11" font-weight="bold" text-anchor="start" fill="#111" >E</text>
<line x1="274.6" y1="16.5" x2="274.6" y2="114.6" stroke="#222" stroke-width="1.3" />
<line x1="271.3" y1="25.25" x2="274.6" y2="25.25" stroke="#222" stroke-width="1.1" />
<text x="268.4" y="27.75" font-size="7.7" font-weight="normal" text-anchor="end" fill="#231f20" stroke="#231f20" stroke-width="0.18" >60</text>
<line x1="271.3" y1="53.8" x2="274.6" y2="53.8" stroke="#222" stroke-width="1.1" />
<text x="268.4" y="56.3" font-size="7.7" font-weight="normal" text-anchor="end" fill="#231f20" stroke="#231f20" stroke-width="0.18" >40</text>
<line x1="271.3" y1="82.3" x2="274.6" y2="82.3" stroke="#222" stroke-width="1.1" />
<text x="268.4" y="84.8" font-size="7.7" font-weight="normal" text-anchor="end" fill="#231f20" stroke="#231f20" stroke-width="0.18" >20</text>
<line x1="271.3" y1="110.8" x2="274.6" y2="110.8" stroke="#222" stroke-width="1.1" />
<text x="268.4" y="113.3" font-size="7.7" font-weight="normal" text-anchor="end" fill="#231f20" stroke="#231f20" stroke-width="0.18" >0</text>
<line x1="274.6" y1="114" x2="363.7" y2="114" stroke="#222" stroke-width="1.3" />
<line x1="298" y1="114" x2="298" y2="117.3" stroke="#222" stroke-width="1.1" />
<line x1="339.5" y1="114" x2="339.5" y2="117.3" stroke="#222" stroke-width="1.1" />
<text x="299.1" y="125.9" font-size="7.3" font-weight="normal" text-anchor="middle" fill="#231f20" stroke="#231f20" stroke-width="0.18" >All other</text>
<text x="299.1" y="133.8" font-size="7.3" font-weight="normal" text-anchor="middle" fill="#231f20" stroke="#231f20" stroke-width="0.18" >clonotypes</text>
<text x="339.7" y="125.9" font-size="7.3" font-weight="normal" text-anchor="middle" fill="#231f20" stroke="#231f20" stroke-width="0.18" >Dominant</text>
<text x="339.7" y="133.8" font-size="7.3" font-weight="normal" text-anchor="middle" fill="#231f20" stroke="#231f20" stroke-width="0.18" >clonotype</text>
<text x="319.1" y="13.8" font-size="7.4" font-weight="normal" text-anchor="middle" fill="#231f20" stroke="#231f20" stroke-width="0.18" textLength="39.3" lengthAdjust="spacingAndGlyphs">P=0.00068</text>
<line x1="302" y1="18.2" x2="335.8" y2="18.2" stroke="#333" stroke-width="1.2" />
<rect x="289.5" y="95.8" width="18.3" height="11.8" fill="#858585"/>
<line x1="289.5" y1="102.1" x2="307.8" y2="102.1" stroke="#222" stroke-width="1.4" />
<line x1="298.4" y1="87.2" x2="298.4" y2="95.8" stroke="#333" stroke-width="0.9" />
<line x1="296.5" y1="87.2" x2="300" y2="87.2" stroke="#333" stroke-width="0.9" />
<path d="M296.05 75.90a1.25 1.25 0 1 0 2.5 0a1.25 1.25 0 1 0 -2.5 0z" fill="#111" opacity="1.0"/>
<path d="M301.65 86.90a1.15 1.15 0 1 0 2.3 0a1.15 1.15 0 1 0 -2.3 0zM297.75 95.00a1.15 1.15 0 1 0 2.3 0a1.15 1.15 0 1 0 -2.3 0zM293.05 97.90a1.15 1.15 0 1 0 2.3 0a1.15 1.15 0 1 0 -2.3 0zM299.25 100.50a1.15 1.15 0 1 0 2.3 0a1.15 1.15 0 1 0 -2.3 0zM297.75 102.90a1.15 1.15 0 1 0 2.3 0a1.15 1.15 0 1 0 -2.3 0zM299.25 104.40a1.15 1.15 0 1 0 2.3 0a1.15 1.15 0 1 0 -2.3 0zM301.65 109.10a1.15 1.15 0 1 0 2.3 0a1.15 1.15 0 1 0 -2.3 0zM303.95 108.30a1.15 1.15 0 1 0 2.3 0a1.15 1.15 0 1 0 -2.3 0zM300.05 109.90a1.15 1.15 0 1 0 2.3 0a1.15 1.15 0 1 0 -2.3 0zM295.85 106.50a1.15 1.15 0 1 0 2.3 0a1.15 1.15 0 1 0 -2.3 0zM303.35 106.00a1.15 1.15 0 1 0 2.3 0a1.15 1.15 0 1 0 -2.3 0z" fill="#111" opacity="1.0"/>
<rect x="329.9" y="61.5" width="18" height="32.1" fill="#fcc882"/>
<line x1="329.9" y1="77.6" x2="347.9" y2="77.6" stroke="#4a2a08" stroke-width="1.5" />
<line x1="340.1" y1="22.5" x2="340.1" y2="61.5" stroke="#333" stroke-width="0.9" />
<line x1="336.3" y1="22.5" x2="342.6" y2="22.5" stroke="#333" stroke-width="0.9" />
<line x1="340.1" y1="93.6" x2="340.1" y2="97.5" stroke="#333" stroke-width="0.9" />
<line x1="337.5" y1="97.5" x2="342.8" y2="97.5" stroke="#333" stroke-width="0.9" />
<path d="M333.20 22.50a1.3 1.3 0 1 0 2.6 0a1.3 1.3 0 1 0 -2.6 0zM332.40 46.00a1.3 1.3 0 1 0 2.6 0a1.3 1.3 0 1 0 -2.6 0zM334.10 59.10a1.3 1.3 0 1 0 2.6 0a1.3 1.3 0 1 0 -2.6 0zM338.00 63.00a1.3 1.3 0 1 0 2.6 0a1.3 1.3 0 1 0 -2.6 0zM338.00 71.60a1.3 1.3 0 1 0 2.6 0a1.3 1.3 0 1 0 -2.6 0zM345.00 71.60a1.3 1.3 0 1 0 2.6 0a1.3 1.3 0 1 0 -2.6 0zM344.30 87.30a1.3 1.3 0 1 0 2.6 0a1.3 1.3 0 1 0 -2.6 0zM341.10 97.00a1.3 1.3 0 1 0 2.6 0a1.3 1.3 0 1 0 -2.6 0z" fill="#f7931e" opacity="1.0"/>
<text x="0" y="0" font-size="8.2" font-weight="normal" text-anchor="middle" fill="#231f20" stroke="#231f20" stroke-width="0.18" transform="translate(240.8,65.1) rotate(-90)" textLength="92.8" lengthAdjust="spacingAndGlyphs">TCR clonotype frequency (%) in</text>
<text x="0" y="0" font-size="8.2" font-weight="normal" text-anchor="middle" fill="#231f20" stroke="#231f20" stroke-width="0.18" transform="translate(252,65.4) rotate(-90)" textLength="103" lengthAdjust="spacingAndGlyphs">Non-CTCL CD4+ T cell population 2</text>
<text x="270.3" y="154.2" font-size="11" font-weight="bold" text-anchor="start" fill="#111" >F</text>
<line x1="274.6" y1="162" x2="274.6" y2="259.6" stroke="#222" stroke-width="1.3" />
<line x1="271.3" y1="170.4" x2="274.6" y2="170.4" stroke="#222" stroke-width="1.1" />
<text x="268.4" y="172.9" font-size="7.7" font-weight="normal" text-anchor="end" fill="#231f20" stroke="#231f20" stroke-width="0.18" >2.0</text>
<line x1="271.3" y1="191.7" x2="274.6" y2="191.7" stroke="#222" stroke-width="1.1" />
<text x="268.4" y="194.2" font-size="7.7" font-weight="normal" text-anchor="end" fill="#231f20" stroke="#231f20" stroke-width="0.18" >1.5</text>
<line x1="271.3" y1="213" x2="274.6" y2="213" stroke="#222" stroke-width="1.1" />
<text x="268.4" y="215.5" font-size="7.7" font-weight="normal" text-anchor="end" fill="#231f20" stroke="#231f20" stroke-width="0.18" >1.0</text>
<line x1="271.3" y1="234.3" x2="274.6" y2="234.3" stroke="#222" stroke-width="1.1" />
<text x="268.4" y="236.8" font-size="7.7" font-weight="normal" text-anchor="end" fill="#231f20" stroke="#231f20" stroke-width="0.18" >0.5</text>
<line x1="271.3" y1="255.6" x2="274.6" y2="255.6" stroke="#222" stroke-width="1.1" />
<text x="268.4" y="258.1" font-size="7.7" font-weight="normal" text-anchor="end" fill="#231f20" stroke="#231f20" stroke-width="0.18" >0</text>
<line x1="274.6" y1="259.3" x2="363.7" y2="259.3" stroke="#222" stroke-width="1.3" />
<line x1="298.8" y1="259.3" x2="298.8" y2="262.3" stroke="#222" stroke-width="1.1" />
<line x1="339.2" y1="259.3" x2="339.2" y2="262.3" stroke="#222" stroke-width="1.1" />
<text x="299.1" y="271" font-size="7.3" font-weight="normal" text-anchor="middle" fill="#231f20" stroke="#231f20" stroke-width="0.18" >All other</text>
<text x="299.1" y="278.9" font-size="7.3" font-weight="normal" text-anchor="middle" fill="#231f20" stroke="#231f20" stroke-width="0.18" >clonotypes</text>
<text x="339.7" y="271" font-size="7.3" font-weight="normal" text-anchor="middle" fill="#231f20" stroke="#231f20" stroke-width="0.18" >Dominant</text>
<text x="339.7" y="278.9" font-size="7.3" font-weight="normal" text-anchor="middle" fill="#231f20" stroke="#231f20" stroke-width="0.18" >clonotype</text>
<text x="318.9" y="161.2" font-size="7.4" font-weight="normal" text-anchor="middle" fill="#231f20" stroke="#231f20" stroke-width="0.18" textLength="33.8" lengthAdjust="spacingAndGlyphs">P=0.0044</text>
<line x1="302" y1="165.8" x2="335.8" y2="165.8" stroke="#333" stroke-width="1.2" />
<rect x="330" y="221.5" width="18.3" height="14.5" fill="#fcc882"/>
<line x1="330" y1="229.2" x2="348.3" y2="229.2" stroke="#3a2208" stroke-width="1.5" />
<line x1="339.2" y1="236" x2="339.2" y2="250.1" stroke="#333" stroke-width="1.0" />
<line x1="336.2" y1="250.1" x2="342.5" y2="250.1" stroke="#333" stroke-width="1.0" />
<line x1="339.2" y1="220.6" x2="339.2" y2="221.5" stroke="#333" stroke-width="0.9" />
<line x1="336.5" y1="220.6" x2="342" y2="220.6" stroke="#333" stroke-width="1.0" />
<path d="M336.65 170.00a1.35 1.35 0 1 0 2.7 0a1.35 1.35 0 1 0 -2.7 0zM336.65 185.70a1.35 1.35 0 1 0 2.7 0a1.35 1.35 0 1 0 -2.7 0z" fill="#f7931e" opacity="1.0"/>
<path d="M340.70 225.00a1.3 1.3 0 1 0 2.6 0a1.3 1.3 0 1 0 -2.6 0zM346.20 223.40a1.3 1.3 0 1 0 2.6 0a1.3 1.3 0 1 0 -2.6 0zM344.70 232.80a1.3 1.3 0 1 0 2.6 0a1.3 1.3 0 1 0 -2.6 0zM332.90 236.00a1.3 1.3 0 1 0 2.6 0a1.3 1.3 0 1 0 -2.6 0zM332.10 246.20a1.3 1.3 0 1 0 2.6 0a1.3 1.3 0 1 0 -2.6 0zM346.20 250.40a1.3 1.3 0 1 0 2.6 0a1.3 1.3 0 1 0 -2.6 0z" fill="#f7931e" opacity="1.0"/>
<rect x="290.7" y="249.2" width="11.5" height="2.4" fill="#888"/>
<line x1="290.7" y1="250.5" x2="302.2" y2="250.5" stroke="#222" stroke-width="1.2" />
<line x1="299.2" y1="247.4" x2="299.2" y2="249.2" stroke="#333" stroke-width="0.8" />
<line x1="296.5" y1="247.6" x2="302" y2="247.6" stroke="#333" stroke-width="0.9" />
<path d="M290.70 236.50a1.2 1.2 0 1 0 2.4 0a1.2 1.2 0 1 0 -2.4 0z" fill="#111" opacity="1.0"/>
<path d="M304.05 251.00a1.15 1.15 0 1 0 2.3 0a1.15 1.15 0 1 0 -2.3 0zM305.85 252.80a1.15 1.15 0 1 0 2.3 0a1.15 1.15 0 1 0 -2.3 0zM302.25 252.80a1.15 1.15 0 1 0 2.3 0a1.15 1.15 0 1 0 -2.3 0zM291.35 251.00a1.15 1.15 0 1 0 2.3 0a1.15 1.15 0 1 0 -2.3 0zM299.25 248.00a1.15 1.15 0 1 0 2.3 0a1.15 1.15 0 1 0 -2.3 0zM304.35 253.50a1.15 1.15 0 1 0 2.3 0a1.15 1.15 0 1 0 -2.3 0zM294.85 252.30a1.15 1.15 0 1 0 2.3 0a1.15 1.15 0 1 0 -2.3 0z" fill="#111" opacity="1.0"/>
<text x="0" y="0" font-size="8.2" font-weight="normal" text-anchor="middle" fill="#231f20" stroke="#231f20" stroke-width="0.18" transform="translate(240.8,209.9) rotate(-90)" textLength="92.8" lengthAdjust="spacingAndGlyphs">TCR clonotype frequency (%) in</text>
<text x="0" y="0" font-size="8.2" font-weight="normal" text-anchor="middle" fill="#231f20" stroke="#231f20" stroke-width="0.18" transform="translate(252,210.45) rotate(-90)" textLength="76.9" lengthAdjust="spacingAndGlyphs">all non-CTCL CD4+ T cells</text>
<text x="386.3" y="9.8" font-size="11" font-weight="bold" text-anchor="start" fill="#111" >G</text>
<line x1="390.9" y1="16.8" x2="390.9" y2="114.85000000000001" stroke="#222" stroke-width="1.3" />
<line x1="390.9" y1="114.2" x2="516.2" y2="114.2" stroke="#222" stroke-width="1.3" />
<line x1="387.29999999999995" y1="22" x2="390.9" y2="22" stroke="#111" stroke-width="1.3" />
<line x1="387.29999999999995" y1="42.5" x2="390.9" y2="42.5" stroke="#111" stroke-width="1.3" />
<line x1="387.29999999999995" y1="62.3" x2="390.9" y2="62.3" stroke="#111" stroke-width="1.3" />
<line x1="387.29999999999995" y1="82.6" x2="390.9" y2="82.6" stroke="#111" stroke-width="1.3" />
<line x1="387.29999999999995" y1="102.9" x2="390.9" y2="102.9" stroke="#111" stroke-width="1.3" />
<line x1="395.6" y1="114.2" x2="395.6" y2="117.60000000000001" stroke="#111" stroke-width="1.3" />
<line x1="436.5" y1="114.2" x2="436.5" y2="117.60000000000001" stroke="#111" stroke-width="1.3" />
<line x1="478" y1="114.2" x2="478" y2="117.60000000000001" stroke="#111" stroke-width="1.3" />
<polygon points="412.2,62.4 415.8,66.0 413.8,68.8 411.0,70.3 409.2,71.8 412.0,77.6 416.7,84.7 420.2,90.0 422.0,92.5 421.1,93.2 414.9,94.8 407.8,95.8 403.3,90.9 398.9,84.7 396.2,78.5 397.1,74.9 400.7,69.6 406.0,65.1" fill="#f01c1c" />
<path d="M403.0 80.8h0.9v0.9h-0.9zM407.6 66.3h0.9v0.9h-0.9zM400.3 85.5h0.9v0.9h-0.9zM407.4 94.4h0.9v0.9h-0.9zM407.7 72.4h0.9v0.9h-0.9zM401.6 72.1h0.9v0.9h-0.9zM402.8 68.3h0.9v0.9h-0.9zM410.2 89.0h0.9v0.9h-0.9zM413.2 67.2h0.9v0.9h-0.9zM404.6 92.3h0.9v0.9h-0.9zM398.0 78.6h0.9v0.9h-0.9zM407.1 64.3h0.9v0.9h-0.9zM412.2 88.3h0.9v0.9h-0.9zM401.5 70.1h0.9v0.9h-0.9zM403.2 77.0h0.9v0.9h-0.9zM418.6 89.0h0.9v0.9h-0.9zM405.7 84.2h0.9v0.9h-0.9zM405.3 83.1h0.9v0.9h-0.9z" fill="#ffffff" opacity="0.85"/>
<path d="M410.5 71.6h0.9v0.9h-0.9zM410.9 75.2h0.9v0.9h-0.9zM413.6 68.7h0.9v0.9h-0.9zM400.0 87.7h0.9v0.9h-0.9zM417.9 87.0h0.9v0.9h-0.9zM403.9 89.3h0.9v0.9h-0.9zM411.1 77.0h0.9v0.9h-0.9zM416.7 94.9h0.9v0.9h-0.9zM397.5 74.1h0.9v0.9h-0.9zM415.1 93.8h0.9v0.9h-0.9zM413.7 83.5h0.9v0.9h-0.9zM415.1 65.1h0.9v0.9h-0.9zM403.6 92.6h0.9v0.9h-0.9zM411.5 95.5h0.9v0.9h-0.9zM413.5 63.3h0.9v0.9h-0.9zM412.7 68.7h0.9v0.9h-0.9zM414.8 64.2h0.9v0.9h-0.9zM407.4 63.9h0.9v0.9h-0.9zM404.1 91.4h0.9v0.9h-0.9zM396.4 77.5h0.9v0.9h-0.9zM399.4 85.4h0.9v0.9h-0.9zM411.9 95.2h0.9v0.9h-0.9zM411.5 68.8h0.9v0.9h-0.9zM410.6 72.8h0.9v0.9h-0.9zM395.9 79.6h0.9v0.9h-0.9zM401.9 68.7h0.9v0.9h-0.9zM411.4 77.5h0.9v0.9h-0.9zM404.9 65.9h0.9v0.9h-0.9zM404.4 64.7h0.9v0.9h-0.9zM420.4 90.1h0.9v0.9h-0.9zM397.3 82.6h0.9v0.9h-0.9zM415.5 66.5h0.9v0.9h-0.9zM414.4 65.1h0.9v0.9h-0.9zM397.6 73.9h0.9v0.9h-0.9zM404.9 93.9h0.9v0.9h-0.9zM420.6 94.2h0.9v0.9h-0.9zM397.3 82.4h0.9v0.9h-0.9zM398.3 85.1h0.9v0.9h-0.9zM409.2 95.0h0.9v0.9h-0.9zM411.6 80.9h0.9v0.9h-0.9zM412.2 62.3h0.9v0.9h-0.9zM409.3 71.4h0.9v0.9h-0.9zM413.6 94.7h0.9v0.9h-0.9zM421.1 89.3h0.9v0.9h-0.9zM414.6 67.0h0.9v0.9h-0.9zM411.0 64.1h0.9v0.9h-0.9zM409.7 94.9h0.9v0.9h-0.9zM412.7 93.6h0.9v0.9h-0.9zM408.3 62.4h0.9v0.9h-0.9zM409.4 69.7h0.9v0.9h-0.9zM401.5 68.5h0.9v0.9h-0.9zM397.6 73.8h0.9v0.9h-0.9zM398.9 69.5h0.9v0.9h-0.9zM412.9 62.2h0.9v0.9h-0.9zM412.8 79.8h0.9v0.9h-0.9zM399.8 68.7h0.9v0.9h-0.9zM399.7 86.1h0.9v0.9h-0.9zM412.1 62.1h0.9v0.9h-0.9zM409.3 72.4h0.9v0.9h-0.9zM403.8 90.4h0.9v0.9h-0.9z" fill="#f01c1c" opacity="0.95"/>
<path d="M405.5 75.7h0.8v0.8h-0.8zM406.7 76.5h0.8v0.8h-0.8zM407.2 77.3h0.8v0.8h-0.8zM408.5 78.0h0.8v0.8h-0.8zM409.1 78.6h0.8v0.8h-0.8zM409.6 79.3h0.8v0.8h-0.8zM410.9 80.0h0.8v0.8h-0.8zM411.8 80.8h0.8v0.8h-0.8zM412.8 81.6h0.8v0.8h-0.8zM413.5 82.3h0.8v0.8h-0.8zM414.6 83.2h0.8v0.8h-0.8zM415.6 83.8h0.8v0.8h-0.8zM416.2 84.2h0.8v0.8h-0.8zM417.0 85.5h0.8v0.8h-0.8z" fill="#ffffff" opacity="0.75"/>
<path d="M408.2 76.1h0.8v0.8h-0.8zM408.9 77.0h0.8v0.8h-0.8zM409.6 77.7h0.8v0.8h-0.8zM410.9 78.2h0.8v0.8h-0.8zM412.1 79.3h0.8v0.8h-0.8zM413.0 79.8h0.8v0.8h-0.8zM413.3 80.4h0.8v0.8h-0.8zM414.1 81.0h0.8v0.8h-0.8z" fill="#ffffff" opacity="0.75"/>
<path d="M410.6 76.5h0.8v0.8h-0.8zM411.6 77.5h0.8v0.8h-0.8z" fill="#ffffff" opacity="0.75"/>
<path d="" fill="#ffffff" opacity="0.75"/>
<path d="" fill="#ffffff" opacity="0.75"/>
<path d="M410.6 76.9h0.9v0.9h-0.9zM410.1 74.1h0.9v0.9h-0.9zM407.3 88.6h0.9v0.9h-0.9zM409.0 89.7h0.9v0.9h-0.9zM416.3 86.4h0.9v0.9h-0.9zM417.8 92.4h0.9v0.9h-0.9zM409.0 83.8h0.9v0.9h-0.9zM417.5 89.0h0.9v0.9h-0.9zM414.1 86.2h0.9v0.9h-0.9zM417.1 92.2h0.9v0.9h-0.9zM410.4 89.6h0.9v0.9h-0.9zM409.9 86.0h0.9v0.9h-0.9zM408.6 88.1h0.9v0.9h-0.9zM409.1 81.6h0.9v0.9h-0.9zM416.1 90.4h0.9v0.9h-0.9zM407.9 89.0h0.9v0.9h-0.9zM415.3 88.0h0.9v0.9h-0.9zM410.2 85.5h0.9v0.9h-0.9zM408.7 89.6h0.9v0.9h-0.9zM407.9 82.1h0.9v0.9h-0.9zM415.0 90.2h0.9v0.9h-0.9z" fill="#ffffff" opacity="0.8"/>
<path d="M431.4 98.9h1.0v1.0h-1.0zM433.3 97.8h1.0v1.0h-1.0zM434.4 98.4h1.0v1.0h-1.0zM421.6 92.3h1.0v1.0h-1.0zM423.0 94.2h1.0v1.0h-1.0zM425.9 95.5h1.0v1.0h-1.0zM424.1 92.5h1.0v1.0h-1.0zM423.6 93.3h1.0v1.0h-1.0zM435.5 100.3h1.0v1.0h-1.0zM429.7 96.5h1.0v1.0h-1.0zM422.3 94.0h1.0v1.0h-1.0zM422.4 93.7h1.0v1.0h-1.0zM418.6 93.4h1.0v1.0h-1.0zM434.9 100.0h1.0v1.0h-1.0zM434.9 99.9h1.0v1.0h-1.0zM434.8 99.7h1.0v1.0h-1.0zM425.6 94.2h1.0v1.0h-1.0zM428.6 97.8h1.0v1.0h-1.0zM424.8 94.9h1.0v1.0h-1.0zM432.0 98.7h1.0v1.0h-1.0zM435.7 100.8h1.0v1.0h-1.0zM428.5 96.7h1.0v1.0h-1.0zM423.6 92.9h1.0v1.0h-1.0zM423.5 94.1h1.0v1.0h-1.0zM420.7 91.0h1.0v1.0h-1.0zM421.1 93.7h1.0v1.0h-1.0zM419.8 83.5h1.0v1.0h-1.0zM418.7 82.1h1.0v1.0h-1.0zM424.9 93.7h1.0v1.0h-1.0zM418.9 82.6h1.0v1.0h-1.0zM416.1 85.7h1.0v1.0h-1.0zM417.1 84.7h1.0v1.0h-1.0zM418.3 85.5h1.0v1.0h-1.0zM419.8 84.1h1.0v1.0h-1.0zM419.3 89.9h1.0v1.0h-1.0zM415.3 86.4h1.0v1.0h-1.0zM425.4 89.9h1.0v1.0h-1.0zM418.2 82.7h1.0v1.0h-1.0zM413.1 82.2h1.0v1.0h-1.0zM415.3 80.8h1.0v1.0h-1.0zM420.0 87.9h1.0v1.0h-1.0zM422.8 85.8h1.0v1.0h-1.0zM420.8 88.9h1.0v1.0h-1.0zM423.6 86.9h1.0v1.0h-1.0zM420.6 87.7h1.0v1.0h-1.0zM424.5 89.8h1.0v1.0h-1.0zM416.4 81.4h1.0v1.0h-1.0zM424.7 89.2h1.0v1.0h-1.0zM416.0 83.7h1.0v1.0h-1.0zM414.8 80.1h1.0v1.0h-1.0zM421.5 87.0h1.0v1.0h-1.0zM415.1 81.1h1.0v1.0h-1.0zM416.5 84.6h1.0v1.0h-1.0zM413.3 81.5h1.0v1.0h-1.0zM415.9 84.0h1.0v1.0h-1.0zM415.7 84.9h1.0v1.0h-1.0zM415.5 83.7h1.0v1.0h-1.0zM419.6 84.5h1.0v1.0h-1.0zM419.8 89.8h1.0v1.0h-1.0zM417.8 86.3h1.0v1.0h-1.0zM418.3 83.8h1.0v1.0h-1.0zM424.2 91.1h1.0v1.0h-1.0zM415.4 84.5h1.0v1.0h-1.0zM416.1 82.7h1.0v1.0h-1.0zM425.2 93.1h1.0v1.0h-1.0zM418.0 82.8h1.0v1.0h-1.0zM416.8 80.8h1.0v1.0h-1.0zM419.3 87.7h1.0v1.0h-1.0zM424.7 85.7h1.0v1.0h-1.0zM415.5 87.7h1.0v1.0h-1.0zM424.4 88.1h1.0v1.0h-1.0z" fill="#f01c1c" opacity="1.0"/>
<defs><linearGradient id="ig0" x1="0" x2="1"><stop offset="0" stop-color="#d8208a"/><stop offset="0.5" stop-color="#8a18a8"/><stop offset="1" stop-color="#5a28d0"/></linearGradient></defs>
<polygon points="437.5,101.5 445.0,103.0 452.0,104.0 460.0,104.0 466.0,103.0 471.0,102.0 472.0,104.0 466.0,107.5 458.0,109.3 450.0,109.3 443.0,107.5 438.0,104.5" fill="url(#ig0)" />
<path d="M451.3 108.4h0.9v0.9h-0.9zM443.0 103.4h0.9v0.9h-0.9zM451.5 104.0h0.9v0.9h-0.9zM448.8 105.0h0.9v0.9h-0.9zM438.9 104.8h0.9v0.9h-0.9zM466.1 103.6h0.9v0.9h-0.9zM455.6 104.7h0.9v0.9h-0.9zM441.5 105.4h0.9v0.9h-0.9zM456.8 106.6h0.9v0.9h-0.9zM465.7 103.6h0.9v0.9h-0.9zM451.4 103.7h0.9v0.9h-0.9zM464.9 104.5h0.9v0.9h-0.9zM439.5 104.7h0.9v0.9h-0.9zM438.8 104.0h0.9v0.9h-0.9zM455.8 108.7h0.9v0.9h-0.9zM455.8 108.5h0.9v0.9h-0.9zM460.9 104.1h0.9v0.9h-0.9zM438.8 102.2h0.9v0.9h-0.9zM464.4 106.2h0.9v0.9h-0.9zM459.1 108.3h0.9v0.9h-0.9zM443.3 106.6h0.9v0.9h-0.9zM469.1 102.6h0.9v0.9h-0.9zM444.2 102.8h0.9v0.9h-0.9zM446.2 104.3h0.9v0.9h-0.9zM453.6 108.0h0.9v0.9h-0.9zM450.9 104.4h0.9v0.9h-0.9zM442.4 102.2h0.9v0.9h-0.9zM444.2 103.6h0.9v0.9h-0.9zM440.6 105.9h0.9v0.9h-0.9zM443.9 105.0h0.9v0.9h-0.9zM461.0 104.9h0.9v0.9h-0.9zM462.6 107.1h0.9v0.9h-0.9zM449.7 103.3h0.9v0.9h-0.9zM439.9 102.5h0.9v0.9h-0.9zM467.8 104.7h0.9v0.9h-0.9zM445.6 102.8h0.9v0.9h-0.9zM467.6 102.9h0.9v0.9h-0.9zM457.7 108.4h0.9v0.9h-0.9zM453.1 104.4h0.9v0.9h-0.9zM455.8 107.9h0.9v0.9h-0.9zM470.1 102.9h0.9v0.9h-0.9zM470.5 103.2h0.9v0.9h-0.9zM443.2 103.2h0.9v0.9h-0.9zM449.2 104.8h0.9v0.9h-0.9zM468.0 103.9h0.9v0.9h-0.9zM445.1 105.1h0.9v0.9h-0.9zM467.1 102.6h0.9v0.9h-0.9zM454.6 108.2h0.9v0.9h-0.9z" fill="#ffffff" opacity="0.8"/>
<polygon points="510.0,65.2 509.0,68.0 500.4,77.3 496.0,83.0 493.6,88.6 488.0,92.2 483.0,96.6 477.0,101.3 472.0,105.0 469.0,103.5 472.8,97.8 479.2,91.8 485.6,85.6 488.8,81.8 490.8,78.8 495.6,75.4 502.0,71.3" fill="#2020f0" />
<path d="M486.6 85.5h0.9v0.9h-0.9zM493.7 81.9h0.9v0.9h-0.9zM478.1 97.1h0.9v0.9h-0.9zM484.2 93.1h0.9v0.9h-0.9zM480.0 91.4h0.9v0.9h-0.9zM484.4 93.3h0.9v0.9h-0.9zM492.1 84.7h0.9v0.9h-0.9zM493.2 77.6h0.9v0.9h-0.9zM480.8 95.1h0.9v0.9h-0.9zM500.7 72.1h0.9v0.9h-0.9zM485.9 90.7h0.9v0.9h-0.9zM496.2 76.2h0.9v0.9h-0.9zM478.8 91.5h0.9v0.9h-0.9zM506.7 68.6h0.9v0.9h-0.9zM503.4 71.4h0.9v0.9h-0.9zM509.1 65.8h0.9v0.9h-0.9zM504.7 70.6h0.9v0.9h-0.9zM486.2 87.8h0.9v0.9h-0.9zM479.0 93.5h0.9v0.9h-0.9zM485.1 86.0h0.9v0.9h-0.9zM470.5 100.9h0.9v0.9h-0.9zM501.2 71.4h0.9v0.9h-0.9z" fill="#ffffff" opacity="0.6"/>
<path d="M470.4 103.9h0.9v0.9h-0.9zM505.6 68.5h0.9v0.9h-0.9zM501.7 75.3h0.9v0.9h-0.9zM495.8 75.2h0.9v0.9h-0.9zM492.5 87.4h0.9v0.9h-0.9zM472.1 96.9h0.9v0.9h-0.9zM505.5 68.1h0.9v0.9h-0.9zM481.6 89.5h0.9v0.9h-0.9zM493.9 87.6h0.9v0.9h-0.9zM471.8 96.7h0.9v0.9h-0.9zM498.7 72.7h0.9v0.9h-0.9zM499.1 73.0h0.9v0.9h-0.9zM498.0 78.6h0.9v0.9h-0.9zM508.7 64.6h0.9v0.9h-0.9zM506.8 68.1h0.9v0.9h-0.9zM479.6 91.3h0.9v0.9h-0.9zM501.7 75.3h0.9v0.9h-0.9zM477.5 92.1h0.9v0.9h-0.9zM502.7 69.0h0.9v0.9h-0.9zM492.1 89.5h0.9v0.9h-0.9zM508.0 69.0h0.9v0.9h-0.9zM480.1 97.7h0.9v0.9h-0.9zM494.2 83.4h0.9v0.9h-0.9zM486.9 92.7h0.9v0.9h-0.9zM481.8 96.9h0.9v0.9h-0.9zM493.0 88.0h0.9v0.9h-0.9zM496.6 84.0h0.9v0.9h-0.9zM501.5 71.2h0.9v0.9h-0.9zM474.0 104.0h0.9v0.9h-0.9zM498.7 72.0h0.9v0.9h-0.9zM494.7 75.3h0.9v0.9h-0.9zM481.4 91.1h0.9v0.9h-0.9zM489.4 79.0h0.9v0.9h-0.9zM489.5 91.2h0.9v0.9h-0.9zM503.5 72.1h0.9v0.9h-0.9zM472.8 97.3h0.9v0.9h-0.9zM470.2 98.5h0.9v0.9h-0.9zM496.7 80.4h0.9v0.9h-0.9zM481.6 97.6h0.9v0.9h-0.9zM470.7 100.6h0.9v0.9h-0.9zM470.1 101.4h0.9v0.9h-0.9zM484.8 94.9h0.9v0.9h-0.9zM484.8 95.1h0.9v0.9h-0.9zM475.6 94.6h0.9v0.9h-0.9zM477.7 92.6h0.9v0.9h-0.9zM468.8 101.3h0.9v0.9h-0.9zM493.5 86.8h0.9v0.9h-0.9zM479.1 98.4h0.9v0.9h-0.9zM477.2 92.8h0.9v0.9h-0.9zM488.1 80.7h0.9v0.9h-0.9z" fill="#2020f0" opacity="0.95"/>
<path d="M481.4 25.5h1.35v1.35h-1.35zM481.6 26.3h1.35v1.35h-1.35zM479.8 37.3h1.35v1.35h-1.35zM479.8 38.5h1.35v1.35h-1.35zM479.7 39.6h1.35v1.35h-1.35zM479.3 45.5h1.35v1.35h-1.35zM477.7 49.6h1.35v1.35h-1.35zM474.5 56.8h1.35v1.35h-1.35zM474.8 57.8h1.35v1.35h-1.35zM473.6 60.3h1.35v1.35h-1.35zM472.8 63.3h1.35v1.35h-1.35zM471.9 66.3h1.35v1.35h-1.35zM471.1 69.3h1.35v1.35h-1.35zM470.3 72.9h1.35v1.35h-1.35zM493.0 51.2h1.35v1.35h-1.35zM492.8 52.8h1.35v1.35h-1.35zM492.2 54.8h1.35v1.35h-1.35zM491.3 57.6h1.35v1.35h-1.35zM490.7 59.3h1.35v1.35h-1.35zM490.3 61.8h1.35v1.35h-1.35zM489.8 64.3h1.35v1.35h-1.35zM489.5 66.3h1.35v1.35h-1.35zM488.8 68.0h1.35v1.35h-1.35zM488.3 70.3h1.35v1.35h-1.35zM487.6 72.3h1.35v1.35h-1.35zM486.8 74.8h1.35v1.35h-1.35zM485.8 77.8h1.35v1.35h-1.35zM487.9 91.6h1.35v1.35h-1.35zM476.5 80.2h1.35v1.35h-1.35zM482.2 84.2h1.35v1.35h-1.35zM473.1 76.4h1.35v1.35h-1.35zM479.9 91.8h1.35v1.35h-1.35zM483.8 77.3h1.35v1.35h-1.35zM470.2 89.9h1.35v1.35h-1.35zM468.4 96.4h1.35v1.35h-1.35zM487.6 89.7h1.35v1.35h-1.35zM471.6 87.9h1.35v1.35h-1.35zM483.7 82.3h1.35v1.35h-1.35zM480.9 89.0h1.35v1.35h-1.35zM487.1 93.5h1.35v1.35h-1.35zM481.4 87.5h1.35v1.35h-1.35zM486.7 89.0h1.35v1.35h-1.35zM481.9 81.4h1.35v1.35h-1.35zM467.9 87.8h1.35v1.35h-1.35zM470.7 98.5h1.35v1.35h-1.35zM470.6 96.6h1.35v1.35h-1.35zM473.3 78.3h1.35v1.35h-1.35zM479.2 81.7h1.35v1.35h-1.35zM489.2 89.4h1.35v1.35h-1.35zM467.7 81.4h1.35v1.35h-1.35zM468.0 86.2h1.35v1.35h-1.35zM478.0 81.5h1.35v1.35h-1.35zM481.5 84.9h1.35v1.35h-1.35zM485.0 91.0h1.35v1.35h-1.35zM471.5 94.9h1.35v1.35h-1.35zM466.0 79.4h1.35v1.35h-1.35zM466.0 98.1h1.35v1.35h-1.35zM478.2 95.2h1.35v1.35h-1.35zM489.1 75.7h1.35v1.35h-1.35zM486.9 73.9h1.35v1.35h-1.35zM482.1 93.9h1.35v1.35h-1.35zM474.6 96.5h1.35v1.35h-1.35zM483.7 86.3h1.35v1.35h-1.35zM472.1 77.5h1.35v1.35h-1.35zM467.2 87.4h1.35v1.35h-1.35zM477.9 78.2h1.35v1.35h-1.35zM478.1 75.4h1.35v1.35h-1.35zM466.1 92.7h1.35v1.35h-1.35zM471.7 94.1h1.35v1.35h-1.35zM468.3 92.9h1.35v1.35h-1.35zM475.4 88.7h1.35v1.35h-1.35zM465.6 95.9h1.35v1.35h-1.35zM463.3 97.6h1.35v1.35h-1.35zM469.6 91.8h1.35v1.35h-1.35zM467.0 93.1h1.35v1.35h-1.35zM469.5 91.3h1.35v1.35h-1.35zM472.5 80.8h1.35v1.35h-1.35zM470.7 88.9h1.35v1.35h-1.35zM470.5 90.1h1.35v1.35h-1.35zM469.9 90.1h1.35v1.35h-1.35zM462.7 98.4h1.35v1.35h-1.35zM466.0 97.3h1.35v1.35h-1.35zM475.3 81.8h1.35v1.35h-1.35zM466.1 93.2h1.35v1.35h-1.35zM474.4 88.7h1.35v1.35h-1.35zM469.9 92.5h1.35v1.35h-1.35zM473.5 83.1h1.35v1.35h-1.35zM470.5 91.3h1.35v1.35h-1.35zM467.7 87.8h1.35v1.35h-1.35zM471.9 90.0h1.35v1.35h-1.35zM469.9 92.3h1.35v1.35h-1.35zM470.7 91.7h1.35v1.35h-1.35z" fill="#2020d8" opacity="1.0"/>
<ellipse cx="453.7" cy="104.9" rx="21.1" ry="6.9" fill="none" stroke="#1e1e1e" stroke-width="1.3" stroke-dasharray="3,2" transform="rotate(0 453.7 104.9)"/>
<text x="397.5" y="49.5" font-size="7" font-weight="normal" text-anchor="start" fill="#231f20" stroke="#231f20" stroke-width="0.18" >CTCL</text>
<text x="497.5" y="49.5" font-size="7" font-weight="normal" text-anchor="start" fill="#231f20" stroke="#231f20" stroke-width="0.18" >Normal</text>
<text x="433.1" y="91.8" font-size="7" font-weight="normal" text-anchor="start" fill="#231f20" stroke="#231f20" stroke-width="0.18" >Intermediate</text>
<text x="386" y="154.2" font-size="11" font-weight="bold" text-anchor="start" fill="#111" >H</text>
<line x1="390.9" y1="161.8" x2="390.9" y2="259.84999999999997" stroke="#222" stroke-width="1.3" />
<line x1="390.9" y1="259.2" x2="515.8" y2="259.2" stroke="#222" stroke-width="1.3" />
<line x1="387.29999999999995" y1="166.75" x2="390.9" y2="166.75" stroke="#111" stroke-width="1.3" />
<line x1="387.29999999999995" y1="186.9" x2="390.9" y2="186.9" stroke="#111" stroke-width="1.3" />
<line x1="387.29999999999995" y1="207" x2="390.9" y2="207" stroke="#111" stroke-width="1.3" />
<line x1="387.29999999999995" y1="227" x2="390.9" y2="227" stroke="#111" stroke-width="1.3" />
<line x1="387.29999999999995" y1="247" x2="390.9" y2="247" stroke="#111" stroke-width="1.3" />
<line x1="396" y1="259.2" x2="396" y2="262.59999999999997" stroke="#111" stroke-width="1.3" />
<line x1="436.5" y1="259.2" x2="436.5" y2="262.59999999999997" stroke="#111" stroke-width="1.3" />
<line x1="478.1" y1="259.2" x2="478.1" y2="262.59999999999997" stroke="#111" stroke-width="1.3" />
<polygon points="412.2,207.4 415.8,211.0 413.8,213.8 411.0,215.3 409.2,216.8 412.0,222.6 416.7,229.7 420.2,235.0 422.0,237.5 421.1,238.2 414.9,239.8 407.8,240.8 403.3,235.9 398.9,229.7 396.2,223.5 397.1,219.9 400.7,214.6 406.0,210.1" fill="#fe8a00" />
<path d="M418.6 237.5h0.9v0.9h-0.9zM398.7 226.6h0.9v0.9h-0.9zM408.3 208.7h0.9v0.9h-0.9zM403.4 224.8h0.9v0.9h-0.9zM406.7 226.0h0.9v0.9h-0.9zM411.5 213.3h0.9v0.9h-0.9zM410.4 238.1h0.9v0.9h-0.9zM409.2 232.0h0.9v0.9h-0.9zM407.5 230.6h0.9v0.9h-0.9zM405.4 225.5h0.9v0.9h-0.9zM404.8 228.8h0.9v0.9h-0.9zM407.3 221.7h0.9v0.9h-0.9zM405.5 216.7h0.9v0.9h-0.9zM411.9 236.3h0.9v0.9h-0.9zM400.8 228.6h0.9v0.9h-0.9zM409.5 228.2h0.9v0.9h-0.9zM409.2 228.0h0.9v0.9h-0.9zM407.5 230.1h0.9v0.9h-0.9z" fill="#ffffff" opacity="0.85"/>
<path d="M407.7 240.3h0.9v0.9h-0.9zM414.2 211.2h0.9v0.9h-0.9zM413.5 223.6h0.9v0.9h-0.9zM415.7 229.4h0.9v0.9h-0.9zM415.3 227.3h0.9v0.9h-0.9zM396.4 225.3h0.9v0.9h-0.9zM409.8 207.7h0.9v0.9h-0.9zM398.7 212.8h0.9v0.9h-0.9zM417.1 238.7h0.9v0.9h-0.9zM405.2 239.6h0.9v0.9h-0.9zM412.9 222.9h0.9v0.9h-0.9zM396.9 216.7h0.9v0.9h-0.9zM404.8 238.5h0.9v0.9h-0.9zM413.5 224.7h0.9v0.9h-0.9zM417.4 230.9h0.9v0.9h-0.9zM410.8 239.8h0.9v0.9h-0.9zM398.6 230.0h0.9v0.9h-0.9zM410.4 218.2h0.9v0.9h-0.9zM413.0 214.1h0.9v0.9h-0.9zM408.8 217.6h0.9v0.9h-0.9zM419.5 236.5h0.9v0.9h-0.9zM415.5 213.1h0.9v0.9h-0.9zM418.2 232.2h0.9v0.9h-0.9zM397.1 224.1h0.9v0.9h-0.9zM397.0 227.2h0.9v0.9h-0.9zM416.9 231.3h0.9v0.9h-0.9zM397.3 220.0h0.9v0.9h-0.9zM398.6 225.5h0.9v0.9h-0.9zM402.3 234.6h0.9v0.9h-0.9zM412.5 219.8h0.9v0.9h-0.9zM413.0 207.5h0.9v0.9h-0.9zM413.6 212.3h0.9v0.9h-0.9zM399.6 215.2h0.9v0.9h-0.9zM407.5 216.4h0.9v0.9h-0.9zM414.3 209.2h0.9v0.9h-0.9zM420.9 236.2h0.9v0.9h-0.9zM407.5 241.9h0.9v0.9h-0.9zM403.4 210.4h0.9v0.9h-0.9zM400.3 233.3h0.9v0.9h-0.9zM406.2 240.4h0.9v0.9h-0.9zM401.1 214.7h0.9v0.9h-0.9zM400.1 214.6h0.9v0.9h-0.9zM410.9 223.3h0.9v0.9h-0.9zM397.8 224.4h0.9v0.9h-0.9zM417.3 229.8h0.9v0.9h-0.9zM419.3 230.8h0.9v0.9h-0.9zM407.9 239.0h0.9v0.9h-0.9zM407.7 240.7h0.9v0.9h-0.9zM394.7 218.2h0.9v0.9h-0.9zM409.1 215.8h0.9v0.9h-0.9zM418.4 232.1h0.9v0.9h-0.9zM401.7 215.1h0.9v0.9h-0.9zM410.9 208.4h0.9v0.9h-0.9zM412.7 239.9h0.9v0.9h-0.9zM416.1 226.4h0.9v0.9h-0.9zM406.4 208.9h0.9v0.9h-0.9zM413.9 211.8h0.9v0.9h-0.9zM412.2 207.7h0.9v0.9h-0.9zM415.5 210.1h0.9v0.9h-0.9zM397.9 228.3h0.9v0.9h-0.9z" fill="#fe8a00" opacity="0.95"/>
<path d="M405.3 220.7h0.8v0.8h-0.8zM406.6 221.6h0.8v0.8h-0.8zM407.8 222.3h0.8v0.8h-0.8zM408.6 222.8h0.8v0.8h-0.8zM409.0 223.8h0.8v0.8h-0.8zM410.4 224.7h0.8v0.8h-0.8zM411.0 225.0h0.8v0.8h-0.8zM411.8 225.9h0.8v0.8h-0.8zM412.8 226.6h0.8v0.8h-0.8zM413.8 227.3h0.8v0.8h-0.8zM414.7 228.0h0.8v0.8h-0.8zM415.1 228.8h0.8v0.8h-0.8z" fill="#ffffff" opacity="0.75"/>
<path d="M408.6 221.2h0.8v0.8h-0.8zM408.6 221.8h0.8v0.8h-0.8zM409.8 222.7h0.8v0.8h-0.8zM411.0 223.4h0.8v0.8h-0.8zM411.7 224.0h0.8v0.8h-0.8zM412.8 225.0h0.8v0.8h-0.8zM413.7 225.6h0.8v0.8h-0.8z" fill="#ffffff" opacity="0.75"/>
<path d="M410.1 221.5h0.8v0.8h-0.8z" fill="#ffffff" opacity="0.75"/>
<path d="" fill="#ffffff" opacity="0.75"/>
<path d="" fill="#ffffff" opacity="0.75"/>
<path d="M411.0 226.1h0.9v0.9h-0.9zM410.6 223.5h0.9v0.9h-0.9zM406.8 231.5h0.9v0.9h-0.9zM412.8 226.8h0.9v0.9h-0.9zM407.1 223.3h0.9v0.9h-0.9zM413.5 231.9h0.9v0.9h-0.9zM414.7 233.6h0.9v0.9h-0.9zM410.3 234.0h0.9v0.9h-0.9zM406.6 231.0h0.9v0.9h-0.9zM417.6 235.2h0.9v0.9h-0.9zM408.9 228.0h0.9v0.9h-0.9zM417.3 234.4h0.9v0.9h-0.9zM418.5 233.4h0.9v0.9h-0.9zM412.0 228.8h0.9v0.9h-0.9zM413.4 229.8h0.9v0.9h-0.9zM411.5 233.0h0.9v0.9h-0.9zM415.4 238.3h0.9v0.9h-0.9zM416.2 237.1h0.9v0.9h-0.9zM405.3 226.3h0.9v0.9h-0.9zM409.7 221.7h0.9v0.9h-0.9zM408.8 227.2h0.9v0.9h-0.9z" fill="#ffffff" opacity="0.8"/>
<path d="M431.1 244.0h1.0v1.0h-1.0zM420.7 237.6h1.0v1.0h-1.0zM431.2 242.3h1.0v1.0h-1.0zM425.8 238.9h1.0v1.0h-1.0zM434.1 245.4h1.0v1.0h-1.0zM428.8 242.2h1.0v1.0h-1.0zM435.9 245.4h1.0v1.0h-1.0zM425.8 239.4h1.0v1.0h-1.0zM429.8 241.9h1.0v1.0h-1.0zM437.4 246.2h1.0v1.0h-1.0zM427.1 241.2h1.0v1.0h-1.0zM418.8 237.1h1.0v1.0h-1.0zM435.8 246.0h1.0v1.0h-1.0zM436.5 246.5h1.0v1.0h-1.0zM433.1 243.1h1.0v1.0h-1.0zM431.3 242.5h1.0v1.0h-1.0zM433.8 244.4h1.0v1.0h-1.0zM426.3 241.1h1.0v1.0h-1.0zM429.9 243.2h1.0v1.0h-1.0zM423.6 238.2h1.0v1.0h-1.0zM432.3 243.7h1.0v1.0h-1.0zM418.7 237.0h1.0v1.0h-1.0zM429.5 241.0h1.0v1.0h-1.0zM429.0 241.2h1.0v1.0h-1.0zM422.1 238.6h1.0v1.0h-1.0zM426.2 241.6h1.0v1.0h-1.0zM419.9 229.3h1.0v1.0h-1.0zM423.5 234.3h1.0v1.0h-1.0zM412.6 226.4h1.0v1.0h-1.0zM418.8 233.0h1.0v1.0h-1.0zM415.5 228.8h1.0v1.0h-1.0zM417.1 226.5h1.0v1.0h-1.0zM422.4 233.3h1.0v1.0h-1.0zM418.3 227.7h1.0v1.0h-1.0zM413.9 229.7h1.0v1.0h-1.0zM413.2 227.7h1.0v1.0h-1.0zM418.9 233.3h1.0v1.0h-1.0zM417.0 229.2h1.0v1.0h-1.0zM419.2 229.0h1.0v1.0h-1.0zM413.3 224.8h1.0v1.0h-1.0zM415.6 232.0h1.0v1.0h-1.0zM423.7 237.6h1.0v1.0h-1.0zM414.0 231.0h1.0v1.0h-1.0zM418.1 227.7h1.0v1.0h-1.0zM424.7 236.4h1.0v1.0h-1.0zM414.0 221.6h1.0v1.0h-1.0zM414.4 231.5h1.0v1.0h-1.0zM416.6 230.2h1.0v1.0h-1.0zM425.0 233.2h1.0v1.0h-1.0zM422.9 230.7h1.0v1.0h-1.0zM411.2 222.5h1.0v1.0h-1.0zM416.2 231.5h1.0v1.0h-1.0zM414.5 229.8h1.0v1.0h-1.0zM427.1 238.4h1.0v1.0h-1.0zM419.4 230.8h1.0v1.0h-1.0zM415.5 227.2h1.0v1.0h-1.0zM414.9 226.7h1.0v1.0h-1.0zM426.0 235.3h1.0v1.0h-1.0zM417.8 229.6h1.0v1.0h-1.0zM419.0 232.7h1.0v1.0h-1.0zM422.4 230.3h1.0v1.0h-1.0zM421.8 232.0h1.0v1.0h-1.0zM420.6 228.8h1.0v1.0h-1.0zM408.8 224.3h1.0v1.0h-1.0zM411.0 230.5h1.0v1.0h-1.0zM415.9 229.2h1.0v1.0h-1.0zM420.3 235.9h1.0v1.0h-1.0zM419.7 234.6h1.0v1.0h-1.0zM417.3 228.8h1.0v1.0h-1.0zM411.3 228.7h1.0v1.0h-1.0zM425.4 237.3h1.0v1.0h-1.0z" fill="#fe8a00" opacity="1.0"/>
<defs><linearGradient id="ig145" x1="0" x2="1"><stop offset="0" stop-color="#c8b090"/><stop offset="0.5" stop-color="#a89070"/><stop offset="1" stop-color="#a09488"/></linearGradient></defs>
<polygon points="437.5,246.5 445.0,248.0 452.0,249.0 460.0,249.0 466.0,248.0 471.0,247.0 472.0,249.0 466.0,252.5 458.0,254.3 450.0,254.3 443.0,252.5 438.0,249.5" fill="url(#ig145)" />
<path d="M449.2 249.6h0.9v0.9h-0.9zM442.5 250.3h0.9v0.9h-0.9zM446.4 251.1h0.9v0.9h-0.9zM441.1 249.9h0.9v0.9h-0.9zM465.9 251.3h0.9v0.9h-0.9zM443.0 249.9h0.9v0.9h-0.9zM462.2 250.7h0.9v0.9h-0.9zM468.1 248.4h0.9v0.9h-0.9zM463.9 252.1h0.9v0.9h-0.9zM465.7 249.0h0.9v0.9h-0.9zM461.0 249.5h0.9v0.9h-0.9zM452.7 251.6h0.9v0.9h-0.9zM457.2 250.9h0.9v0.9h-0.9zM445.9 251.5h0.9v0.9h-0.9zM463.2 251.0h0.9v0.9h-0.9zM442.1 248.0h0.9v0.9h-0.9zM457.1 251.9h0.9v0.9h-0.9zM451.5 251.5h0.9v0.9h-0.9zM448.6 248.5h0.9v0.9h-0.9zM442.9 249.3h0.9v0.9h-0.9zM462.3 248.8h0.9v0.9h-0.9zM469.4 248.3h0.9v0.9h-0.9zM450.1 252.4h0.9v0.9h-0.9zM460.1 249.5h0.9v0.9h-0.9zM459.8 251.4h0.9v0.9h-0.9zM459.6 250.5h0.9v0.9h-0.9zM438.7 247.3h0.9v0.9h-0.9zM455.1 249.1h0.9v0.9h-0.9zM447.2 251.9h0.9v0.9h-0.9zM457.6 253.8h0.9v0.9h-0.9zM458.0 253.7h0.9v0.9h-0.9zM445.1 247.8h0.9v0.9h-0.9zM442.6 248.0h0.9v0.9h-0.9zM454.3 252.4h0.9v0.9h-0.9zM463.5 251.0h0.9v0.9h-0.9zM445.8 248.4h0.9v0.9h-0.9zM466.2 249.7h0.9v0.9h-0.9zM439.0 247.9h0.9v0.9h-0.9zM441.7 248.5h0.9v0.9h-0.9zM438.8 248.4h0.9v0.9h-0.9zM466.6 247.9h0.9v0.9h-0.9zM454.6 252.7h0.9v0.9h-0.9zM457.0 251.0h0.9v0.9h-0.9zM461.4 251.6h0.9v0.9h-0.9zM448.9 252.8h0.9v0.9h-0.9zM461.2 251.7h0.9v0.9h-0.9zM456.6 253.5h0.9v0.9h-0.9zM453.5 251.1h0.9v0.9h-0.9z" fill="#ffffff" opacity="0.8"/>
<polygon points="510.0,210.2 509.0,213.0 500.4,222.3 496.0,228.0 493.6,233.6 488.0,237.2 483.0,241.6 477.0,246.3 472.0,250.0 469.0,248.5 472.8,242.8 479.2,236.8 485.6,230.6 488.8,226.8 490.8,223.8 495.6,220.4 502.0,216.3" fill="#8a8a8a" />
<path d="M476.9 242.5h0.9v0.9h-0.9zM496.0 221.6h0.9v0.9h-0.9zM485.1 230.6h0.9v0.9h-0.9zM494.9 228.6h0.9v0.9h-0.9zM489.7 225.6h0.9v0.9h-0.9zM477.9 244.5h0.9v0.9h-0.9zM495.1 222.1h0.9v0.9h-0.9zM486.6 237.2h0.9v0.9h-0.9zM478.4 243.6h0.9v0.9h-0.9zM481.6 241.7h0.9v0.9h-0.9zM489.7 233.2h0.9v0.9h-0.9zM488.0 232.7h0.9v0.9h-0.9zM484.2 234.8h0.9v0.9h-0.9zM481.8 234.4h0.9v0.9h-0.9zM472.1 243.9h0.9v0.9h-0.9zM497.7 221.1h0.9v0.9h-0.9zM487.5 229.5h0.9v0.9h-0.9zM501.2 218.6h0.9v0.9h-0.9zM499.8 218.4h0.9v0.9h-0.9zM505.3 214.2h0.9v0.9h-0.9zM492.0 226.1h0.9v0.9h-0.9zM481.6 236.5h0.9v0.9h-0.9z" fill="#ffffff" opacity="0.6"/>
<path d="M485.1 230.6h0.9v0.9h-0.9zM493.5 220.9h0.9v0.9h-0.9zM496.8 225.5h0.9v0.9h-0.9zM481.3 235.2h0.9v0.9h-0.9zM493.8 220.5h0.9v0.9h-0.9zM505.1 213.1h0.9v0.9h-0.9zM475.6 239.5h0.9v0.9h-0.9zM499.3 222.5h0.9v0.9h-0.9zM503.0 217.7h0.9v0.9h-0.9zM495.5 228.5h0.9v0.9h-0.9zM469.9 245.4h0.9v0.9h-0.9zM509.0 208.9h0.9v0.9h-0.9zM489.4 235.6h0.9v0.9h-0.9zM504.3 214.2h0.9v0.9h-0.9zM504.8 218.0h0.9v0.9h-0.9zM506.0 214.8h0.9v0.9h-0.9zM486.4 230.0h0.9v0.9h-0.9zM505.5 213.3h0.9v0.9h-0.9zM486.1 229.7h0.9v0.9h-0.9zM509.3 210.7h0.9v0.9h-0.9zM498.6 222.7h0.9v0.9h-0.9zM506.7 209.8h0.9v0.9h-0.9zM491.9 221.9h0.9v0.9h-0.9zM480.7 235.2h0.9v0.9h-0.9zM502.6 215.2h0.9v0.9h-0.9zM469.7 249.4h0.9v0.9h-0.9zM474.2 241.8h0.9v0.9h-0.9zM474.8 246.3h0.9v0.9h-0.9zM506.9 211.1h0.9v0.9h-0.9zM488.7 226.0h0.9v0.9h-0.9zM491.5 221.3h0.9v0.9h-0.9zM491.0 224.3h0.9v0.9h-0.9zM478.9 236.6h0.9v0.9h-0.9zM497.2 219.0h0.9v0.9h-0.9zM470.9 243.6h0.9v0.9h-0.9zM505.1 216.4h0.9v0.9h-0.9zM499.3 218.3h0.9v0.9h-0.9zM474.3 241.1h0.9v0.9h-0.9zM493.0 232.2h0.9v0.9h-0.9zM470.5 245.3h0.9v0.9h-0.9zM482.8 233.8h0.9v0.9h-0.9zM478.7 245.1h0.9v0.9h-0.9zM499.7 217.3h0.9v0.9h-0.9zM485.9 238.6h0.9v0.9h-0.9zM508.4 213.5h0.9v0.9h-0.9zM476.7 238.7h0.9v0.9h-0.9zM478.2 244.6h0.9v0.9h-0.9zM470.6 244.8h0.9v0.9h-0.9zM498.4 218.5h0.9v0.9h-0.9zM494.3 229.2h0.9v0.9h-0.9z" fill="#8a8a8a" opacity="0.95"/>
<path d="M481.6 170.6h1.1v1.1h-1.1zM481.8 171.4h1.1v1.1h-1.1zM479.9 182.4h1.1v1.1h-1.1zM479.9 183.6h1.1v1.1h-1.1zM479.8 184.8h1.1v1.1h-1.1zM479.4 190.6h1.1v1.1h-1.1zM477.8 194.8h1.1v1.1h-1.1zM474.6 201.9h1.1v1.1h-1.1zM474.9 202.9h1.1v1.1h-1.1zM473.8 205.4h1.1v1.1h-1.1zM472.9 208.4h1.1v1.1h-1.1zM472.1 211.4h1.1v1.1h-1.1zM471.2 214.4h1.1v1.1h-1.1zM470.4 218.0h1.1v1.1h-1.1zM493.1 196.3h1.1v1.1h-1.1zM492.9 197.9h1.1v1.1h-1.1zM492.3 199.9h1.1v1.1h-1.1zM491.4 202.8h1.1v1.1h-1.1zM490.8 204.4h1.1v1.1h-1.1zM490.4 206.9h1.1v1.1h-1.1zM489.9 209.4h1.1v1.1h-1.1zM489.6 211.4h1.1v1.1h-1.1zM488.9 213.1h1.1v1.1h-1.1zM488.4 215.4h1.1v1.1h-1.1zM487.8 217.4h1.1v1.1h-1.1zM486.9 219.9h1.1v1.1h-1.1zM485.9 222.9h1.1v1.1h-1.1zM479.4 229.1h1.1v1.1h-1.1zM477.6 220.7h1.1v1.1h-1.1zM489.0 229.5h1.1v1.1h-1.1zM473.4 240.5h1.1v1.1h-1.1zM472.5 239.0h1.1v1.1h-1.1zM475.6 221.5h1.1v1.1h-1.1zM479.2 225.7h1.1v1.1h-1.1zM470.3 244.2h1.1v1.1h-1.1zM487.9 230.7h1.1v1.1h-1.1zM484.8 235.9h1.1v1.1h-1.1zM472.7 221.8h1.1v1.1h-1.1zM479.4 223.4h1.1v1.1h-1.1zM483.6 233.9h1.1v1.1h-1.1zM470.7 238.6h1.1v1.1h-1.1zM488.7 230.9h1.1v1.1h-1.1zM488.7 230.1h1.1v1.1h-1.1zM465.9 230.5h1.1v1.1h-1.1zM473.9 242.3h1.1v1.1h-1.1zM478.0 243.4h1.1v1.1h-1.1zM469.4 228.4h1.1v1.1h-1.1zM465.8 219.8h1.1v1.1h-1.1zM482.5 219.3h1.1v1.1h-1.1zM470.8 229.7h1.1v1.1h-1.1zM487.6 224.6h1.1v1.1h-1.1zM465.6 236.7h1.1v1.1h-1.1zM482.2 222.1h1.1v1.1h-1.1zM487.7 240.9h1.1v1.1h-1.1zM487.9 239.9h1.1v1.1h-1.1zM478.6 236.7h1.1v1.1h-1.1zM468.4 235.2h1.1v1.1h-1.1zM474.0 227.2h1.1v1.1h-1.1zM473.0 220.6h1.1v1.1h-1.1zM484.9 238.3h1.1v1.1h-1.1zM465.7 231.8h1.1v1.1h-1.1zM466.0 232.6h1.1v1.1h-1.1zM469.5 243.4h1.1v1.1h-1.1zM473.1 232.1h1.1v1.1h-1.1zM471.7 242.0h1.1v1.1h-1.1zM465.6 226.3h1.1v1.1h-1.1zM470.9 237.9h1.1v1.1h-1.1zM468.5 236.6h1.1v1.1h-1.1zM463.6 241.2h1.1v1.1h-1.1zM462.6 240.2h1.1v1.1h-1.1zM466.2 242.1h1.1v1.1h-1.1zM466.5 237.5h1.1v1.1h-1.1zM465.0 240.8h1.1v1.1h-1.1zM473.3 231.8h1.1v1.1h-1.1zM465.9 242.7h1.1v1.1h-1.1zM468.1 236.7h1.1v1.1h-1.1zM463.4 244.8h1.1v1.1h-1.1zM470.6 234.4h1.1v1.1h-1.1zM475.6 234.4h1.1v1.1h-1.1zM476.1 232.9h1.1v1.1h-1.1zM463.1 239.2h1.1v1.1h-1.1zM465.2 242.4h1.1v1.1h-1.1zM469.8 236.2h1.1v1.1h-1.1zM470.6 231.9h1.1v1.1h-1.1zM469.7 241.0h1.1v1.1h-1.1zM463.3 243.2h1.1v1.1h-1.1zM470.3 234.7h1.1v1.1h-1.1zM467.6 234.9h1.1v1.1h-1.1zM463.3 240.0h1.1v1.1h-1.1zM469.9 240.5h1.1v1.1h-1.1zM471.8 232.8h1.1v1.1h-1.1zM463.5 241.6h1.1v1.1h-1.1z" fill="#9a9a9a" opacity="1.0"/>
<ellipse cx="453.7" cy="249.9" rx="21.1" ry="6.9" fill="none" stroke="#1e1e1e" stroke-width="1.3" stroke-dasharray="3,2" transform="rotate(0 453.7 249.9)"/>
<text x="397.8" y="196.2" font-size="7" font-weight="normal" text-anchor="start" fill="#231f20" stroke="#231f20" stroke-width="0.18" >CTCL</text>
<text x="497.3" y="196.2" font-size="7" font-weight="normal" text-anchor="start" fill="#231f20" stroke="#231f20" stroke-width="0.18" >Normal</text>
<text x="433.5" y="236.9" font-size="7" font-weight="normal" text-anchor="start" fill="#231f20" stroke="#231f20" stroke-width="0.18" >Intermediate</text>
<line x1="378.9" y1="20.8" x2="378.9" y2="230.2" stroke="#6a6a6a" stroke-width="1.7" />
<polygon points="375.9,21.9 381.9,21.9 378.9,16.8" fill="#111" />
<text x="0" y="0" font-size="8.6" font-weight="bold" text-anchor="start" fill="#222" stroke="#222" stroke-width="0.35" transform="translate(382.1,258.75) rotate(-90)" textLength="24.4" lengthAdjust="spacingAndGlyphs">PHATE 2</text>
<text x="439.1" y="272.4" font-size="8.6" font-weight="bold" text-anchor="start" fill="#222" stroke="#222" stroke-width="0.35" textLength="24.1" lengthAdjust="spacingAndGlyphs">PHATE 1</text>
</svg>
</body></html>
